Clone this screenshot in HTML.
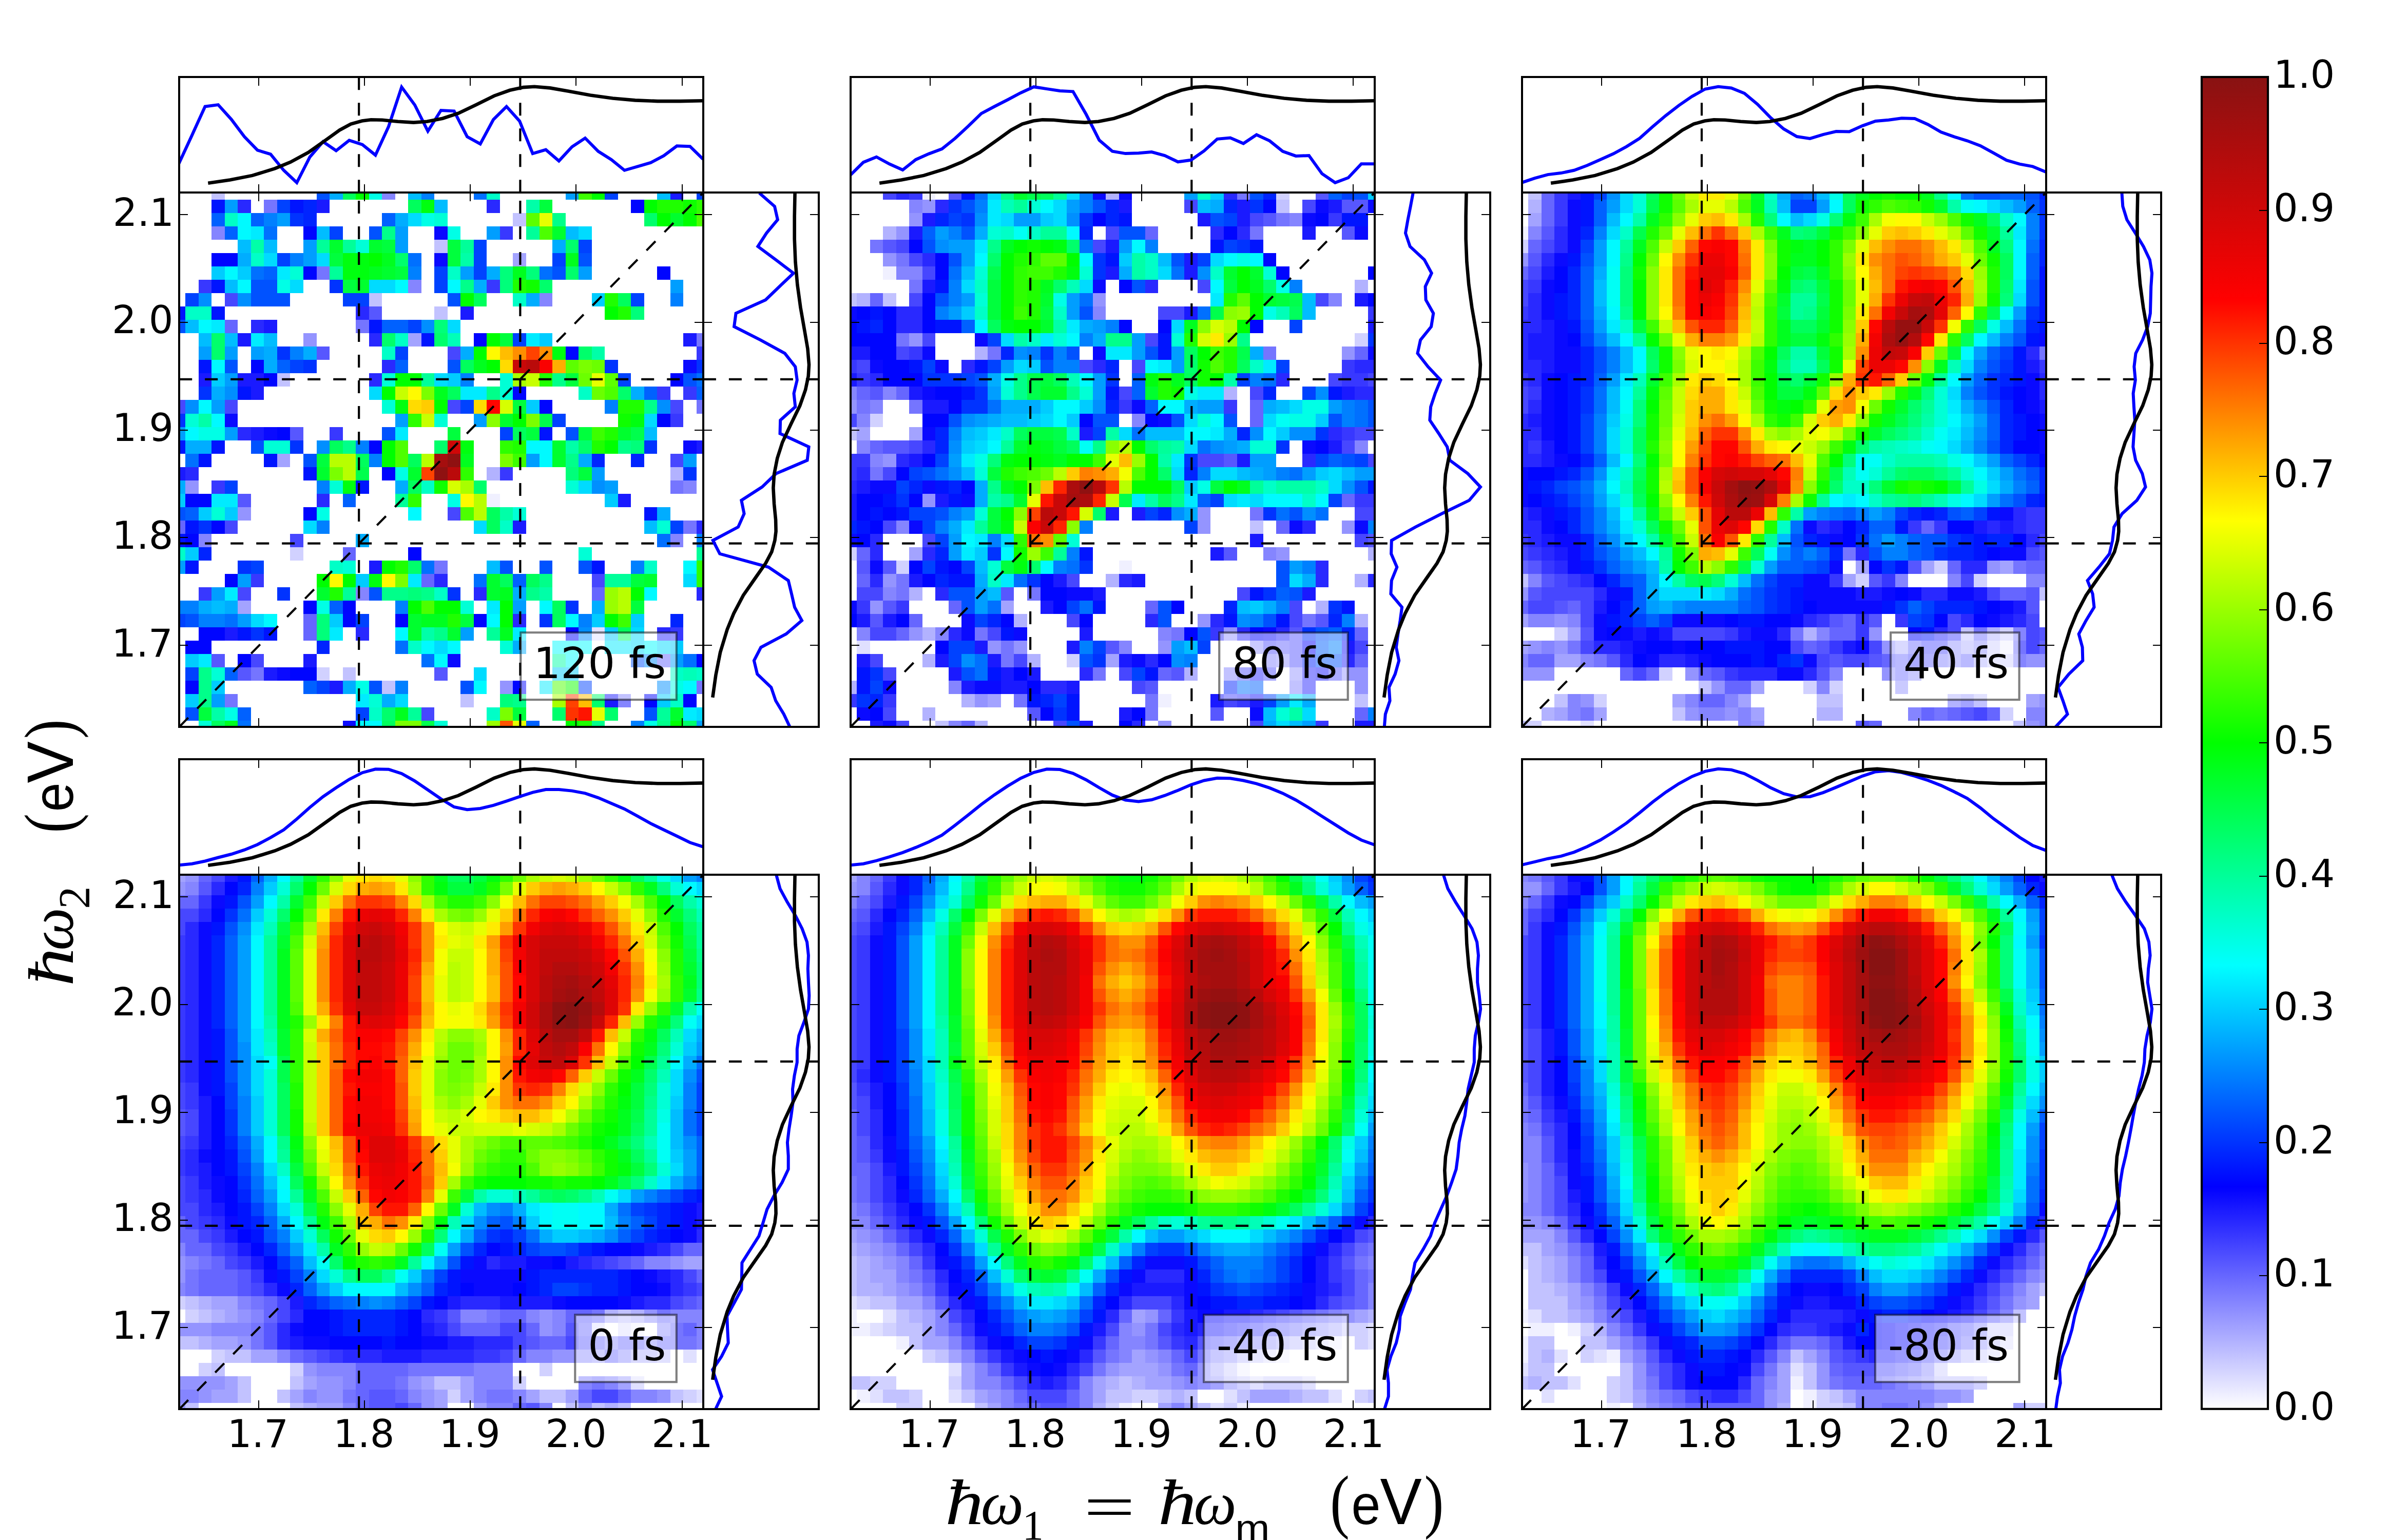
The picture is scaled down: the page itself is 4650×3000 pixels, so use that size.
<!DOCTYPE html><html><head><meta charset="utf-8"><title>2D spectra</title><style>html,body{margin:0;padding:0;background:#fff}svg{display:block}text{font-family:"DejaVu Sans","Liberation Sans",sans-serif;fill:#000}.m{font-family:"Liberation Serif","DejaVu Serif",serif;font-style:italic}.r{font-family:"Liberation Serif","DejaVu Serif",serif}</style></head><body>
<svg width="4650" height="3000" viewBox="0 0 4650 3000">
<rect width="4650" height="3000" fill="#fff"/>
<defs>
<clipPath id="h0"><rect x="349.2" y="375.2" width="1020.7" height="1040.8"/></clipPath>
<clipPath id="t0"><rect x="349.2" y="150.2" width="1020.7" height="225"/></clipPath>
<clipPath id="s0"><rect x="1369.9" y="375.2" width="224.7" height="1040.8"/></clipPath>
<clipPath id="h1"><rect x="1657.1" y="375.2" width="1020.7" height="1040.8"/></clipPath>
<clipPath id="t1"><rect x="1657.1" y="150.2" width="1020.7" height="225"/></clipPath>
<clipPath id="s1"><rect x="2677.8" y="375.2" width="224.7" height="1040.8"/></clipPath>
<clipPath id="h2"><rect x="2965" y="375.2" width="1020.7" height="1040.8"/></clipPath>
<clipPath id="t2"><rect x="2965" y="150.2" width="1020.7" height="225"/></clipPath>
<clipPath id="s2"><rect x="3985.7" y="375.2" width="224.7" height="1040.8"/></clipPath>
<clipPath id="h3"><rect x="349.2" y="1704.3" width="1020.7" height="1040.8"/></clipPath>
<clipPath id="t3"><rect x="349.2" y="1479.3" width="1020.7" height="225"/></clipPath>
<clipPath id="s3"><rect x="1369.9" y="1704.3" width="224.7" height="1040.8"/></clipPath>
<clipPath id="h4"><rect x="1657.1" y="1704.3" width="1020.7" height="1040.8"/></clipPath>
<clipPath id="t4"><rect x="1657.1" y="1479.3" width="1020.7" height="225"/></clipPath>
<clipPath id="s4"><rect x="2677.8" y="1704.3" width="224.7" height="1040.8"/></clipPath>
<clipPath id="h5"><rect x="2965" y="1704.3" width="1020.7" height="1040.8"/></clipPath>
<clipPath id="t5"><rect x="2965" y="1479.3" width="1020.7" height="225"/></clipPath>
<clipPath id="s5"><rect x="3985.7" y="1704.3" width="224.7" height="1040.8"/></clipPath>
<linearGradient id="cb" x1="0" y1="1" x2="0" y2="0">
<stop offset="0.0000" stop-color="#ffffff"/>
<stop offset="0.1667" stop-color="#0000ff"/>
<stop offset="0.3333" stop-color="#00ffff"/>
<stop offset="0.5000" stop-color="#00ff00"/>
<stop offset="0.6667" stop-color="#ffff00"/>
<stop offset="0.8333" stop-color="#ff0000"/>
<stop offset="1.0000" stop-color="#881212"/>
</linearGradient></defs>
<g clip-path="url(#h0)">
<g transform="translate(335.7 363) scale(25.53 26.03)" shape-rendering="crispEdges"><path fill="#f0f0ff" d="M24 23h1v1h-1z"/><path fill="#e0e0ff" d="M32 33h1v1h-1z"/><path fill="#d1d1ff" d="M9 27h1v1h-1zM11 36h1v1h-1z"/><path fill="#c2c2ff" d="M3 0h1v1h-1zM26 2h1v1h-1zM20 4h1v1h-1zM15 8h1v1h-1zM20 9h1v1h-1zM8 14h1v1h-1zM13 36h1v1h-1zM16 37h1v1h-1zM22 38h1v1h-1z"/><path fill="#b2b2ff" d="M24 21h1v1h-1zM38 21h1v1h-1z"/><path fill="#a3a3ff" d="M26 5h1v1h-1zM18 11h1v1h-1zM8 20h1v1h-1zM5 31h1v1h-1z"/><path fill="#9494ff" d="M10 11h1v1h-1zM1 22h1v1h-1zM5 24h1v1h-1zM25 37h1v1h-1z"/><path fill="#8585ff" d="M16 0h1v1h-1zM3 3h1v1h-1zM18 7h1v1h-1zM28 8h1v1h-1zM39 22h1v1h-1zM2 26h1v1h-1zM38 26h1v1h-1zM14 30h1v1h-1zM34 38h1v1h-1z"/><path fill="#7575ff" d="M7 1h1v1h-1zM11 6h1v1h-1zM14 10h1v1h-1zM40 11h1v1h-1zM40 16h1v1h-1zM38 22h1v1h-1zM39 25h1v1h-1zM20 28h1v1h-1zM6 36h1v1h-1zM40 37h1v1h-1zM4 38h1v1h-1z"/><path fill="#6666ff" d="M4 10h1v1h-1zM0 25h1v1h-1zM13 27h1v1h-1zM19 29h1v1h-1zM32 30h1v1h-1zM10 32h1v1h-1zM10 33h1v1h-1zM37 35h1v1h-1z"/><path fill="#5757ff" d="M15 9h1v1h-1zM11 12h1v1h-1zM9 18h1v1h-1zM5 23h1v1h-1zM3 35h1v1h-1zM5 36h1v1h-1zM20 36h1v1h-1z"/><path fill="#4747ff" d="M4 8h1v1h-1zM21 12h1v1h-1zM0 16h1v1h-1zM4 16h1v1h-1zM21 16h1v1h-1zM38 16h1v1h-1zM38 20h1v1h-1zM21 24h1v1h-1zM4 25h1v1h-1zM9 26h1v1h-1zM32 29h1v1h-1zM5 30h1v1h-1zM6 35h1v1h-1zM19 39h1v1h-1z"/><path fill="#3838ff" d="M25 3h1v1h-1zM2 7h1v1h-1zM24 7h1v1h-1zM40 12h1v1h-1zM37 15h1v1h-1zM39 15h1v1h-1zM38 17h1v1h-1zM12 18h1v1h-1zM25 21h1v1h-1zM3 22h1v1h-1zM6 29h1v1h-1zM2 30h1v1h-1zM38 33h1v1h-1z"/><path fill="#2929ff" d="M5 1h1v1h-1zM24 1h1v1h-1zM14 9h1v1h-1zM6 10h1v1h-1zM15 11h1v1h-1zM16 13h1v1h-1zM15 14h1v1h-1zM5 18h1v1h-1zM1 21h1v1h-1zM11 23h1v1h-1zM40 25h1v1h-1zM20 29h1v1h-1zM23 30h1v1h-1zM40 30h1v1h-1zM26 32h1v1h-1zM14 33h1v1h-1zM37 33h1v1h-1z"/><path fill="#1a1aff" d="M38 0h1v1h-1zM11 1h1v1h-1zM22 9h1v1h-1zM7 10h1v1h-1zM5 11h1v1h-1zM39 11h1v1h-1zM2 14h1v1h-1zM5 14h2v1h-2zM6 15h1v1h-1zM6 18h1v1h-1zM40 19h1v1h-1zM0 21h1v1h-1zM34 23h1v1h-1zM26 25h1v1h-1zM15 28h1v1h-1zM4 33h1v1h-1zM10 35h1v1h-1zM7 36h1v1h-1zM12 37h1v1h-1zM33 38h1v1h-1z"/><path fill="#0a0aff" d="M20 3h1v1h-1zM20 5h1v1h-1zM39 13h1v1h-1zM4 17h1v1h-1zM7 18h1v1h-1zM39 19h1v1h-1zM21 35h1v1h-1zM8 36h1v1h-1zM13 40h1v1h-1z"/><path fill="#0005ff" d="M35 1h1v1h-1zM10 3h1v1h-1zM3 5h2v1h-2zM10 6h1v1h-1zM37 6h1v1h-1zM23 11h1v1h-1zM30 12h1v1h-1zM6 13h1v1h-1zM7 14h1v1h-1zM38 14h1v1h-1zM26 15h1v1h-1zM28 16h1v1h-1zM37 17h1v1h-1zM8 18h1v1h-1zM15 19h1v1h-1zM16 21h1v1h-1zM1 23h2v1h-2zM10 24h1v1h-1zM3 25h1v1h-1zM1 26h1v1h-1zM18 27h1v1h-1zM4 29h1v1h-1zM10 31h1v1h-1zM13 31h1v1h-1zM13 32h1v1h-1zM17 32h1v1h-1zM23 32h1v1h-1zM2 33h2v1h-2zM30 33h1v1h-1zM1 34h2v1h-2zM5 35h1v1h-1zM40 35h1v1h-1zM9 36h2v1h-2zM1 37h1v1h-1zM26 37h1v1h-1zM36 38h1v1h-1zM39 38h1v1h-1z"/><path fill="#0014ff" d="M3 1h1v1h-1zM9 1h1v1h-1zM3 7h1v1h-1zM0 9h1v1h-1zM3 9h1v1h-1zM15 10h1v1h-1zM19 11h1v1h-1zM2 13h1v1h-1zM5 15h1v1h-1zM28 18h1v1h-1zM0 19h1v1h-1zM3 19h1v1h-1zM2 20h1v1h-1zM7 20h1v1h-1zM10 21h1v1h-1zM14 22h1v1h-1zM36 24h1v1h-1zM1 25h1v1h-1zM0 26h1v1h-1zM1 28h1v1h-1zM32 28h1v1h-1zM5 33h1v1h-1zM7 33h1v1h-1z"/><path fill="#0024ff" d="M10 1h1v1h-1zM10 2h1v1h-1zM32 20h1v1h-1zM35 20h1v1h-1zM2 27h1v1h-1zM38 32h1v1h-1zM11 34h1v1h-1z"/><path fill="#0033ff" d="M9 2h1v1h-1zM12 7h1v1h-1zM8 12h1v1h-1zM10 13h1v1h-1zM33 13h1v1h-1zM40 13h1v1h-1zM2 15h1v1h-1zM0 17h1v1h-1zM9 19h1v1h-1zM36 19h1v1h-1zM39 21h1v1h-1zM2 25h1v1h-1zM5 28h1v1h-1zM8 30h1v1h-1zM21 30h1v1h-1zM30 31h1v1h-1zM28 32h1v1h-1zM6 33h1v1h-1z"/><path fill="#0042ff" d="M33 0h1v1h-1zM40 0h1v1h-1zM8 1h1v1h-1zM12 3h1v1h-1zM23 4h1v1h-1zM31 4h1v1h-1zM8 5h1v1h-1zM23 5h1v1h-1zM29 5h1v1h-1zM20 6h1v1h-1zM23 6h1v1h-1zM20 7h1v1h-1zM1 8h1v1h-1zM13 8h2v1h-2zM35 8h1v1h-1zM18 10h1v1h-1zM26 11h1v1h-1zM17 12h1v1h-1zM9 13h1v1h-1zM34 14h1v1h-1zM22 16h1v1h-1zM29 17h1v1h-1zM25 18h1v1h-1zM4 22h1v1h-1zM38 25h1v1h-1zM6 28h1v1h-1zM0 32h1v1h-1zM14 32h1v1h-1zM1 36h1v1h-1zM11 37h1v1h-1zM31 37h1v1h-1zM14 39h1v1h-1z"/><path fill="#0052ff" d="M11 0h1v1h-1zM15 3h1v1h-1zM31 5h1v1h-1zM29 6h1v1h-1zM6 7h2v1h-2zM6 8h3v1h-3zM21 8h1v1h-1zM0 10h1v1h-1zM4 13h1v1h-1zM21 13h1v1h-1zM39 14h1v1h-1zM16 18h1v1h-1zM30 18h1v1h-1zM6 19h1v1h-1zM10 20h1v1h-1zM0 24h1v1h-1zM25 28h1v1h-1zM28 28h1v1h-1zM31 28h1v1h-1zM15 30h1v1h-1zM1 32h1v1h-1zM35 35h1v1h-1zM15 37h1v1h-1zM22 37h1v1h-1zM1 39h1v1h-1zM36 39h1v1h-1z"/><path fill="#0061ff" d="M3 2h1v1h-1zM6 2h1v1h-1zM16 2h1v1h-1zM4 3h1v1h-1zM7 6h1v1h-1zM16 10h2v1h-2zM8 13h1v1h-1zM17 13h1v1h-1zM36 15h1v1h-1zM40 15h1v1h-1zM13 23h1v1h-1zM1 24h1v1h-1zM26 29h1v1h-1zM12 31h1v1h-1zM4 36h1v1h-1zM10 37h1v1h-1zM5 39h1v1h-1zM27 40h1v1h-1z"/><path fill="#0070ff" d="M23 0h1v1h-1zM7 3h1v1h-1zM18 5h1v1h-1zM6 6h1v1h-1zM28 6h1v1h-1zM40 14h1v1h-1zM1 20h1v1h-1zM37 26h1v1h-1zM19 28h1v1h-1zM23 29h1v1h-1zM4 32h1v1h-1zM17 34h1v1h-1zM19 35h1v1h-1zM39 35h1v1h-1zM5 40h1v1h-1z"/><path fill="#0080ff" d="M19 0h1v1h-1zM7 2h1v1h-1zM9 5h1v1h-1zM18 6h1v1h-1zM38 8h1v1h-1zM9 12h1v1h-1zM22 14h1v1h-1zM33 16h1v1h-1zM14 19h1v1h-1zM15 20h1v1h-1zM11 22h1v1h-1zM11 25h1v1h-1zM40 26h1v1h-1zM35 28h1v1h-1zM0 31h2v1h-2zM17 31h1v1h-1zM2 32h2v1h-2zM31 32h1v1h-1zM17 37h1v1h-1zM35 40h1v1h-1z"/><path fill="#008fff" d="M2 8h1v1h-1zM5 8h1v1h-1zM19 10h1v1h-1zM4 15h1v1h-1zM1 16h1v1h-1zM37 16h1v1h-1zM11 19h1v1h-1zM32 22h1v1h-1zM31 33h1v1h-1zM36 35h1v1h-1zM37 37h1v1h-1z"/><path fill="#009eff" d="M30 0h1v1h-1zM4 1h1v1h-1zM8 2h1v1h-1zM17 3h1v1h-1zM24 3h1v1h-1zM10 4h1v1h-1zM17 4h1v1h-1zM10 5h1v1h-1zM22 6h1v1h-1zM31 6h1v1h-1zM38 7h1v1h-1zM2 12h1v1h-1zM4 12h1v1h-1zM6 12h1v1h-1zM4 14h1v1h-1zM3 16h1v1h-1zM17 17h1v1h-1zM23 17h1v1h-1zM0 18h1v1h-1zM4 18h1v1h-1zM27 20h1v1h-1zM39 20h1v1h-1zM32 21h1v1h-1zM33 22h1v1h-1zM0 28h1v1h-1zM5 29h1v1h-1zM3 30h1v1h-1zM26 31h1v1h-1zM5 32h1v1h-1zM22 33h1v1h-1zM38 35h1v1h-1zM3 38h1v1h-1zM40 40h1v1h-1z"/><path fill="#00adff" d="M12 0h1v1h-1zM17 2h1v1h-1zM29 4h1v1h-1zM5 5h1v1h-1zM24 6h1v1h-1zM23 7h1v1h-1zM27 8h1v1h-1zM7 12h1v1h-1zM10 12h1v1h-1zM22 12h1v1h-1zM7 13h1v1h-1zM3 15h1v1h-1zM35 15h1v1h-1zM1 19h2v1h-2zM31 20h1v1h-1zM0 22h1v1h-1zM17 22h1v1h-1zM37 24h1v1h-1zM14 26h1v1h-1zM26 30h1v1h-1zM2 31h1v1h-1zM4 31h1v1h-1zM32 31h1v1h-1zM26 34h1v1h-1zM13 37h1v1h-1zM16 38h1v1h-1z"/><path fill="#00bdff" d="M18 0h1v1h-1zM37 0h1v1h-1zM20 1h1v1h-1zM11 3h1v1h-1zM30 3h1v1h-1zM5 4h1v1h-1zM7 4h1v1h-1zM4 7h1v1h-1zM1 10h1v1h-1zM2 11h1v1h-1zM4 11h1v1h-1zM7 11h1v1h-1zM36 18h1v1h-1zM36 25h1v1h-1zM24 28h1v1h-1zM3 31h1v1h-1z"/><path fill="#00ccff" d="M3 6h1v1h-1zM5 6h1v1h-1zM32 8h1v1h-1zM28 11h1v1h-1zM3 14h1v1h-1zM21 14h1v1h-1zM27 16h1v1h-1zM0 23h1v1h-1zM33 23h1v1h-1zM2 24h1v1h-1zM4 24h1v1h-1zM1 27h1v1h-1zM14 29h1v1h-1zM12 32h1v1h-1zM32 32h1v1h-1zM35 32h1v1h-1zM33 33h1v1h-1zM38 34h1v1h-1zM1 35h1v1h-1zM29 36h2v1h-2zM3 37h1v1h-1zM1 38h1v1h-1zM37 38h1v1h-1z"/><path fill="#00dbff" d="M18 2h1v1h-1zM31 3h1v1h-1zM7 5h1v1h-1zM11 5h1v1h-1zM9 7h1v1h-1zM15 7h2v1h-2zM21 10h1v1h-1zM20 14h1v1h-1zM15 15h1v1h-1zM36 17h1v1h-1zM31 22h1v1h-1zM10 25h1v1h-1zM23 25h1v1h-1zM39 29h1v1h-1zM6 32h1v1h-1zM35 33h1v1h-1zM20 34h1v1h-1zM35 34h1v1h-1zM37 34h1v1h-1zM23 36h1v1h-1zM17 38h1v1h-1zM40 39h1v1h-1z"/><path fill="#00ebff" d="M6 3h1v1h-1zM8 6h1v1h-1zM3 10h1v1h-1zM6 11h1v1h-1zM27 11h1v1h-1zM22 15h2v1h-2zM17 18h1v1h-1zM3 23h2v1h-2zM18 29h1v1h-1zM4 30h1v1h-1zM24 31h1v1h-1zM12 33h1v1h-1zM26 33h1v1h-1zM33 34h2v1h-2zM2 35h1v1h-1zM28 37h1v1h-1zM14 38h1v1h-1zM39 39h1v1h-1z"/><path fill="#00faff" d="M5 2h1v1h-1zM5 3h1v1h-1zM4 6h1v1h-1zM5 7h1v1h-1zM17 7h1v1h-1zM21 7h1v1h-1zM2 10h1v1h-1zM3 13h1v1h-1zM2 16h1v1h-1zM3 17h1v1h-1zM1 18h1v1h-1zM27 19h2v1h-2zM28 20h1v1h-1zM18 24h1v1h-1zM39 28h1v1h-1zM36 30h1v1h-1zM28 31h1v1h-1zM7 32h1v1h-1zM24 32h1v1h-1zM30 32h1v1h-1zM17 33h1v1h-1zM19 34h1v1h-1zM21 34h1v1h-1zM29 34h1v1h-1zM31 34h1v1h-1zM36 34h1v1h-1zM20 35h1v1h-1zM30 35h1v1h-1zM23 37h1v1h-1zM39 37h1v1h-1zM14 40h2v1h-2z"/><path fill="#00fff5" d="M30 34h1v1h-1z"/><path fill="#00ffe6" d="M15 0h1v1h-1zM19 2h1v1h-1zM21 3h1v1h-1zM8 7h1v1h-1zM2 18h2v1h-2zM17 21h1v1h-1zM21 23h1v1h-1zM11 24h1v1h-1zM11 31h1v1h-1zM14 37h1v1h-1zM38 37h1v1h-1zM4 39h1v1h-1zM36 40h1v1h-1z"/><path fill="#00ffd6" d="M20 2h1v1h-1zM14 4h1v1h-1zM9 6h1v1h-1zM16 14h1v1h-1zM25 14h1v1h-1zM25 15h1v1h-1zM16 16h1v1h-1zM1 17h1v1h-1zM20 17h1v1h-1zM7 19h2v1h-2zM12 22h1v1h-1zM30 22h1v1h-1zM3 24h1v1h-1zM26 24h1v1h-1zM37 25h1v1h-1zM31 27h1v1h-1zM13 28h1v1h-1zM22 31h1v1h-1zM25 34h1v1h-1zM3 36h1v1h-1zM15 38h1v1h-1zM2 40h1v1h-1zM20 40h1v1h-1z"/><path fill="#00ffc7" d="M24 0h1v1h-1zM4 2h1v1h-1zM6 5h1v1h-1zM21 6h1v1h-1zM26 8h1v1h-1zM1 9h2v1h-2zM17 11h1v1h-1zM16 12h1v1h-1zM31 15h1v1h-1zM19 22h1v1h-1zM25 25h1v1h-1zM0 27h1v1h-1zM12 28h1v1h-1zM36 28h1v1h-1zM20 30h1v1h-1zM18 34h1v1h-1zM38 36h1v1h-1zM40 36h1v1h-1zM38 38h1v1h-1zM15 39h1v1h-1zM24 39h1v1h-1z"/><path fill="#00ffb8" d="M21 11h1v1h-1zM39 36h1v1h-1z"/><path fill="#00ffa8" d="M27 1h1v1h-1zM6 4h1v1h-1zM22 5h1v1h-1zM32 12h1v1h-1zM2 17h1v1h-1zM30 19h1v1h-1zM25 24h1v1h-1zM28 30h1v1h-1zM19 33h1v1h-1zM29 35h1v1h-1zM3 39h1v1h-1z"/><path fill="#00ff99" d="M27 3h1v1h-1zM11 4h1v1h-1zM13 4h1v1h-1zM22 4h1v1h-1zM12 6h1v1h-1zM19 14h1v1h-1zM17 23h1v1h-1zM40 27h1v1h-1zM33 29h2v1h-2zM13 30h1v1h-1zM24 33h1v1h-1zM18 39h1v1h-1zM37 39h1v1h-1z"/><path fill="#00ff8a" d="M29 2h1v1h-1zM16 3h1v1h-1zM22 7h1v1h-1zM29 14h1v1h-1zM24 15h1v1h-1zM36 16h1v1h-1zM13 19h1v1h-1zM34 19h1v1h-1zM30 20h1v1h-1zM28 29h1v1h-1zM16 30h2v1h-2zM19 30h1v1h-1zM27 30h1v1h-1zM20 33h1v1h-1zM2 36h1v1h-1zM2 37h1v1h-1zM2 38h1v1h-1zM26 38h1v1h-1zM32 40h1v1h-1zM37 40h1v1h-1z"/><path fill="#00ff7a" d="M25 6h1v1h-1zM27 6h1v1h-1zM25 7h1v1h-1zM35 9h1v1h-1zM20 10h1v1h-1zM35 19h1v1h-1zM30 21h1v1h-1zM18 30h1v1h-1zM11 32h1v1h-1zM11 33h1v1h-1zM25 38h1v1h-1z"/><path fill="#00ff6b" d="M36 2h1v1h-1zM30 4h1v1h-1zM17 5h1v1h-1zM30 6h1v1h-1zM28 7h1v1h-1zM3 11h1v1h-1zM16 11h1v1h-1zM20 11h1v1h-1zM3 12h1v1h-1zM31 12h1v1h-1zM34 15h1v1h-1zM20 19h1v1h-1zM31 19h1v1h-1zM23 22h1v1h-1zM18 28h1v1h-1zM32 38h1v1h-1zM16 39h1v1h-1zM29 39h1v1h-1zM33 39h1v1h-1zM39 40h1v1h-1z"/><path fill="#00ff5c" d="M13 0h1v1h-1zM18 1h1v1h-1zM23 8h1v1h-1zM34 8h1v1h-1zM22 13h1v1h-1zM21 15h1v1h-1zM26 18h1v1h-1zM12 19h1v1h-1zM14 20h1v1h-1zM18 20h1v1h-1zM18 22h1v1h-1zM24 24h1v1h-1zM24 25h1v1h-1zM25 29h1v1h-1zM27 29h1v1h-1zM29 31h1v1h-1zM29 32h1v1h-1zM34 33h1v1h-1zM3 40h1v1h-1zM16 40h1v1h-1z"/><path fill="#00ff4c" d="M28 17h1v1h-1zM35 18h1v1h-1zM14 21h1v1h-1zM19 40h1v1h-1z"/><path fill="#00ff3d" d="M28 1h1v1h-1zM16 4h1v1h-1zM21 4h1v1h-1zM12 5h1v1h-1zM21 5h1v1h-1zM17 6h1v1h-1zM13 7h1v1h-1zM25 11h1v1h-1zM30 14h1v1h-1zM26 16h1v1h-1zM21 18h1v1h-1zM27 18h1v1h-1zM31 18h1v1h-1zM11 20h1v1h-1zM31 21h1v1h-1zM35 29h1v1h-1zM35 31h1v1h-1zM22 32h1v1h-1zM2 39h1v1h-1zM26 39h1v1h-1z"/><path fill="#00ff2e" d="M38 2h1v1h-1zM29 3h1v1h-1zM12 4h1v1h-1zM15 4h1v1h-1zM16 6h1v1h-1zM14 7h1v1h-1zM25 17h1v1h-1zM34 18h1v1h-1zM29 19h1v1h-1zM29 20h1v1h-1zM11 21h1v1h-1zM18 21h1v1h-1zM24 29h1v1h-1zM36 29h1v1h-1zM11 30h1v1h-1zM24 30h1v1h-1zM18 32h1v1h-1zM18 33h1v1h-1zM21 33h1v1h-1zM38 39h1v1h-1z"/><path fill="#00ff1f" d="M16 5h1v1h-1zM30 5h1v1h-1zM15 6h1v1h-1zM26 6h1v1h-1zM23 13h1v1h-1zM20 15h1v1h-1zM22 20h1v1h-1zM25 30h1v1h-1zM19 32h2v1h-2zM25 33h1v1h-1zM17 39h1v1h-1zM4 40h1v1h-1z"/><path fill="#00ff0f" d="M19 1h1v1h-1zM13 5h2v1h-2zM13 6h2v1h-2zM29 12h1v1h-1zM17 16h1v1h-1zM35 17h1v1h-1zM22 19h1v1h-1zM13 22h1v1h-1zM15 29h1v1h-1z"/><path fill="#00ff00" d="M14 0h1v1h-1zM32 0h1v1h-1zM36 1h1v1h-1zM37 2h1v1h-1zM39 2h1v1h-1zM15 5h1v1h-1zM22 8h1v1h-1zM33 9h1v1h-1zM24 11h1v1h-1zM23 12h1v1h-1zM24 13h1v1h-1zM17 14h2v1h-2zM16 15h1v1h-1zM20 16h1v1h-1zM26 17h1v1h-1zM16 19h1v1h-1zM33 19h1v1h-1zM16 20h1v1h-1zM16 28h1v1h-1zM11 29h1v1h-1zM13 29h1v1h-1zM35 30h1v1h-1zM18 31h1v1h-1zM20 31h2v1h-2zM25 31h1v1h-1zM25 32h1v1h-1zM33 32h1v1h-1zM30 40h1v1h-1zM38 40h1v1h-1z"/><path fill="#0fff00" d="M39 1h1v1h-1zM27 7h1v1h-1zM34 17h1v1h-1zM20 22h1v1h-1zM30 37h1v1h-1z"/><path fill="#1fff00" d="M37 1h2v1h-2zM26 7h1v1h-1zM33 8h1v1h-1zM34 9h1v1h-1zM28 14h1v1h-1zM34 16h2v1h-2zM33 18h1v1h-1zM26 19h1v1h-1zM32 19h1v1h-1zM17 28h1v1h-1zM12 30h1v1h-1zM21 32h1v1h-1zM31 40h1v1h-1z"/><path fill="#2eff00" d="M40 1h1v1h-1zM18 17h1v1h-1zM25 19h1v1h-1zM22 21h1v1h-1zM18 23h1v1h-1zM40 28h1v1h-1zM40 29h1v1h-1z"/><path fill="#3dff00" d="M31 0h1v1h-1zM32 18h1v1h-1zM26 20h1v1h-1zM34 32h1v1h-1z"/><path fill="#4dff00" d="M40 2h1v1h-1zM28 3h1v1h-1zM33 15h1v1h-1zM17 19h1v1h-1zM17 20h1v1h-1zM22 24h1v1h-1zM19 31h1v1h-1zM29 37h1v1h-1z"/><path fill="#5cff00" d="M27 2h1v1h-1zM30 13h1v1h-1zM33 14h1v1h-1z"/><path fill="#6bff00" d="M32 13h1v1h-1zM31 14h1v1h-1zM32 15h1v1h-1z"/><path fill="#7aff00" d="M31 13h1v1h-1zM19 15h1v1h-1zM27 17h1v1h-1zM25 20h1v1h-1zM12 21h1v1h-1zM17 29h1v1h-1zM25 39h1v1h-1zM17 40h2v1h-2z"/><path fill="#8aff00" d="M24 17h1v1h-1z"/><path fill="#99ff00" d="M33 30h1v1h-1zM33 31h1v1h-1zM24 40h1v1h-1z"/><path fill="#a8ff00" d="M26 14h1v1h-1zM22 22h1v1h-1zM29 38h1v1h-1z"/><path fill="#b8ff00" d="M12 20h2v1h-2zM19 20h1v1h-1zM13 21h1v1h-1zM23 23h1v1h-1zM23 24h1v1h-1zM34 30h1v1h-1zM34 31h1v1h-1z"/><path fill="#c7ff00" d="M27 14h1v1h-1zM17 15h1v1h-1zM19 17h1v1h-1z"/><path fill="#d6ff00" d="M25 16h1v1h-1zM21 22h1v1h-1z"/><path fill="#e6ff00" d="M28 2h1v1h-1zM32 14h1v1h-1zM32 39h1v1h-1zM26 40h1v1h-1z"/><path fill="#fffa00" d="M24 12h1v1h-1zM18 15h1v1h-1zM22 23h1v1h-1zM12 29h1v1h-1zM16 29h1v1h-1z"/><path fill="#ffdb00" d="M25 13h1v1h-1zM18 16h1v1h-1zM23 16h1v1h-1z"/><path fill="#ffcc00" d="M19 16h1v1h-1z"/><path fill="#ffbd00" d="M25 12h1v1h-1zM31 38h1v1h-1z"/><path fill="#ffad00" d="M29 13h1v1h-1z"/><path fill="#ff8f00" d="M26 12h1v1h-1zM28 12h1v1h-1z"/><path fill="#ff5200" d="M25 40h1v1h-1z"/><path fill="#ff4200" d="M27 12h1v1h-1zM19 21h1v1h-1zM30 38h1v1h-1z"/><path fill="#ff3300" d="M30 39h1v1h-1z"/><path fill="#ff1400" d="M31 39h1v1h-1z"/><path fill="#ff0500" d="M24 16h1v1h-1z"/><path fill="#fa0101" d="M28 13h1v1h-1z"/><path fill="#cf0707" d="M21 19h1v1h-1z"/><path fill="#c80808" d="M26 13h1v1h-1z"/><path fill="#ba0a0a" d="M27 13h1v1h-1zM21 21h1v1h-1z"/><path fill="#a50e0e" d="M20 20h1v1h-1z"/><path fill="#8f1111" d="M21 20h1v1h-1zM20 21h1v1h-1z"/></g>
</g>
<g stroke="#000" stroke-width="4.17" fill="none" stroke-dasharray="25 25">
<path d="M699.2 1416V375.2M699.2 375.2V150.2"/>
<path d="M1013.4 1416V375.2M1013.4 375.2V150.2"/>
<path d="M349.2 1058.7H1369.9M1369.9 1058.7H1594.6"/>
<path d="M349.2 738.8H1369.9M1369.9 738.8H1594.6"/>
<path d="M349.2 1416L1369.9 375.2"/>
</g>
<g clip-path="url(#t0)">
<polyline fill="none" stroke="#0000ff" stroke-width="6.0" stroke-linejoin="miter" stroke-miterlimit="10" points="348.4,318.8 374,263.4 399.5,207.5 425,204.1 450.6,232.4 476.1,266.4 501.6,292.6 527.1,300.4 552.7,331.8 578.2,355.8 603.7,305.7 629.3,276 654.8,293.5 680.3,273.4 705.9,281.7 731.4,302.2 756.9,246.8 782.4,169.6 808,204.5 833.5,255.5 859,215 884.6,216.3 910.1,266.4 935.6,280.4 961.2,232.8 986.7,207.5 1012.2,235.9 1037.7,299.1 1063.3,291.7 1088.8,313.5 1114.3,286 1139.9,269 1165.4,294.8 1190.9,310.9 1216.5,331.8 1242,324.4 1267.5,317 1293,303.5 1318.6,284.3 1344.1,285.2 1369.6,310" />
<polyline fill="none" stroke="#000" stroke-width="6.6" stroke-linejoin="miter" stroke-miterlimit="10" points="405.3,356.7 448,350.6 491.6,341.9 535.3,328.4 565.8,315.8 600.7,297 635.6,272.1 661.7,253.4 683.5,241.6 705.3,235.5 722.8,233.3 744.6,233.8 775.1,236.8 805.6,238.6 831.8,236.8 862.3,230.7 892.9,220.7 927.8,204.1 962.6,186.7 993.2,175.8 1019.3,170.1 1041.1,168.8 1071.7,171.4 1106.6,177.5 1150.2,185.4 1193.8,191.5 1237.4,195.4 1281,197.1 1324.6,197.1 1369.5,196.3" />
</g>
<g clip-path="url(#s0)">
<polyline fill="none" stroke="#0000ff" stroke-width="6.0" stroke-linejoin="miter" stroke-miterlimit="10" points="1479.2,376 1509,402 1514.9,428 1493.2,454.1 1476.4,480.1 1511.4,506.1 1545.8,532.2 1518.4,558.2 1491.4,584.2 1433.6,610.3 1430.1,636.3 1481.6,662.3 1528.9,688.3 1549.3,714.4 1552.8,740.4 1546.5,766.4 1549.3,792.5 1520.2,818.5 1519.5,844.5 1575.6,870.6 1572.6,896.6 1511.8,922.6 1484.7,948.6 1444.3,974.7 1449.6,1000.7 1438,1026.7 1388.8,1052.8 1402.2,1078.8 1497,1104.8 1535.7,1130.9 1542,1156.9 1548,1182.9 1562,1208.9 1531.5,1235 1482.3,1261 1468.9,1287 1475.2,1313.1 1502.3,1339.1 1511.1,1365.1 1526.9,1391.2 1539.2,1417.2" />
<polyline fill="none" stroke="#000" stroke-width="6.6" stroke-linejoin="miter" stroke-miterlimit="10" points="1388.3,1358.8 1394.4,1315.2 1403.1,1270.8 1416.6,1226.3 1429.3,1195.2 1448,1159.6 1472.8,1124 1491.5,1097.3 1503.3,1075.1 1509.4,1052.9 1511.6,1035.1 1511.1,1012.8 1508.1,981.7 1506.4,950.6 1508.1,923.9 1514.2,892.8 1524.2,861.6 1540.8,826.1 1558.2,790.5 1569.1,759.4 1574.7,732.7 1576,710.4 1573.4,679.3 1567.3,643.7 1559.5,599.3 1553.4,554.8 1549.5,510.3 1547.7,465.8 1547.7,421.4 1548.6,375.6" />
</g>
<rect x="1014.3" y="1232.2" width="303.5" height="130.9" fill="#fff" fill-opacity="0.5" stroke="#000" stroke-opacity="0.5" stroke-width="4.17"/>
<text x="1297.4" y="1321" font-size="83.3" text-anchor="end">120 fs</text>
<path stroke="#000" stroke-width="2.0" fill="none" shape-rendering="crispEdges" d="M504.3 1416v-16.7M504.3 358.5v33.4M504.3 150.2v16.7M349.2 1257.2h16.7M1353.2 1257.2h33.4M1594.6 1257.2h-16.7M710.4 1416v-16.7M710.4 358.5v33.4M710.4 150.2v16.7M349.2 1047.4h16.7M1353.2 1047.4h33.4M1594.6 1047.4h-16.7M916.4 1416v-16.7M916.4 358.5v33.4M916.4 150.2v16.7M349.2 837.6h16.7M1353.2 837.6h33.4M1594.6 837.6h-16.7M1122.4 1416v-16.7M1122.4 358.5v33.4M1122.4 150.2v16.7M349.2 627.8h16.7M1353.2 627.8h33.4M1594.6 627.8h-16.7M1328.5 1416v-16.7M1328.5 358.5v33.4M1328.5 150.2v16.7M349.2 418h16.7M1353.2 418h33.4M1594.6 418h-16.7"/>
<g stroke="#000" stroke-width="4" fill="none" stroke-linecap="square" shape-rendering="crispEdges">
<rect x="349.2" y="150.2" width="1020.7" height="225"/>
<rect x="349.2" y="375.2" width="1020.7" height="1040.8"/>
<rect x="1369.9" y="375.2" width="224.7" height="1040.8"/>
</g>
<text x="336.8" y="1278.7" font-size="75" text-anchor="end">1.7</text>
<text x="337.5" y="1068.9" font-size="75" text-anchor="end">1.8</text>
<text x="338" y="859.1" font-size="75" text-anchor="end">1.9</text>
<text x="337.4" y="649.3" font-size="75" text-anchor="end">2.0</text>
<text x="339" y="439.5" font-size="75" text-anchor="end">2.1</text>
<g clip-path="url(#h1)">
<g transform="translate(1643.6 363) scale(25.53 26.03)" shape-rendering="crispEdges"><path fill="#f0f0ff" d="M6 0h1v1h-1zM3 6h1v1h-1zM21 28h1v1h-1zM24 38h1v1h-1z"/><path fill="#e0e0ff" d="M1 34h1v1h-1z"/><path fill="#d1d1ff" d="M33 0h1v1h-1zM39 11h1v1h-1zM2 17h1v1h-1zM0 27h1v1h-1zM4 28h1v1h-1zM17 35h1v1h-1z"/><path fill="#c2c2ff" d="M33 1h1v1h-1zM0 8h1v1h-1zM3 8h1v1h-1zM0 18h1v1h-1zM31 25h1v1h-1zM39 38h1v1h-1zM7 40h1v1h-1z"/><path fill="#b2b2ff" d="M20 0h1v1h-1zM3 3h1v1h-1zM39 7h1v1h-1zM1 8h1v1h-1zM10 12h1v1h-1zM29 15h1v1h-1zM40 27h1v1h-1zM20 29h1v1h-1zM39 29h1v1h-1zM5 30h1v1h-1zM36 31h1v1h-1zM13 32h1v1h-1zM39 32h1v1h-1zM6 33h1v1h-1zM6 35h1v1h-1zM14 35h1v1h-1zM26 36h1v1h-1zM0 37h1v1h-1zM9 38h1v1h-1zM6 39h1v1h-1zM10 40h1v1h-1z"/><path fill="#a3a3ff" d="M1 18h1v1h-1zM5 18h1v1h-1zM5 27h1v1h-1zM12 31h1v1h-1zM20 35h1v1h-1zM11 38h1v1h-1z"/><path fill="#9494ff" d="M6 1h1v1h-1zM5 2h1v1h-1zM4 3h1v1h-1zM3 5h1v1h-1zM19 8h1v1h-1zM5 11h1v1h-1zM38 12h1v1h-1zM0 16h1v1h-1zM3 20h1v1h-1zM6 23h1v1h-1zM27 24h1v1h-1zM27 25h1v1h-1zM38 25h1v1h-1zM33 27h1v1h-1zM3 29h1v1h-1zM2 31h1v1h-1zM27 32h1v1h-1zM5 33h1v1h-1zM29 33h1v1h-1zM11 34h1v1h-1zM13 34h1v1h-1zM24 34h1v1h-1zM31 34h1v1h-1zM33 35h1v1h-1zM34 36h1v1h-1zM38 36h2v1h-2zM39 37h1v1h-1zM10 38h1v1h-1zM24 40h1v1h-1z"/><path fill="#8585ff" d="M5 1h1v1h-1zM34 2h1v1h-1zM4 6h2v1h-2zM37 8h1v1h-1zM19 9h1v1h-1zM0 15h1v1h-1zM3 15h1v1h-1zM2 16h1v1h-1zM1 17h1v1h-1zM22 17h1v1h-1zM1 19h1v1h-1zM39 19h1v1h-1zM2 20h1v1h-1zM4 25h1v1h-1zM32 27h1v1h-1zM3 30h1v1h-1zM1 33h1v1h-1zM7 33h1v1h-1zM24 33h1v1h-1zM21 34h1v1h-1zM32 35h1v1h-1zM29 36h1v1h-1zM8 37h1v1h-1zM34 37h1v1h-1zM8 40h1v1h-1z"/><path fill="#7575ff" d="M30 0h1v1h-1zM33 2h1v1h-1zM31 3h1v1h-1zM2 4h1v1h-1zM4 5h1v1h-1zM5 7h1v1h-1zM4 11h1v1h-1zM11 12h1v1h-1zM32 12h1v1h-1zM1 16h1v1h-1zM5 16h1v1h-1zM2 21h1v1h-1zM31 24h1v1h-1zM4 29h1v1h-1zM4 30h1v1h-1zM14 30h1v1h-1zM35 32h1v1h-1zM10 33h1v1h-1zM25 33h1v1h-1zM12 34h1v1h-1zM12 35h1v1h-1zM19 36h1v1h-1zM13 38h1v1h-1zM23 38h1v1h-1zM23 39h1v1h-1z"/><path fill="#6666ff" d="M23 3h1v1h-1zM2 8h1v1h-1zM39 12h1v1h-1zM1 15h1v1h-1zM4 15h1v1h-1zM31 16h1v1h-1zM31 17h1v1h-1zM2 19h1v1h-1zM38 23h1v1h-1zM33 25h1v1h-1zM1 27h1v1h-1zM1 29h1v1h-1zM8 31h1v1h-1zM23 31h1v1h-1zM5 32h1v1h-1zM4 33h1v1h-1zM39 33h1v1h-1zM33 34h1v1h-1zM39 35h1v1h-1zM24 36h1v1h-1zM39 39h1v1h-1zM9 40h1v1h-1z"/><path fill="#5757ff" d="M8 0h1v1h-1zM36 0h1v1h-1zM38 1h2v1h-2zM32 2h1v1h-1zM38 3h1v1h-1zM3 4h1v1h-1zM2 15h1v1h-1zM3 19h2v1h-2zM29 20h1v1h-1zM40 26h1v1h-1zM29 27h1v1h-1zM1 28h1v1h-1zM3 28h1v1h-1zM12 30h1v1h-1zM3 31h1v1h-1zM2 32h1v1h-1zM36 32h1v1h-1zM34 33h1v1h-1zM20 34h1v1h-1zM32 34h1v1h-1zM34 34h1v1h-1zM34 35h1v1h-1zM25 36h1v1h-1zM30 36h1v1h-1zM32 36h1v1h-1zM37 36h1v1h-1zM23 37h1v1h-1zM14 39h1v1h-1zM28 39h1v1h-1z"/><path fill="#4747ff" d="M3 0h1v1h-1zM26 1h1v1h-1zM35 1h1v1h-1zM31 2h1v1h-1zM20 3h1v1h-1zM4 4h1v1h-1zM19 4h1v1h-1zM5 5h1v1h-1zM6 6h1v1h-1zM27 7h1v1h-1zM5 8h1v1h-1zM36 8h1v1h-1zM24 9h2v1h-2zM6 11h1v1h-1zM23 11h1v1h-1zM4 12h1v1h-1zM1 13h1v1h-1zM18 13h1v1h-1zM22 13h1v1h-1zM37 14h1v1h-1zM40 14h1v1h-1zM21 15h1v1h-1zM31 15h1v1h-1zM0 17h1v1h-1zM39 18h2v1h-2zM5 19h1v1h-1zM38 19h1v1h-1zM27 20h2v1h-2zM40 20h1v1h-1zM3 21h1v1h-1zM39 24h2v1h-2zM3 25h1v1h-1zM6 26h1v1h-1zM39 26h1v1h-1zM17 29h1v1h-1zM1 30h2v1h-2zM30 30h1v1h-1zM34 31h1v1h-1zM17 32h1v1h-1zM34 32h1v1h-1zM2 33h2v1h-2zM11 33h1v1h-1zM39 34h1v1h-1zM2 35h1v1h-1zM13 35h1v1h-1zM3 36h1v1h-1zM21 36h1v1h-1zM22 37h1v1h-1zM29 38h1v1h-1zM3 39h1v1h-1zM4 40h1v1h-1zM16 40h1v1h-1zM31 40h1v1h-1z"/><path fill="#3838ff" d="M5 0h1v1h-1zM37 2h1v1h-1zM40 9h1v1h-1zM5 12h1v1h-1zM0 13h1v1h-1zM38 13h1v1h-1zM1 14h1v1h-1zM38 14h2v1h-2zM21 16h1v1h-1zM29 16h1v1h-1zM38 18h1v1h-1zM0 20h2v1h-2zM0 21h1v1h-1zM39 23h2v1h-2zM1 31h1v1h-1zM4 31h1v1h-1zM28 33h1v1h-1zM0 38h1v1h-1zM3 38h1v1h-1zM30 38h1v1h-1zM36 40h1v1h-1z"/><path fill="#2929ff" d="M4 0h1v1h-1zM29 0h1v1h-1zM7 1h1v1h-1zM28 3h1v1h-1zM30 3h1v1h-1zM6 5h1v1h-1zM23 7h1v1h-1zM4 9h2v1h-2zM4 10h2v1h-2zM9 13h1v1h-1zM19 13h1v1h-1zM39 13h2v1h-2zM2 14h1v1h-1zM33 14h1v1h-1zM39 15h2v1h-2zM37 18h1v1h-1zM6 19h1v1h-1zM4 20h1v1h-1zM35 20h1v1h-1zM1 21h1v1h-1zM0 22h1v1h-1zM35 25h1v1h-1zM2 26h1v1h-1zM2 27h1v1h-1zM6 27h1v1h-1zM36 28h1v1h-1zM2 29h1v1h-1zM21 29h1v1h-1zM36 29h1v1h-1zM40 29h1v1h-1zM7 30h1v1h-1zM23 32h1v1h-1zM28 32h1v1h-1zM8 33h1v1h-1zM30 33h1v1h-1zM33 33h1v1h-1zM23 35h1v1h-1zM38 35h1v1h-1zM18 36h1v1h-1zM31 36h1v1h-1zM35 36h1v1h-1zM15 37h2v1h-2zM35 37h1v1h-1zM22 40h1v1h-1z"/><path fill="#1a1aff" d="M21 1h1v1h-1zM30 1h1v1h-1zM37 1h1v1h-1zM6 2h1v1h-1zM27 2h1v1h-1zM30 2h1v1h-1zM5 3h1v1h-1zM35 3h1v1h-1zM20 4h1v1h-1zM26 5h1v1h-1zM20 6h1v1h-1zM26 6h1v1h-1zM6 7h1v1h-1zM39 8h1v1h-1zM26 9h1v1h-1zM40 10h1v1h-1zM0 12h2v1h-2zM0 14h1v1h-1zM5 15h1v1h-1zM38 15h1v1h-1zM6 16h2v1h-2zM18 18h1v1h-1zM37 19h1v1h-1zM5 20h1v1h-1zM30 20h1v1h-1zM1 22h1v1h-1zM0 23h1v1h-1zM7 23h1v1h-1zM0 24h1v1h-1zM20 24h1v1h-1zM22 24h1v1h-1zM31 26h1v1h-1zM28 27h1v1h-1zM5 29h1v1h-1zM16 29h1v1h-1zM22 29h1v1h-1zM19 30h1v1h-1zM35 30h1v1h-1zM15 31h1v1h-1zM1 32h1v1h-1zM3 32h1v1h-1zM18 33h1v1h-1zM10 34h1v1h-1zM17 34h1v1h-1zM38 34h1v1h-1zM1 35h1v1h-1zM7 35h1v1h-1zM11 35h1v1h-1zM21 35h1v1h-1zM8 36h1v1h-1zM12 36h1v1h-1zM14 36h1v1h-1zM36 36h1v1h-1zM9 37h1v1h-1zM12 37h2v1h-2zM17 37h1v1h-1zM28 38h1v1h-1zM31 38h1v1h-1zM21 39h1v1h-1zM2 40h1v1h-1zM18 40h1v1h-1zM39 40h2v1h-2z"/><path fill="#0a0aff" d="M19 0h1v1h-1zM21 0h1v1h-1zM36 1h1v1h-1zM40 1h1v1h-1zM35 2h1v1h-1zM39 3h1v1h-1zM19 7h1v1h-1zM0 9h1v1h-1zM10 11h1v1h-1zM6 12h1v1h-1zM19 12h1v1h-1zM40 12h1v1h-1zM2 13h1v1h-1zM7 13h1v1h-1zM6 15h1v1h-1zM22 16h1v1h-1zM24 17h1v1h-1zM6 18h1v1h-1zM35 19h1v1h-1zM2 22h2v1h-2zM6 22h1v1h-1zM9 23h1v1h-1zM5 25h1v1h-1zM34 25h1v1h-1zM39 25h1v1h-1zM0 26h1v1h-1zM2 28h1v1h-1zM17 30h2v1h-2zM0 31h1v1h-1zM9 32h1v1h-1zM9 33h1v1h-1zM13 33h1v1h-1zM32 33h1v1h-1zM35 34h1v1h-1zM22 35h1v1h-1zM3 37h1v1h-1zM10 37h2v1h-2zM1 39h1v1h-1zM31 39h1v1h-1zM3 40h1v1h-1z"/><path fill="#0005ff" d="M32 1h1v1h-1zM19 2h1v1h-1zM36 2h1v1h-1zM29 3h1v1h-1zM5 4h1v1h-1zM7 5h1v1h-1zM32 5h1v1h-1zM7 6h1v1h-1zM33 6h1v1h-1zM40 6h1v1h-1zM21 7h1v1h-1zM6 8h1v1h-1zM40 8h1v1h-1zM1 9h1v1h-1zM3 9h1v1h-1zM6 9h1v1h-1zM0 10h1v1h-1zM3 10h1v1h-1zM6 10h1v1h-1zM21 10h1v1h-1zM24 10h1v1h-1zM31 10h1v1h-1zM0 11h4v1h-4zM2 12h2v1h-2zM3 13h2v1h-2zM3 14h3v1h-3zM7 15h2v1h-2zM8 16h1v1h-1zM6 17h2v1h-2zM18 17h1v1h-1zM23 17h1v1h-1zM36 19h1v1h-1zM6 20h1v1h-1zM4 21h1v1h-1zM9 22h1v1h-1zM1 23h2v1h-2zM5 23h1v1h-1zM1 24h1v1h-1zM3 24h1v1h-1zM2 25h1v1h-1zM1 26h1v1h-1zM5 28h1v1h-1zM8 28h1v1h-1zM6 29h1v1h-1zM15 29h1v1h-1zM15 30h2v1h-2zM16 31h1v1h-1zM25 31h1v1h-1zM0 32h1v1h-1zM4 32h1v1h-1zM12 32h1v1h-1zM18 32h1v1h-1zM26 33h1v1h-1zM31 33h1v1h-1zM7 34h1v1h-1zM24 35h1v1h-1zM13 36h1v1h-1zM14 37h1v1h-1zM2 39h1v1h-1zM15 39h1v1h-1zM22 39h1v1h-1zM21 40h1v1h-1z"/><path fill="#0014ff" d="M9 0h1v1h-1zM21 2h1v1h-1zM38 2h2v1h-2zM28 4h1v1h-1zM31 4h1v1h-1zM20 5h1v1h-1zM7 7h1v1h-1zM2 9h1v1h-1zM1 10h1v1h-1zM7 10h2v1h-2zM24 11h1v1h-1zM24 12h1v1h-1zM5 13h1v1h-1zM10 13h1v1h-1zM9 15h1v1h-1zM20 15h1v1h-1zM37 15h1v1h-1zM7 22h1v1h-1zM40 22h1v1h-1zM3 23h1v1h-1zM8 23h1v1h-1zM2 24h1v1h-1zM4 24h1v1h-1zM1 25h1v1h-1zM18 27h1v1h-1zM7 28h1v1h-1zM8 29h2v1h-2zM31 30h1v1h-1zM19 31h1v1h-1zM38 31h1v1h-1zM29 32h1v1h-1zM33 32h1v1h-1zM12 33h1v1h-1zM1 36h1v1h-1zM11 36h1v1h-1zM23 36h1v1h-1zM1 37h1v1h-1zM14 38h1v1h-1zM17 38h1v1h-1zM17 39h1v1h-1z"/><path fill="#0024ff" d="M32 0h1v1h-1zM20 1h1v1h-1zM29 1h1v1h-1zM7 2h1v1h-1zM20 2h1v1h-1zM18 3h1v1h-1zM2 10h1v1h-1zM12 12h1v1h-1zM20 13h1v1h-1zM32 15h1v1h-1zM20 16h1v1h-1zM7 18h1v1h-1zM30 18h1v1h-1zM7 19h1v1h-1zM26 21h1v1h-1zM5 22h1v1h-1zM8 22h1v1h-1zM24 24h1v1h-1zM0 25h1v1h-1zM7 27h1v1h-1zM7 29h1v1h-1zM29 31h1v1h-1zM11 32h1v1h-1zM37 32h1v1h-1zM38 33h1v1h-1zM35 35h1v1h-1zM29 37h1v1h-1zM2 38h1v1h-1zM15 38h1v1h-1z"/><path fill="#0033ff" d="M8 1h1v1h-1zM31 1h1v1h-1zM9 2h1v1h-1zM18 2h1v1h-1zM30 4h1v1h-1zM19 5h1v1h-1zM19 6h1v1h-1zM40 11h1v1h-1zM15 12h1v1h-1zM6 14h3v1h-3zM20 14h1v1h-1zM10 15h1v1h-1zM9 16h2v1h-2zM36 18h1v1h-1zM33 19h1v1h-1zM26 20h1v1h-1zM4 23h1v1h-1zM32 24h1v1h-1zM11 27h1v1h-1zM18 28h1v1h-1zM14 29h1v1h-1zM32 30h1v1h-1zM37 31h1v1h-1zM35 33h1v1h-1zM19 35h1v1h-1zM2 36h1v1h-1zM1 38h1v1h-1zM16 39h1v1h-1z"/><path fill="#0042ff" d="M38 0h1v1h-1zM8 2h1v1h-1zM29 2h1v1h-1zM29 4h1v1h-1zM27 5h1v1h-1zM34 10h1v1h-1zM11 11h1v1h-1zM6 13h1v1h-1zM11 13h1v1h-1zM33 13h1v1h-1zM9 14h1v1h-1zM30 14h1v1h-1zM35 15h1v1h-1zM19 18h1v1h-1zM7 20h1v1h-1zM36 20h1v1h-1zM39 20h1v1h-1zM5 21h1v1h-1zM4 22h1v1h-1zM28 23h1v1h-1zM37 23h1v1h-1zM5 24h2v1h-2zM23 24h1v1h-1zM6 25h1v1h-1zM26 25h1v1h-1zM7 26h1v1h-1zM6 28h1v1h-1zM9 28h1v1h-1zM17 31h1v1h-1zM10 32h1v1h-1zM8 34h2v1h-2zM19 34h1v1h-1zM27 34h1v1h-1zM8 35h1v1h-1zM22 36h1v1h-1zM2 37h1v1h-1zM16 38h1v1h-1zM32 38h1v1h-1z"/><path fill="#0052ff" d="M31 0h1v1h-1zM39 0h1v1h-1zM9 1h1v1h-1zM19 1h1v1h-1zM28 2h1v1h-1zM9 3h1v1h-1zM21 3h2v1h-2zM6 4h1v1h-1zM8 5h1v1h-1zM25 5h1v1h-1zM22 7h1v1h-1zM7 8h1v1h-1zM18 9h1v1h-1zM17 12h1v1h-1zM23 12h1v1h-1zM15 13h1v1h-1zM10 14h1v1h-1zM40 16h1v1h-1zM8 17h1v1h-1zM19 17h2v1h-2zM25 17h1v1h-1zM29 17h1v1h-1zM37 17h1v1h-1zM40 17h1v1h-1zM38 20h1v1h-1zM6 21h1v1h-1zM39 22h1v1h-1zM7 24h1v1h-1zM34 24h1v1h-1zM33 28h1v1h-1zM33 29h1v1h-1zM8 30h2v1h-2zM34 30h1v1h-1zM9 31h1v1h-1zM24 31h1v1h-1zM24 32h1v1h-1zM32 32h1v1h-1zM27 33h1v1h-1zM36 33h1v1h-1zM18 35h1v1h-1zM36 35h2v1h-2zM9 36h1v1h-1zM17 40h1v1h-1z"/><path fill="#0061ff" d="M37 0h1v1h-1zM6 3h1v1h-1zM9 10h1v1h-1zM22 14h1v1h-1zM22 15h1v1h-1zM23 16h1v1h-1zM37 20h1v1h-1zM27 23h1v1h-1zM33 30h1v1h-1zM37 33h1v1h-1zM36 34h1v1h-1zM31 37h1v1h-1z"/><path fill="#0070ff" d="M10 0h1v1h-1zM18 4h1v1h-1zM8 6h1v1h-1zM25 6h1v1h-1zM18 8h1v1h-1zM27 9h1v1h-1zM32 14h1v1h-1zM11 16h1v1h-1zM39 16h1v1h-1zM39 17h1v1h-1zM22 18h1v1h-1zM27 19h1v1h-1zM7 21h1v1h-1zM34 21h1v1h-1zM33 24h1v1h-1zM36 24h1v1h-1zM17 28h1v1h-1zM13 29h1v1h-1zM11 31h1v1h-1zM18 31h1v1h-1zM10 35h1v1h-1zM10 36h1v1h-1zM30 37h1v1h-1z"/><path fill="#0080ff" d="M18 0h1v1h-1zM10 1h1v1h-1zM18 1h1v1h-1zM8 3h1v1h-1zM23 4h1v1h-1zM8 7h1v1h-1zM34 7h1v1h-1zM8 8h1v1h-1zM7 9h1v1h-1zM20 10h1v1h-1zM18 11h1v1h-1zM14 12h1v1h-1zM16 12h1v1h-1zM16 13h2v1h-2zM31 14h1v1h-1zM38 16h1v1h-1zM38 17h1v1h-1zM8 18h1v1h-1zM27 21h1v1h-1zM33 21h1v1h-1zM8 24h1v1h-1zM7 25h1v1h-1zM18 25h1v1h-1zM40 25h1v1h-1zM11 26h1v1h-1zM17 27h1v1h-1zM16 28h1v1h-1zM35 28h1v1h-1zM33 31h1v1h-1zM31 32h1v1h-1zM38 32h1v1h-1zM18 34h1v1h-1zM37 34h1v1h-1zM26 35h1v1h-1zM40 39h1v1h-1z"/><path fill="#008fff" d="M10 2h1v1h-1zM17 2h1v1h-1zM7 4h1v1h-1zM27 6h1v1h-1zM13 12h1v1h-1zM36 15h1v1h-1zM19 16h1v1h-1zM9 17h1v1h-1zM31 18h1v1h-1zM34 18h2v1h-2zM8 19h1v1h-1zM28 19h1v1h-1zM8 21h1v1h-1zM38 22h1v1h-1zM25 24h1v1h-1zM35 24h1v1h-1zM30 32h1v1h-1zM9 35h1v1h-1zM25 35h1v1h-1z"/><path fill="#009eff" d="M26 0h1v1h-1zM17 1h1v1h-1zM13 2h2v1h-2zM7 3h1v1h-1zM8 4h2v1h-2zM21 4h1v1h-1zM9 5h1v1h-1zM9 8h1v1h-1zM17 8h1v1h-1zM8 9h1v1h-1zM17 9h1v1h-1zM19 10h1v1h-1zM22 11h1v1h-1zM22 12h1v1h-1zM25 12h1v1h-1zM12 13h1v1h-1zM25 13h1v1h-1zM19 14h1v1h-1zM11 15h1v1h-1zM19 15h1v1h-1zM27 16h2v1h-2zM37 16h1v1h-1zM10 17h1v1h-1zM29 19h1v1h-1zM8 20h1v1h-1zM31 20h2v1h-2zM32 21h1v1h-1zM35 21h1v1h-1zM39 21h2v1h-2zM9 24h1v1h-1zM8 26h1v1h-1zM8 27h1v1h-1zM34 28h1v1h-1zM10 30h1v1h-1zM10 31h1v1h-1zM25 34h1v1h-1zM33 38h1v1h-1zM35 40h1v1h-1z"/><path fill="#00adff" d="M28 1h1v1h-1zM10 3h1v1h-1zM21 6h1v1h-1zM18 10h1v1h-1zM19 11h1v1h-1zM31 12h1v1h-1zM11 14h1v1h-1zM12 16h3v1h-3zM26 16h1v1h-1zM32 16h1v1h-1zM11 17h1v1h-1zM29 18h1v1h-1zM30 19h1v1h-1zM31 21h1v1h-1zM10 22h1v1h-1zM10 23h1v1h-1zM26 24h1v1h-1zM8 25h1v1h-1zM10 29h1v1h-1zM35 29h1v1h-1zM32 31h1v1h-1zM35 38h1v1h-1zM32 40h1v1h-1z"/><path fill="#00bdff" d="M27 1h1v1h-1zM24 5h1v1h-1zM9 6h1v1h-1zM35 8h1v1h-1zM35 9h1v1h-1zM33 16h1v1h-1zM12 17h2v1h-2zM9 18h1v1h-1zM23 18h3v1h-3zM9 21h1v1h-1zM30 21h1v1h-1zM38 21h1v1h-1zM10 28h1v1h-1zM11 30h1v1h-1zM30 31h1v1h-1zM26 34h1v1h-1zM32 39h1v1h-1zM34 40h1v1h-1z"/><path fill="#00ccff" d="M28 0h1v1h-1zM40 0h1v1h-1zM15 2h1v1h-1zM21 5h1v1h-1zM9 9h1v1h-1zM14 13h1v1h-1zM15 16h1v1h-1zM18 16h1v1h-1zM14 17h1v1h-1zM17 17h1v1h-1zM36 17h1v1h-1zM10 18h1v1h-1zM33 18h1v1h-1zM9 19h1v1h-1zM36 21h1v1h-1zM26 22h1v1h-1zM10 27h1v1h-1zM31 31h1v1h-1z"/><path fill="#00dbff" d="M11 0h1v1h-1zM17 0h1v1h-1zM16 1h1v1h-1zM12 2h1v1h-1zM16 2h1v1h-1zM28 5h1v1h-1zM24 6h1v1h-1zM9 7h1v1h-1zM18 7h1v1h-1zM25 10h1v1h-1zM12 11h1v1h-1zM13 13h1v1h-1zM34 16h1v1h-1zM15 17h1v1h-1zM26 17h1v1h-1zM32 17h1v1h-1zM21 18h1v1h-1zM10 19h1v1h-1zM26 19h1v1h-1zM25 21h1v1h-1zM28 21h2v1h-2zM37 21h1v1h-1zM37 22h1v1h-1zM29 23h1v1h-1zM31 23h1v1h-1zM12 26h1v1h-1zM34 29h1v1h-1zM35 39h1v1h-1zM33 40h1v1h-1z"/><path fill="#00ebff" d="M11 1h1v1h-1zM11 2h1v1h-1zM10 4h1v1h-1zM28 8h1v1h-1zM17 10h1v1h-1zM15 11h1v1h-1zM20 12h2v1h-2zM24 13h1v1h-1zM32 13h1v1h-1zM27 15h2v1h-2zM11 18h1v1h-1zM28 18h1v1h-1zM9 20h1v1h-1zM25 20h1v1h-1zM22 23h1v1h-1zM26 23h1v1h-1zM30 23h1v1h-1zM9 25h1v1h-1zM10 26h1v1h-1zM9 27h1v1h-1zM12 29h1v1h-1zM34 38h1v1h-1z"/><path fill="#00faff" d="M15 1h1v1h-1zM17 3h1v1h-1zM22 4h1v1h-1zM10 5h1v1h-1zM18 5h1v1h-1zM29 5h1v1h-1zM31 5h1v1h-1zM28 7h1v1h-1zM10 10h1v1h-1zM17 11h1v1h-1zM23 13h1v1h-1zM18 14h1v1h-1zM16 16h2v1h-2zM24 16h2v1h-2zM16 17h1v1h-1zM28 17h1v1h-1zM26 18h2v1h-2zM32 18h1v1h-1zM11 19h1v1h-1zM32 23h3v1h-3zM36 23h1v1h-1zM9 26h1v1h-1zM12 27h1v1h-1zM15 28h1v1h-1z"/><path fill="#00fff5" d="M13 3h1v1h-1zM33 17h1v1h-1zM18 19h1v1h-1z"/><path fill="#00ffe6" d="M30 5h1v1h-1zM33 7h1v1h-1zM16 8h1v1h-1zM32 9h1v1h-1zM12 14h1v1h-1zM26 15h1v1h-1zM35 16h2v1h-2zM34 17h2v1h-2zM10 20h1v1h-1zM27 22h1v1h-1z"/><path fill="#00ffd6" d="M14 1h1v1h-1zM11 3h1v1h-1zM10 6h1v1h-1zM18 6h1v1h-1zM32 6h1v1h-1zM10 8h1v1h-1zM16 11h1v1h-1zM25 11h1v1h-1zM12 15h1v1h-1zM18 15h1v1h-1zM27 17h1v1h-1zM31 19h2v1h-2zM10 21h1v1h-1zM10 24h1v1h-1zM17 26h1v1h-1zM11 28h1v1h-1zM33 39h1v1h-1z"/><path fill="#00ffc7" d="M27 0h1v1h-1zM12 3h1v1h-1zM14 3h1v1h-1zM23 5h1v1h-1zM23 6h1v1h-1zM28 6h1v1h-1zM10 7h1v1h-1zM10 9h1v1h-1zM16 9h1v1h-1zM14 11h1v1h-1zM31 13h1v1h-1zM12 18h1v1h-1zM17 18h1v1h-1zM32 22h1v1h-1zM36 22h1v1h-1zM35 23h1v1h-1zM11 29h1v1h-1z"/><path fill="#00ffb8" d="M12 1h1v1h-1zM17 7h1v1h-1zM33 9h1v1h-1zM17 14h1v1h-1z"/><path fill="#00ffa8" d="M22 5h1v1h-1zM22 6h1v1h-1zM16 10h1v1h-1zM13 11h1v1h-1zM29 14h1v1h-1zM20 18h1v1h-1zM25 19h1v1h-1zM24 20h1v1h-1zM33 22h3v1h-3zM11 23h1v1h-1zM23 23h1v1h-1zM34 39h1v1h-1z"/><path fill="#00ff99" d="M16 0h1v1h-1zM13 1h1v1h-1zM15 3h2v1h-2zM12 19h1v1h-1zM24 19h1v1h-1zM31 22h1v1h-1zM10 25h1v1h-1zM16 27h1v1h-1z"/><path fill="#00ff8a" d="M12 0h1v1h-1zM11 4h1v1h-1zM20 11h2v1h-2zM30 11h1v1h-1zM13 14h1v1h-1zM13 15h1v1h-1zM17 15h1v1h-1zM19 19h1v1h-1zM11 22h1v1h-1zM12 23h1v1h-1zM25 23h1v1h-1z"/><path fill="#00ff7a" d="M11 20h1v1h-1z"/><path fill="#00ff6b" d="M17 4h1v1h-1zM11 5h1v1h-1zM16 7h1v1h-1zM32 7h1v1h-1zM26 13h1v1h-1zM23 19h1v1h-1zM24 21h1v1h-1zM19 24h1v1h-1zM14 28h1v1h-1z"/><path fill="#00ff5c" d="M15 0h1v1h-1zM34 9h1v1h-1zM11 10h1v1h-1zM26 12h1v1h-1zM30 13h1v1h-1zM16 14h1v1h-1zM26 14h1v1h-1zM13 18h1v1h-1zM17 19h1v1h-1zM25 22h1v1h-1zM24 23h1v1h-1z"/><path fill="#00ff4c" d="M14 0h1v1h-1zM11 6h1v1h-1zM34 8h1v1h-1zM28 9h1v1h-1zM30 12h1v1h-1zM14 14h1v1h-1zM14 15h1v1h-1zM16 18h1v1h-1zM21 23h1v1h-1z"/><path fill="#00ff3d" d="M11 7h1v1h-1zM29 7h1v1h-1zM11 8h1v1h-1zM33 8h1v1h-1zM11 9h1v1h-1zM15 9h1v1h-1zM15 14h1v1h-1zM14 18h2v1h-2zM16 19h1v1h-1zM11 21h1v1h-1zM28 22h1v1h-1zM11 24h1v1h-1zM11 25h1v1h-1zM12 28h1v1h-1z"/><path fill="#00ff2e" d="M13 0h1v1h-1zM29 6h1v1h-1zM31 6h1v1h-1zM15 8h1v1h-1zM32 8h1v1h-1zM15 10h1v1h-1zM15 15h2v1h-2zM23 15h1v1h-1zM13 19h1v1h-1zM13 23h1v1h-1z"/><path fill="#00ff1f" d="M12 4h1v1h-1zM15 7h1v1h-1zM31 7h1v1h-1zM26 10h1v1h-1zM25 14h1v1h-1zM15 19h1v1h-1zM16 20h1v1h-1zM12 22h1v1h-1zM30 22h1v1h-1z"/><path fill="#00ff0f" d="M16 4h1v1h-1zM17 6h1v1h-1zM12 10h1v1h-1zM23 14h1v1h-1zM14 19h1v1h-1zM12 20h1v1h-1zM15 20h1v1h-1zM12 25h1v1h-1zM13 28h1v1h-1z"/><path fill="#00ff00" d="M13 4h1v1h-1zM15 4h1v1h-1zM12 5h1v1h-1zM17 5h1v1h-1zM12 6h1v1h-1zM30 6h1v1h-1zM12 7h1v1h-1zM30 7h1v1h-1zM12 8h1v1h-1zM31 8h1v1h-1zM12 9h1v1h-1zM31 9h1v1h-1zM13 10h2v1h-2zM30 10h1v1h-1zM27 12h1v1h-1zM28 14h1v1h-1zM22 19h1v1h-1zM13 20h2v1h-2zM17 20h2v1h-2zM23 20h1v1h-1zM23 21h1v1h-1zM13 22h1v1h-1zM22 22h3v1h-3zM29 22h1v1h-1zM12 24h1v1h-1z"/><path fill="#0fff00" d="M14 4h1v1h-1zM27 13h1v1h-1zM27 14h1v1h-1zM25 15h1v1h-1zM13 27h1v1h-1z"/><path fill="#1fff00" d="M13 5h1v1h-1zM16 6h1v1h-1zM14 7h1v1h-1zM14 8h1v1h-1zM29 8h1v1h-1zM14 9h1v1h-1zM26 11h1v1h-1zM29 12h1v1h-1zM29 13h1v1h-1zM24 14h1v1h-1zM24 15h1v1h-1zM12 21h1v1h-1z"/><path fill="#2eff00" d="M14 5h1v1h-1zM13 6h1v1h-1zM13 7h1v1h-1zM13 8h1v1h-1zM13 26h1v1h-1z"/><path fill="#3dff00" d="M14 6h2v1h-2zM13 9h1v1h-1zM28 12h1v1h-1zM19 20h1v1h-1zM13 21h1v1h-1zM15 27h1v1h-1z"/><path fill="#4dff00" d="M28 13h1v1h-1zM14 21h1v1h-1zM22 21h1v1h-1z"/><path fill="#5cff00" d="M15 5h2v1h-2zM30 8h1v1h-1zM16 26h1v1h-1z"/><path fill="#6bff00" d="M15 21h1v1h-1z"/><path fill="#7aff00" d="M14 22h1v1h-1z"/><path fill="#8aff00" d="M29 9h1v1h-1zM27 10h1v1h-1zM20 19h1v1h-1zM13 24h1v1h-1zM17 25h1v1h-1z"/><path fill="#99ff00" d="M30 9h1v1h-1zM29 11h1v1h-1zM22 20h1v1h-1zM14 27h1v1h-1z"/><path fill="#b8ff00" d="M29 10h1v1h-1zM21 19h1v1h-1zM16 21h1v1h-1zM21 22h1v1h-1z"/><path fill="#c7ff00" d="M20 23h1v1h-1zM13 25h1v1h-1z"/><path fill="#d6ff00" d="M28 10h1v1h-1zM27 11h1v1h-1zM18 24h1v1h-1z"/><path fill="#e6ff00" d="M20 20h1v1h-1zM14 23h1v1h-1z"/><path fill="#f5ff00" d="M21 21h1v1h-1z"/><path fill="#ffeb00" d="M28 11h1v1h-1z"/><path fill="#ffcc00" d="M17 21h1v1h-1z"/><path fill="#ffbd00" d="M21 20h1v1h-1zM15 22h1v1h-1z"/><path fill="#ffad00" d="M20 21h1v1h-1z"/><path fill="#ff8f00" d="M19 21h1v1h-1zM15 26h1v1h-1z"/><path fill="#ff8000" d="M18 21h1v1h-1z"/><path fill="#ff7000" d="M14 26h1v1h-1z"/><path fill="#ff4200" d="M14 24h1v1h-1z"/><path fill="#ff3300" d="M20 22h1v1h-1z"/><path fill="#ff2400" d="M16 22h1v1h-1zM19 23h1v1h-1zM16 25h1v1h-1z"/><path fill="#ff1400" d="M15 23h1v1h-1zM17 24h1v1h-1z"/><path fill="#fa0101" d="M14 25h1v1h-1z"/><path fill="#c80808" d="M16 23h1v1h-1zM16 24h1v1h-1zM15 25h1v1h-1z"/><path fill="#ba0a0a" d="M19 22h1v1h-1zM15 24h1v1h-1z"/><path fill="#ac0d0d" d="M17 22h1v1h-1zM18 23h1v1h-1z"/><path fill="#a50e0e" d="M17 23h1v1h-1z"/><path fill="#8f1111" d="M18 22h1v1h-1z"/></g>
</g>
<g stroke="#000" stroke-width="4.17" fill="none" stroke-dasharray="25 25">
<path d="M2007.1 1416V375.2M2007.1 375.2V150.2"/>
<path d="M2321.3 1416V375.2M2321.3 375.2V150.2"/>
<path d="M1657.1 1058.7H2677.8M2677.8 1058.7H2902.5"/>
<path d="M1657.1 738.8H2677.8M2677.8 738.8H2902.5"/>
<path d="M1657.1 1416L2677.8 375.2"/>
</g>
<g clip-path="url(#t1)">
<polyline fill="none" stroke="#0000ff" stroke-width="6.0" stroke-linejoin="miter" stroke-miterlimit="10" points="1656.3,341.4 1681.9,316.1 1707.4,305.7 1732.9,319.6 1758.5,331 1784,310.9 1809.5,299.6 1835,290 1860.6,269.5 1886.1,245.9 1911.6,221.1 1937.2,207.5 1962.7,194.5 1988.2,180.9 2013.8,169.2 2039.3,173.1 2064.8,177 2090.3,178.3 2115.9,222.8 2141.4,273 2166.9,294.8 2192.5,299.1 2218,298.3 2243.5,296.1 2269.1,303.1 2294.6,315.3 2320.1,311.8 2345.6,293.9 2371.2,270.8 2396.7,268.6 2422.2,279.5 2447.8,262.5 2473.3,274.3 2498.8,294.8 2524.4,303.9 2549.9,303.1 2575.4,338.4 2600.9,355.8 2626.5,346.2 2652,319.2 2677.5,319.2" />
<polyline fill="none" stroke="#000" stroke-width="6.6" stroke-linejoin="miter" stroke-miterlimit="10" points="1713.2,356.7 1755.9,350.6 1799.5,341.9 1843.2,328.4 1873.7,315.8 1908.6,297 1943.5,272.1 1969.6,253.4 1991.4,241.6 2013.2,235.5 2030.7,233.3 2052.5,233.8 2083,236.8 2113.5,238.6 2139.7,236.8 2170.2,230.7 2200.8,220.7 2235.7,204.1 2270.5,186.7 2301.1,175.8 2327.2,170.1 2349,168.8 2379.6,171.4 2414.5,177.5 2458.1,185.4 2501.7,191.5 2545.3,195.4 2588.9,197.1 2632.5,197.1 2677.4,196.3" />
</g>
<g clip-path="url(#s1)">
<polyline fill="none" stroke="#0000ff" stroke-width="6.0" stroke-linejoin="miter" stroke-miterlimit="10" points="2752.7,376 2747.8,402 2742.6,428 2738,454.1 2746.8,480.1 2774.8,506.1 2788.8,532.2 2776.6,558.2 2777.6,584.2 2792.3,610.3 2788.1,636.3 2767.1,662.3 2761.5,688.3 2781.8,714.4 2806.4,740.4 2795.8,766.4 2787.1,792.5 2785.3,818.5 2802.8,844.5 2819.3,870.6 2824.3,896.6 2859.4,922.6 2884,948.6 2862.2,974.7 2808.4,1000.7 2757.5,1026.7 2710.8,1052.8 2710.1,1078.8 2721.3,1104.8 2710.8,1130.9 2709.4,1156.9 2731.1,1182.9 2727.6,1208.9 2723.4,1235 2719.9,1261 2725.2,1287 2717.8,1313.1 2705.8,1339.1 2707.6,1365.1 2698.8,1391.2 2696.7,1417.2" />
<polyline fill="none" stroke="#000" stroke-width="6.6" stroke-linejoin="miter" stroke-miterlimit="10" points="2696.2,1358.8 2702.3,1315.2 2711,1270.8 2724.5,1226.3 2737.2,1195.2 2755.9,1159.6 2780.7,1124 2799.4,1097.3 2811.2,1075.1 2817.3,1052.9 2819.5,1035.1 2819,1012.8 2816,981.7 2814.3,950.6 2816,923.9 2822.1,892.8 2832.1,861.6 2848.7,826.1 2866.1,790.5 2877,759.4 2882.6,732.7 2883.9,710.4 2881.3,679.3 2875.2,643.7 2867.4,599.3 2861.3,554.8 2857.4,510.3 2855.6,465.8 2855.6,421.4 2856.5,375.6" />
</g>
<rect x="2375.2" y="1232.2" width="250.5" height="130.9" fill="#fff" fill-opacity="0.5" stroke="#000" stroke-opacity="0.5" stroke-width="4.17"/>
<text x="2605.3" y="1321" font-size="83.3" text-anchor="end">80 fs</text>
<path stroke="#000" stroke-width="2.0" fill="none" shape-rendering="crispEdges" d="M1812.2 1416v-16.7M1812.2 358.5v33.4M1812.2 150.2v16.7M1657.1 1257.2h16.7M2661.1 1257.2h33.4M2902.5 1257.2h-16.7M2018.3 1416v-16.7M2018.3 358.5v33.4M2018.3 150.2v16.7M1657.1 1047.4h16.7M2661.1 1047.4h33.4M2902.5 1047.4h-16.7M2224.3 1416v-16.7M2224.3 358.5v33.4M2224.3 150.2v16.7M1657.1 837.6h16.7M2661.1 837.6h33.4M2902.5 837.6h-16.7M2430.3 1416v-16.7M2430.3 358.5v33.4M2430.3 150.2v16.7M1657.1 627.8h16.7M2661.1 627.8h33.4M2902.5 627.8h-16.7M2636.4 1416v-16.7M2636.4 358.5v33.4M2636.4 150.2v16.7M1657.1 418h16.7M2661.1 418h33.4M2902.5 418h-16.7"/>
<g stroke="#000" stroke-width="4" fill="none" stroke-linecap="square" shape-rendering="crispEdges">
<rect x="1657.1" y="150.2" width="1020.7" height="225"/>
<rect x="1657.1" y="375.2" width="1020.7" height="1040.8"/>
<rect x="2677.8" y="375.2" width="224.7" height="1040.8"/>
</g>
<g clip-path="url(#h2)">
<g transform="translate(2951.5 363) scale(25.53 26.03)" shape-rendering="crispEdges"><path fill="#f0f0ff" d="M0 3h1v1h-1zM37 34h1v1h-1z"/><path fill="#e0e0ff" d="M5 40h1v1h-1z"/><path fill="#d1d1ff" d="M0 4h1v1h-1zM32 28h1v1h-1zM26 29h1v1h-1zM35 29h1v1h-1zM3 33h1v1h-1zM37 33h1v1h-1zM36 34h1v1h-1zM36 35h2v1h-2zM11 36h1v1h-1zM22 37h1v1h-1zM24 37h1v1h-1zM6 38h1v1h-1zM37 39h1v1h-1zM1 40h1v1h-1z"/><path fill="#c2c2ff" d="M1 0h1v1h-1zM0 29h1v1h-1zM40 30h1v1h-1zM34 33h1v1h-1zM14 37h1v1h-1zM3 38h1v1h-1zM23 38h2v1h-2zM35 38h1v1h-1zM12 39h1v1h-1zM0 40h1v1h-1zM38 40h1v1h-1z"/><path fill="#b2b2ff" d="M1 1h1v1h-1zM22 33h1v1h-1zM36 33h1v1h-1zM29 34h1v1h-1zM34 34h1v1h-1zM35 35h1v1h-1zM33 38h1v1h-1zM2 39h1v1h-1zM23 39h2v1h-2z"/><path fill="#a3a3ff" d="M1 2h1v1h-1zM26 28h1v1h-1zM31 28h1v1h-1zM37 28h1v1h-1zM25 29h1v1h-1zM0 32h1v1h-1zM4 33h1v1h-1zM0 34h1v1h-1zM3 35h2v1h-2zM18 37h1v1h-1zM12 38h1v1h-1zM17 38h1v1h-1zM34 38h1v1h-1zM39 38h1v1h-1zM3 39h1v1h-1zM6 39h1v1h-1zM18 39h1v1h-1z"/><path fill="#9494ff" d="M0 5h1v1h-1zM36 28h1v1h-1zM0 30h1v1h-1zM3 32h1v1h-1zM27 33h1v1h-1zM1 34h1v1h-1zM3 34h1v1h-1zM28 34h1v1h-1zM33 34h1v1h-1zM35 34h1v1h-1zM33 35h1v1h-1zM39 35h2v1h-2zM0 36h3v1h-3zM13 36h1v1h-1zM28 36h1v1h-1zM30 36h1v1h-1zM15 37h1v1h-1zM29 37h1v1h-1zM5 38h1v1h-1zM40 38h1v1h-1zM13 39h1v1h-1zM16 39h1v1h-1zM18 40h1v1h-1zM39 40h1v1h-1z"/><path fill="#8585ff" d="M1 3h1v1h-1zM1 29h1v1h-1zM29 29h1v1h-1zM33 29h1v1h-1zM39 29h2v1h-2zM1 32h2v1h-2zM4 32h1v1h-1zM23 33h1v1h-1zM38 33h1v1h-1zM2 34h1v1h-1zM0 35h1v1h-1zM5 35h1v1h-1zM32 35h1v1h-1zM38 35h1v1h-1zM24 36h1v1h-1zM23 37h1v1h-1zM4 38h1v1h-1zM13 38h1v1h-1zM16 38h1v1h-1zM4 39h1v1h-1zM14 39h2v1h-2zM17 39h1v1h-1zM30 39h1v1h-1zM39 39h2v1h-2zM17 40h1v1h-1zM40 40h1v1h-1z"/><path fill="#7575ff" d="M40 12h1v1h-1zM25 27h1v1h-1zM38 28h1v1h-1zM21 33h1v1h-1zM35 33h1v1h-1zM4 34h1v1h-1zM30 34h1v1h-1zM38 34h1v1h-1zM6 35h1v1h-1zM29 35h1v1h-1zM34 35h1v1h-1zM29 36h1v1h-1zM5 39h1v1h-1zM32 39h1v1h-1z"/><path fill="#6666ff" d="M2 0h1v1h-1zM2 1h1v1h-1zM2 2h1v1h-1zM1 4h1v1h-1zM0 6h1v1h-1zM31 25h1v1h-1zM0 28h1v1h-1zM33 28h1v1h-1zM39 28h2v1h-2zM37 30h2v1h-2zM0 31h1v1h-1zM4 31h1v1h-1zM25 32h1v1h-1zM24 33h2v1h-2zM22 34h1v1h-1zM40 34h1v1h-1zM1 35h2v1h-2zM28 35h1v1h-1zM31 35h1v1h-1zM8 36h1v1h-1zM10 36h1v1h-1zM14 36h1v1h-1zM16 37h2v1h-2zM14 38h2v1h-2zM31 39h1v1h-1zM33 39h1v1h-1zM36 39h1v1h-1zM27 40h1v1h-1z"/><path fill="#5757ff" d="M2 3h1v1h-1zM1 5h1v1h-1zM40 27h1v1h-1zM1 28h1v1h-1zM30 28h1v1h-1zM2 29h1v1h-1zM27 29h1v1h-1zM1 30h1v1h-1zM39 30h1v1h-1zM3 31h1v1h-1zM39 31h1v1h-1zM24 32h1v1h-1zM27 32h1v1h-1zM5 33h1v1h-1zM40 33h1v1h-1zM23 34h1v1h-1zM31 34h2v1h-2zM7 35h1v1h-1zM24 35h1v1h-1zM27 35h1v1h-1zM30 35h1v1h-1zM15 36h1v1h-1zM23 36h1v1h-1zM34 39h1v1h-1zM26 40h1v1h-1z"/><path fill="#4747ff" d="M2 4h1v1h-1zM1 6h1v1h-1zM0 7h1v1h-1zM0 8h1v1h-1zM0 15h1v1h-1zM0 16h1v1h-1zM40 26h1v1h-1zM0 27h1v1h-1zM39 27h1v1h-1zM3 29h1v1h-1zM34 29h1v1h-1zM2 30h4v1h-4zM36 30h1v1h-1zM1 31h2v1h-2zM5 31h1v1h-1zM5 32h1v1h-1zM33 32h1v1h-1zM39 32h1v1h-1zM12 33h4v1h-4zM33 33h1v1h-1zM39 33h1v1h-1zM5 34h1v1h-1zM21 34h1v1h-1zM27 34h1v1h-1zM39 34h1v1h-1zM23 35h1v1h-1zM25 35h2v1h-2zM9 36h1v1h-1zM35 39h1v1h-1z"/><path fill="#3838ff" d="M3 0h1v1h-1zM3 1h1v1h-1zM3 2h1v1h-1zM1 7h1v1h-1zM0 9h1v1h-1zM40 13h1v1h-1zM0 14h1v1h-1zM1 15h1v1h-1zM1 19h1v1h-1zM39 24h2v1h-2zM30 25h1v1h-1zM32 25h1v1h-1zM39 25h2v1h-2zM0 26h1v1h-1zM1 27h1v1h-1zM2 28h1v1h-1zM4 29h1v1h-1zM24 29h1v1h-1zM28 29h1v1h-1zM23 32h1v1h-1zM26 32h1v1h-1zM29 32h1v1h-1zM16 33h1v1h-1zM26 33h1v1h-1zM24 34h1v1h-1zM16 36h1v1h-1z"/><path fill="#2929ff" d="M3 3h1v1h-1zM3 4h1v1h-1zM2 5h1v1h-1zM1 8h1v1h-1zM1 9h1v1h-1zM0 10h2v1h-2zM0 11h1v1h-1zM0 12h1v1h-1zM39 12h1v1h-1zM0 13h2v1h-2zM1 14h1v1h-1zM40 14h1v1h-1zM40 15h1v1h-1zM1 16h1v1h-1zM0 17h1v1h-1zM0 18h2v1h-2zM0 19h1v1h-1zM0 20h2v1h-2zM0 24h1v1h-1zM38 24h1v1h-1zM0 25h2v1h-2zM23 25h1v1h-1zM36 25h1v1h-1zM38 25h1v1h-1zM1 26h1v1h-1zM39 26h1v1h-1zM2 27h1v1h-1zM26 27h1v1h-1zM3 28h1v1h-1zM34 28h2v1h-2zM5 29h1v1h-1zM6 30h1v1h-1zM31 30h2v1h-2zM22 32h1v1h-1zM34 32h1v1h-1zM38 32h1v1h-1zM20 33h1v1h-1zM32 33h1v1h-1zM6 34h2v1h-2zM8 35h1v1h-1zM11 35h2v1h-2zM17 36h3v1h-3zM22 36h1v1h-1z"/><path fill="#1a1aff" d="M4 0h1v1h-1zM2 6h1v1h-1zM2 10h1v1h-1zM1 11h2v1h-2zM1 12h2v1h-2zM2 13h1v1h-1zM39 13h1v1h-1zM40 16h1v1h-1zM1 17h1v1h-1zM2 19h1v1h-1zM2 20h1v1h-1zM1 24h1v1h-1zM24 25h1v1h-1zM35 25h1v1h-1zM37 25h1v1h-1zM2 26h1v1h-1zM3 27h1v1h-1zM26 30h2v1h-2zM35 30h1v1h-1zM6 31h1v1h-1zM38 31h1v1h-1zM37 32h1v1h-1zM9 33h1v1h-1zM11 33h1v1h-1zM17 33h1v1h-1zM8 34h1v1h-1zM25 34h1v1h-1zM13 35h1v1h-1z"/><path fill="#0a0aff" d="M4 1h1v1h-1zM4 2h1v1h-1zM4 3h1v1h-1zM4 4h1v1h-1zM3 5h1v1h-1zM2 7h1v1h-1zM2 8h1v1h-1zM2 9h1v1h-1zM3 10h1v1h-1zM3 11h1v1h-1zM40 11h1v1h-1zM3 12h2v1h-2zM3 13h2v1h-2zM2 14h1v1h-1zM39 14h1v1h-1zM2 15h1v1h-1zM39 15h1v1h-1zM2 16h1v1h-1zM39 16h1v1h-1zM2 17h1v1h-1zM40 17h1v1h-1zM2 18h1v1h-1zM40 18h1v1h-1zM40 19h1v1h-1zM3 20h1v1h-1zM0 21h1v1h-1zM0 22h1v1h-1zM0 23h1v1h-1zM2 24h1v1h-1zM37 24h1v1h-1zM2 25h1v1h-1zM22 25h1v1h-1zM3 26h2v1h-2zM24 26h1v1h-1zM4 27h1v1h-1zM37 27h2v1h-2zM4 28h1v1h-1zM24 28h1v1h-1zM22 29h2v1h-2zM7 30h1v1h-1zM22 30h4v1h-4zM28 30h1v1h-1zM30 30h1v1h-1zM33 30h2v1h-2zM23 31h5v1h-5zM37 31h1v1h-1zM6 32h1v1h-1zM12 32h4v1h-4zM21 32h1v1h-1zM36 32h1v1h-1zM6 33h1v1h-1zM8 33h1v1h-1zM10 33h1v1h-1zM18 33h2v1h-2zM9 34h1v1h-1zM12 34h1v1h-1zM26 34h1v1h-1zM10 35h1v1h-1zM14 35h1v1h-1zM22 35h1v1h-1zM20 36h2v1h-2z"/><path fill="#0005ff" d="M3 6h1v1h-1zM3 7h1v1h-1zM4 11h1v1h-1zM3 14h1v1h-1zM3 15h1v1h-1zM38 15h1v1h-1zM3 16h1v1h-1zM38 16h1v1h-1zM3 17h1v1h-1zM39 17h1v1h-1zM3 18h1v1h-1zM39 18h1v1h-1zM3 19h1v1h-1zM38 19h2v1h-2zM4 20h1v1h-1zM40 20h1v1h-1zM1 21h2v1h-2zM1 23h1v1h-1zM3 25h1v1h-1zM25 25h1v1h-1zM33 25h2v1h-2zM25 26h1v1h-1zM38 26h1v1h-1zM36 27h1v1h-1zM27 28h1v1h-1zM6 29h1v1h-1zM29 30h1v1h-1zM7 31h1v1h-1zM22 31h1v1h-1zM36 31h1v1h-1zM16 32h1v1h-1zM19 32h2v1h-2zM32 32h1v1h-1zM35 32h1v1h-1zM7 33h1v1h-1zM30 33h1v1h-1zM10 34h2v1h-2zM13 34h3v1h-3zM19 34h2v1h-2zM9 35h1v1h-1zM15 35h3v1h-3zM19 35h1v1h-1z"/><path fill="#0014ff" d="M5 0h1v1h-1zM5 1h1v1h-1zM5 2h1v1h-1zM4 5h1v1h-1zM40 6h1v1h-1zM40 7h1v1h-1zM3 8h1v1h-1zM40 8h1v1h-1zM3 9h1v1h-1zM40 9h1v1h-1zM4 10h1v1h-1zM40 10h1v1h-1zM39 11h1v1h-1zM38 12h1v1h-1zM38 13h1v1h-1zM4 14h1v1h-1zM38 14h1v1h-1zM4 15h1v1h-1zM37 15h1v1h-1zM4 16h1v1h-1zM4 17h1v1h-1zM38 17h1v1h-1zM4 18h1v1h-1zM38 18h1v1h-1zM4 19h1v1h-1zM3 21h1v1h-1zM1 22h1v1h-1zM2 23h1v1h-1zM40 23h1v1h-1zM3 24h1v1h-1zM31 24h1v1h-1zM36 24h1v1h-1zM29 25h1v1h-1zM23 26h1v1h-1zM35 26h1v1h-1zM35 27h1v1h-1zM5 28h1v1h-1zM29 28h1v1h-1zM8 30h1v1h-1zM21 30h1v1h-1zM21 31h1v1h-1zM28 31h1v1h-1zM35 31h1v1h-1zM7 32h1v1h-1zM17 32h2v1h-2zM31 33h1v1h-1zM16 34h3v1h-3zM18 35h1v1h-1z"/><path fill="#0024ff" d="M40 0h1v1h-1zM5 3h1v1h-1zM40 4h1v1h-1zM40 5h1v1h-1zM4 6h1v1h-1zM4 7h1v1h-1zM4 8h1v1h-1zM4 9h1v1h-1zM39 10h1v1h-1zM5 12h1v1h-1zM5 13h1v1h-1zM5 14h1v1h-1zM37 14h1v1h-1zM37 16h1v1h-1zM37 17h1v1h-1zM37 18h1v1h-1zM37 19h1v1h-1zM5 20h1v1h-1zM39 20h1v1h-1zM4 21h1v1h-1zM40 21h1v1h-1zM2 22h1v1h-1zM40 22h1v1h-1zM3 23h1v1h-1zM39 23h1v1h-1zM4 24h1v1h-1zM30 24h1v1h-1zM32 24h1v1h-1zM4 25h1v1h-1zM26 25h1v1h-1zM5 26h1v1h-1zM22 26h1v1h-1zM34 26h1v1h-1zM36 26h2v1h-2zM5 27h1v1h-1zM24 27h1v1h-1zM33 27h2v1h-2zM7 29h1v1h-1zM20 29h2v1h-2zM20 30h1v1h-1zM8 31h1v1h-1zM20 31h1v1h-1zM32 31h3v1h-3zM8 32h1v1h-1zM20 35h1v1h-1z"/><path fill="#0033ff" d="M40 1h1v1h-1zM40 2h1v1h-1zM40 3h1v1h-1zM39 9h1v1h-1zM37 13h1v1h-1zM36 14h1v1h-1zM5 15h1v1h-1zM36 15h1v1h-1zM5 16h1v1h-1zM26 26h1v1h-1zM33 26h1v1h-1zM32 27h1v1h-1zM6 28h1v1h-1zM28 28h1v1h-1zM19 30h1v1h-1zM19 31h1v1h-1zM29 31h1v1h-1zM31 32h1v1h-1zM21 35h1v1h-1z"/><path fill="#0042ff" d="M6 0h1v1h-1zM21 1h2v1h-2zM5 4h1v1h-1zM5 11h1v1h-1zM37 12h1v1h-1zM5 17h1v1h-1zM5 18h1v1h-1zM5 19h1v1h-1zM38 20h1v1h-1zM3 22h1v1h-1zM4 23h1v1h-1zM29 24h1v1h-1zM35 24h1v1h-1zM23 28h1v1h-1zM19 29h1v1h-1zM31 31h1v1h-1zM9 32h1v1h-1zM11 32h1v1h-1zM30 32h1v1h-1z"/><path fill="#0052ff" d="M35 0h2v1h-2zM39 0h1v1h-1zM5 5h1v1h-1zM39 7h1v1h-1zM39 8h1v1h-1zM5 10h1v1h-1zM38 11h1v1h-1zM6 12h1v1h-1zM6 13h1v1h-1zM36 13h1v1h-1zM35 15h1v1h-1zM36 16h1v1h-1zM36 19h1v1h-1zM5 21h1v1h-1zM39 21h1v1h-1zM4 22h1v1h-1zM38 23h1v1h-1zM5 24h1v1h-1zM33 24h1v1h-1zM5 25h1v1h-1zM21 26h1v1h-1zM31 26h2v1h-2zM6 27h1v1h-1zM27 27h1v1h-1zM31 27h1v1h-1zM22 28h1v1h-1zM8 29h1v1h-1zM18 30h1v1h-1zM18 31h1v1h-1z"/><path fill="#0061ff" d="M21 0h1v1h-1zM37 0h2v1h-2zM6 1h1v1h-1zM39 1h1v1h-1zM6 2h1v1h-1zM39 5h1v1h-1zM5 6h1v1h-1zM39 6h1v1h-1zM5 7h1v1h-1zM5 8h1v1h-1zM5 9h1v1h-1zM36 12h1v1h-1zM6 14h1v1h-1zM35 14h1v1h-1zM36 17h1v1h-1zM36 18h1v1h-1zM6 20h1v1h-1zM37 20h1v1h-1zM39 22h1v1h-1zM5 23h1v1h-1zM25 24h1v1h-1zM34 24h1v1h-1zM27 25h2v1h-2zM6 26h1v1h-1zM30 26h1v1h-1zM21 27h1v1h-1zM23 27h1v1h-1zM30 27h1v1h-1zM7 28h1v1h-1zM20 28h2v1h-2zM9 29h1v1h-1zM9 30h1v1h-1zM9 31h1v1h-1zM17 31h1v1h-1zM30 31h1v1h-1zM10 32h1v1h-1z"/><path fill="#0070ff" d="M22 0h1v1h-1zM34 0h1v1h-1zM39 4h1v1h-1zM38 10h1v1h-1zM6 15h1v1h-1zM6 16h1v1h-1zM38 21h1v1h-1zM5 22h1v1h-1zM37 23h1v1h-1zM24 24h1v1h-1zM21 25h1v1h-1zM27 26h1v1h-1zM7 27h1v1h-1zM18 29h1v1h-1zM17 30h1v1h-1z"/><path fill="#0080ff" d="M39 2h1v1h-1zM6 3h1v1h-1zM39 3h1v1h-1zM6 11h1v1h-1zM37 11h1v1h-1zM7 12h1v1h-1zM7 13h1v1h-1zM35 13h1v1h-1zM34 15h1v1h-1zM35 16h1v1h-1zM6 17h1v1h-1zM6 18h1v1h-1zM6 19h1v1h-1zM35 19h1v1h-1zM38 22h1v1h-1zM6 24h1v1h-1zM23 24h1v1h-1zM26 24h1v1h-1zM28 24h1v1h-1zM6 25h1v1h-1zM29 26h1v1h-1zM22 27h1v1h-1zM28 27h2v1h-2zM8 28h1v1h-1zM13 31h4v1h-4z"/><path fill="#008fff" d="M7 0h1v1h-1zM35 18h1v1h-1zM6 21h1v1h-1zM7 26h1v1h-1zM20 27h1v1h-1zM12 31h1v1h-1z"/><path fill="#009eff" d="M7 1h1v1h-1zM23 1h1v1h-1zM38 1h1v1h-1zM6 4h1v1h-1zM6 5h1v1h-1zM38 9h1v1h-1zM6 10h1v1h-1zM35 12h1v1h-1zM7 14h1v1h-1zM34 14h1v1h-1zM35 17h1v1h-1zM36 20h1v1h-1zM37 21h1v1h-1zM6 23h1v1h-1zM36 23h1v1h-1zM22 24h1v1h-1zM27 24h1v1h-1zM28 26h1v1h-1zM8 27h1v1h-1zM9 28h1v1h-1zM19 28h1v1h-1zM10 31h1v1h-1z"/><path fill="#00adff" d="M20 0h1v1h-1zM6 6h1v1h-1zM6 9h1v1h-1zM34 16h1v1h-1zM34 19h1v1h-1zM6 22h1v1h-1zM37 22h1v1h-1zM7 25h1v1h-1zM10 29h1v1h-1zM10 30h1v1h-1zM16 30h1v1h-1zM11 31h1v1h-1z"/><path fill="#00bdff" d="M23 0h1v1h-1zM20 1h1v1h-1zM37 1h1v1h-1zM7 2h1v1h-1zM21 2h1v1h-1zM6 7h1v1h-1zM6 8h1v1h-1zM37 10h1v1h-1zM7 11h1v1h-1zM36 11h1v1h-1zM8 12h1v1h-1zM8 13h1v1h-1zM7 15h1v1h-1zM7 16h1v1h-1zM34 18h1v1h-1zM7 20h1v1h-1zM7 24h1v1h-1zM20 26h1v1h-1zM9 27h1v1h-1zM10 28h1v1h-1zM17 29h1v1h-1z"/><path fill="#00ccff" d="M7 17h1v1h-1zM34 17h1v1h-1zM35 20h1v1h-1zM36 21h1v1h-1zM8 26h1v1h-1z"/><path fill="#00dbff" d="M8 0h1v1h-1zM8 1h1v1h-1zM36 1h1v1h-1zM22 2h1v1h-1zM7 3h1v1h-1zM38 8h1v1h-1zM34 13h1v1h-1zM33 15h1v1h-1zM7 18h1v1h-1zM7 19h1v1h-1zM33 19h1v1h-1zM36 22h1v1h-1zM7 23h1v1h-1zM35 23h1v1h-1zM11 30h3v1h-3zM15 30h1v1h-1z"/><path fill="#00ebff" d="M38 3h1v1h-1zM38 7h1v1h-1zM7 10h1v1h-1zM8 14h1v1h-1zM33 16h1v1h-1zM33 18h1v1h-1zM7 21h1v1h-1zM25 23h1v1h-1zM8 25h1v1h-1zM14 30h1v1h-1z"/><path fill="#00faff" d="M33 0h1v1h-1zM24 1h1v1h-1zM35 1h1v1h-1zM8 2h1v1h-1zM20 2h1v1h-1zM38 2h1v1h-1zM7 4h1v1h-1zM38 4h1v1h-1zM7 5h1v1h-1zM38 5h1v1h-1zM38 6h1v1h-1zM7 9h1v1h-1zM8 11h1v1h-1zM35 11h1v1h-1zM9 12h1v1h-1zM34 12h1v1h-1zM9 13h1v1h-1zM33 14h1v1h-1zM8 15h1v1h-1zM33 17h1v1h-1zM32 19h1v1h-1zM8 20h1v1h-1zM34 20h1v1h-1zM35 21h1v1h-1zM7 22h1v1h-1zM24 23h1v1h-1zM26 23h1v1h-1zM34 23h1v1h-1zM8 24h1v1h-1zM9 26h1v1h-1zM10 27h1v1h-1zM11 29h1v1h-1z"/><path fill="#00fff5" d="M34 1h1v1h-1zM7 6h1v1h-1zM7 7h1v1h-1zM7 8h1v1h-1zM37 9h1v1h-1zM8 16h1v1h-1zM32 18h1v1h-1zM31 19h1v1h-1zM26 20h2v1h-2zM26 21h1v1h-1zM19 27h1v1h-1z"/><path fill="#00ffe6" d="M24 0h1v1h-1zM23 2h1v1h-1zM36 10h1v1h-1zM8 17h1v1h-1zM33 20h1v1h-1zM35 22h1v1h-1zM33 23h1v1h-1z"/><path fill="#00ffd6" d="M9 0h1v1h-1zM9 1h1v1h-1zM32 15h1v1h-1zM32 16h1v1h-1zM32 17h1v1h-1zM8 18h1v1h-1zM8 19h1v1h-1zM30 19h1v1h-1zM27 21h1v1h-1zM34 21h1v1h-1zM8 23h1v1h-1zM9 25h1v1h-1zM18 28h1v1h-1zM16 29h1v1h-1z"/><path fill="#00ffc7" d="M19 0h1v1h-1zM37 2h1v1h-1zM8 3h1v1h-1zM8 10h1v1h-1zM31 18h1v1h-1zM29 19h1v1h-1zM28 20h1v1h-1zM8 21h1v1h-1zM25 22h2v1h-2zM27 23h1v1h-1zM20 25h1v1h-1z"/><path fill="#00ffb8" d="M19 1h1v1h-1zM21 13h2v1h-2zM33 13h1v1h-1zM9 14h1v1h-1zM28 19h1v1h-1zM32 20h1v1h-1zM25 21h1v1h-1zM8 22h1v1h-1zM32 23h1v1h-1z"/><path fill="#00ffa8" d="M33 1h1v1h-1zM9 2h1v1h-1zM21 12h2v1h-2zM31 17h1v1h-1zM27 19h1v1h-1zM29 20h3v1h-3zM21 24h1v1h-1zM10 26h1v1h-1zM11 28h1v1h-1zM12 29h1v1h-1z"/><path fill="#00ff99" d="M37 3h1v1h-1zM8 4h1v1h-1zM21 8h2v1h-2zM21 9h1v1h-1zM9 11h1v1h-1zM32 14h1v1h-1zM9 15h1v1h-1zM31 16h1v1h-1zM30 18h1v1h-1zM28 21h1v1h-1zM33 21h1v1h-1zM34 22h1v1h-1zM23 23h1v1h-1zM28 23h1v1h-1zM31 23h1v1h-1zM9 24h1v1h-1zM19 26h1v1h-1zM11 27h1v1h-1z"/><path fill="#00ff8a" d="M32 0h1v1h-1zM8 5h1v1h-1zM8 9h1v1h-1zM22 9h1v1h-1zM29 23h1v1h-1z"/><path fill="#00ff7a" d="M19 2h1v1h-1zM24 2h1v1h-1zM21 3h1v1h-1zM37 4h1v1h-1zM8 6h1v1h-1zM8 7h1v1h-1zM22 7h1v1h-1zM8 8h1v1h-1zM37 8h1v1h-1zM20 13h1v1h-1zM31 15h1v1h-1zM9 16h1v1h-1zM9 17h1v1h-1zM30 17h1v1h-1zM29 18h1v1h-1zM9 20h1v1h-1zM25 20h1v1h-1zM32 21h1v1h-1zM27 22h1v1h-1zM30 23h1v1h-1zM15 29h1v1h-1z"/><path fill="#00ff6b" d="M22 3h1v1h-1zM21 7h1v1h-1zM37 7h1v1h-1zM10 13h1v1h-1zM21 14h1v1h-1zM30 16h1v1h-1zM26 19h1v1h-1zM29 21h1v1h-1zM24 22h1v1h-1z"/><path fill="#00ff5c" d="M10 0h1v1h-1zM25 0h1v1h-1zM25 1h1v1h-1zM36 2h1v1h-1zM37 5h1v1h-1zM37 6h1v1h-1zM21 10h2v1h-2zM35 10h1v1h-1zM34 11h1v1h-1zM10 12h1v1h-1zM20 12h1v1h-1zM23 13h1v1h-1zM9 18h1v1h-1zM28 18h1v1h-1zM9 19h1v1h-1zM9 21h1v1h-1zM30 21h2v1h-2zM9 23h1v1h-1zM10 25h1v1h-1zM18 27h1v1h-1zM13 29h1v1h-1z"/><path fill="#00ff4c" d="M10 1h1v1h-1zM9 3h1v1h-1zM22 6h1v1h-1zM23 8h1v1h-1zM36 9h1v1h-1zM20 14h1v1h-1zM29 17h1v1h-1zM24 21h1v1h-1zM9 22h1v1h-1zM17 28h1v1h-1zM14 29h1v1h-1z"/><path fill="#00ff3d" d="M23 3h1v1h-1zM21 6h1v1h-1zM23 7h1v1h-1zM20 9h1v1h-1zM23 9h1v1h-1zM9 10h1v1h-1zM21 11h2v1h-2zM23 12h1v1h-1zM33 12h1v1h-1zM22 14h1v1h-1zM20 15h2v1h-2zM33 22h1v1h-1z"/><path fill="#00ff2e" d="M18 0h1v1h-1zM32 1h1v1h-1zM36 3h1v1h-1zM20 8h1v1h-1zM23 10h1v1h-1zM10 14h1v1h-1zM29 16h1v1h-1zM27 18h1v1h-1zM28 22h1v1h-1zM11 26h1v1h-1z"/><path fill="#00ff1f" d="M26 0h1v1h-1zM31 0h1v1h-1zM18 1h1v1h-1zM10 2h1v1h-1zM35 2h1v1h-1zM20 3h1v1h-1zM9 4h1v1h-1zM22 4h1v1h-1zM36 4h1v1h-1zM21 5h2v1h-2zM23 6h1v1h-1zM20 10h1v1h-1zM20 11h1v1h-1zM32 13h1v1h-1zM30 15h1v1h-1zM28 17h1v1h-1zM10 24h1v1h-1z"/><path fill="#00ff0f" d="M25 2h1v1h-1zM21 4h1v1h-1zM20 7h1v1h-1zM23 11h1v1h-1zM19 13h1v1h-1zM31 14h1v1h-1zM10 15h1v1h-1zM22 15h1v1h-1zM20 16h1v1h-1zM25 19h1v1h-1z"/><path fill="#00ff00" d="M27 0h1v1h-1zM29 0h2v1h-2zM23 4h1v1h-1zM9 5h1v1h-1zM23 5h1v1h-1zM20 6h1v1h-1zM9 7h1v1h-1zM9 8h1v1h-1zM9 9h1v1h-1zM10 11h1v1h-1zM19 12h1v1h-1zM19 14h1v1h-1zM19 15h1v1h-1zM10 16h1v1h-1zM21 16h1v1h-1zM10 20h1v1h-1zM24 20h1v1h-1zM32 22h1v1h-1zM10 23h1v1h-1zM12 28h1v1h-1z"/><path fill="#0fff00" d="M11 0h1v1h-1zM28 0h1v1h-1zM11 1h1v1h-1zM26 1h1v1h-1zM31 1h1v1h-1zM34 2h1v1h-1zM24 3h1v1h-1zM35 3h1v1h-1zM20 4h1v1h-1zM20 5h1v1h-1zM36 5h1v1h-1zM9 6h1v1h-1zM24 7h1v1h-1zM24 8h1v1h-1zM36 8h1v1h-1zM24 9h1v1h-1zM24 10h1v1h-1zM11 12h1v1h-1zM24 12h1v1h-1zM11 13h1v1h-1zM24 13h1v1h-1zM23 14h1v1h-1zM19 16h1v1h-1zM28 16h1v1h-1zM10 17h1v1h-1zM20 17h1v1h-1zM27 17h1v1h-1zM10 18h1v1h-1zM26 18h1v1h-1zM10 21h1v1h-1zM10 22h1v1h-1zM23 22h1v1h-1zM29 22h1v1h-1zM31 22h1v1h-1zM22 23h1v1h-1zM11 25h1v1h-1zM12 27h1v1h-1z"/><path fill="#1fff00" d="M18 2h1v1h-1zM10 3h1v1h-1zM36 6h1v1h-1zM36 7h1v1h-1zM29 15h1v1h-1zM10 19h1v1h-1zM30 22h1v1h-1zM19 25h1v1h-1z"/><path fill="#2eff00" d="M27 1h1v1h-1zM30 1h1v1h-1zM11 2h1v1h-1zM24 4h1v1h-1zM24 5h1v1h-1zM24 6h1v1h-1zM19 9h1v1h-1zM35 9h1v1h-1zM19 10h1v1h-1zM34 10h1v1h-1zM19 11h1v1h-1zM24 11h1v1h-1zM33 11h1v1h-1zM22 16h1v1h-1zM19 17h1v1h-1zM23 21h1v1h-1zM20 24h1v1h-1zM18 26h1v1h-1zM16 28h1v1h-1z"/><path fill="#3dff00" d="M29 1h1v1h-1zM26 2h1v1h-1zM19 3h1v1h-1zM25 3h1v1h-1zM19 8h1v1h-1zM10 10h1v1h-1zM18 13h1v1h-1zM11 14h1v1h-1zM18 14h1v1h-1zM21 17h1v1h-1zM24 19h1v1h-1zM12 26h1v1h-1zM17 27h1v1h-1zM13 28h1v1h-1z"/><path fill="#4dff00" d="M17 1h1v1h-1zM28 1h1v1h-1zM33 2h1v1h-1zM10 4h1v1h-1zM35 4h1v1h-1zM18 12h1v1h-1zM18 15h1v1h-1zM23 20h1v1h-1z"/><path fill="#5cff00" d="M12 1h1v1h-1zM34 3h1v1h-1zM19 7h1v1h-1zM11 15h1v1h-1zM23 15h1v1h-1zM11 24h1v1h-1z"/><path fill="#6bff00" d="M12 0h1v1h-1zM17 0h1v1h-1zM11 3h1v1h-1zM10 5h1v1h-1zM35 5h1v1h-1zM25 7h1v1h-1zM25 8h1v1h-1zM11 11h1v1h-1zM32 12h1v1h-1zM30 14h1v1h-1zM11 16h1v1h-1zM18 16h1v1h-1zM27 16h1v1h-1zM11 17h1v1h-1zM25 18h1v1h-1zM12 25h1v1h-1z"/><path fill="#7aff00" d="M19 4h1v1h-1zM25 4h1v1h-1zM25 9h1v1h-1zM12 13h1v1h-1zM11 18h1v1h-1zM11 20h1v1h-1zM13 27h1v1h-1z"/><path fill="#8aff00" d="M12 2h1v1h-1zM26 3h1v1h-1zM19 5h1v1h-1zM10 6h1v1h-1zM19 6h1v1h-1zM25 6h1v1h-1zM10 7h1v1h-1zM10 8h1v1h-1zM10 9h1v1h-1zM25 10h1v1h-1zM12 12h1v1h-1zM31 13h1v1h-1zM26 17h1v1h-1zM20 18h1v1h-1zM11 19h1v1h-1zM22 22h1v1h-1zM11 23h1v1h-1zM15 28h1v1h-1z"/><path fill="#99ff00" d="M32 2h1v1h-1zM25 5h1v1h-1zM35 6h1v1h-1zM35 8h1v1h-1zM25 11h1v1h-1zM24 14h1v1h-1zM28 15h1v1h-1zM23 19h1v1h-1z"/><path fill="#a8ff00" d="M13 1h1v1h-1zM17 2h1v1h-1zM27 2h1v1h-1zM18 3h1v1h-1zM35 7h1v1h-1zM25 12h1v1h-1zM17 13h1v1h-1zM12 14h1v1h-1zM17 14h1v1h-1zM18 17h1v1h-1zM19 18h1v1h-1zM21 18h1v1h-1zM11 21h1v1h-1zM21 23h1v1h-1z"/><path fill="#b8ff00" d="M16 1h1v1h-1zM33 3h1v1h-1zM34 4h1v1h-1zM18 9h1v1h-1zM18 11h1v1h-1zM17 12h1v1h-1zM11 22h1v1h-1zM14 28h1v1h-1z"/><path fill="#c7ff00" d="M13 0h1v1h-1zM31 2h1v1h-1zM11 4h1v1h-1zM18 8h1v1h-1zM11 10h1v1h-1zM18 10h1v1h-1zM12 15h1v1h-1zM17 15h1v1h-1zM12 16h1v1h-1zM24 18h1v1h-1zM22 19h1v1h-1zM22 21h1v1h-1zM12 24h1v1h-1zM13 26h1v1h-1z"/><path fill="#d6ff00" d="M13 13h1v1h-1zM12 17h1v1h-1zM22 17h1v1h-1z"/><path fill="#e6ff00" d="M16 0h1v1h-1zM14 1h2v1h-2zM13 2h1v1h-1zM12 3h1v1h-1zM27 3h1v1h-1zM32 3h1v1h-1zM26 4h1v1h-1zM34 5h1v1h-1zM18 7h1v1h-1zM26 7h1v1h-1zM26 8h1v1h-1zM12 11h1v1h-1zM13 12h1v1h-1zM16 13h1v1h-1zM25 13h1v1h-1zM17 16h1v1h-1zM23 16h1v1h-1zM12 18h1v1h-1zM22 18h1v1h-1zM21 19h1v1h-1zM22 20h1v1h-1zM13 25h1v1h-1zM16 27h1v1h-1z"/><path fill="#f5ff00" d="M28 2h1v1h-1zM33 10h1v1h-1zM26 16h1v1h-1zM23 18h1v1h-1z"/><path fill="#fffa00" d="M29 2h2v1h-2zM11 5h1v1h-1zM26 6h1v1h-1zM11 9h1v1h-1zM34 9h1v1h-1zM14 12h1v1h-1zM16 12h1v1h-1zM14 13h2v1h-2zM16 14h1v1h-1zM17 17h1v1h-1zM12 19h1v1h-1zM20 19h1v1h-1zM12 20h1v1h-1zM12 23h1v1h-1z"/><path fill="#ffeb00" d="M14 0h2v1h-2zM16 2h1v1h-1zM31 3h1v1h-1zM18 4h1v1h-1zM33 4h1v1h-1zM18 5h1v1h-1zM26 5h1v1h-1zM11 6h1v1h-1zM18 6h1v1h-1zM11 7h1v1h-1zM11 8h1v1h-1zM26 9h1v1h-1zM17 11h1v1h-1zM32 11h1v1h-1zM15 12h1v1h-1zM13 14h1v1h-1zM16 15h1v1h-1zM27 15h1v1h-1zM16 16h1v1h-1zM25 17h1v1h-1zM18 18h1v1h-1zM19 19h1v1h-1zM17 26h1v1h-1z"/><path fill="#ffdb00" d="M34 6h1v1h-1zM15 14h1v1h-1zM13 15h1v1h-1zM24 15h1v1h-1zM18 25h1v1h-1z"/><path fill="#ffcc00" d="M14 2h1v1h-1zM17 3h1v1h-1zM28 3h1v1h-1zM30 3h1v1h-1zM12 4h1v1h-1zM33 5h1v1h-1zM17 10h1v1h-1zM26 10h1v1h-1zM31 12h1v1h-1zM14 14h1v1h-1zM29 14h1v1h-1zM26 15h1v1h-1zM13 16h1v1h-1zM13 17h1v1h-1zM23 17h1v1h-1zM12 21h1v1h-1zM13 24h1v1h-1z"/><path fill="#ffbd00" d="M15 2h1v1h-1zM13 3h1v1h-1zM29 3h1v1h-1zM27 4h1v1h-1zM32 4h1v1h-1zM27 7h1v1h-1zM34 7h1v1h-1zM17 9h1v1h-1zM12 10h1v1h-1zM13 18h1v1h-1zM21 20h1v1h-1zM12 22h1v1h-1zM19 24h1v1h-1zM15 27h1v1h-1z"/><path fill="#ffad00" d="M32 5h1v1h-1zM27 6h1v1h-1zM17 8h1v1h-1zM27 8h1v1h-1zM34 8h1v1h-1zM13 11h1v1h-1zM26 11h1v1h-1zM25 14h1v1h-1zM14 15h2v1h-2zM14 16h2v1h-2zM24 17h1v1h-1zM18 19h1v1h-1zM14 27h1v1h-1z"/><path fill="#ff9e00" d="M16 11h1v1h-1zM24 16h1v1h-1zM16 17h1v1h-1zM13 19h1v1h-1z"/><path fill="#ff8f00" d="M28 4h1v1h-1zM31 4h1v1h-1zM12 5h1v1h-1zM27 5h1v1h-1zM17 7h1v1h-1zM26 12h1v1h-1zM30 13h1v1h-1zM25 15h1v1h-1zM25 16h1v1h-1zM14 17h1v1h-1zM17 18h1v1h-1zM21 22h1v1h-1z"/><path fill="#ff8000" d="M17 4h1v1h-1zM31 5h1v1h-1zM33 6h1v1h-1zM12 9h1v1h-1zM14 11h2v1h-2zM13 20h1v1h-1zM21 21h1v1h-1zM13 23h1v1h-1zM20 23h1v1h-1z"/><path fill="#ff7000" d="M14 3h1v1h-1zM16 3h1v1h-1zM29 4h2v1h-2zM17 5h1v1h-1zM28 5h1v1h-1zM12 6h1v1h-1zM28 6h1v1h-1zM12 7h1v1h-1zM28 7h1v1h-1zM12 8h1v1h-1zM27 9h1v1h-1zM15 17h1v1h-1zM20 20h1v1h-1zM14 26h1v1h-1z"/><path fill="#ff6100" d="M13 4h1v1h-1zM30 5h1v1h-1zM17 6h1v1h-1zM33 9h1v1h-1zM16 10h1v1h-1zM28 14h1v1h-1zM14 18h1v1h-1zM19 20h1v1h-1z"/><path fill="#ff5200" d="M29 5h1v1h-1zM32 6h1v1h-1zM33 7h1v1h-1zM13 10h1v1h-1zM17 19h1v1h-1zM13 21h1v1h-1zM13 22h1v1h-1zM14 24h1v1h-1zM14 25h1v1h-1zM16 26h1v1h-1z"/><path fill="#ff4200" d="M29 6h1v1h-1zM31 6h1v1h-1zM16 9h1v1h-1zM26 13h1v1h-1zM14 19h1v1h-1zM18 20h1v1h-1z"/><path fill="#ff3300" d="M15 3h1v1h-1zM13 5h1v1h-1zM30 6h1v1h-1zM16 8h1v1h-1zM28 8h1v1h-1zM32 10h1v1h-1zM26 14h1v1h-1zM15 18h2v1h-2zM14 20h1v1h-1z"/><path fill="#ff2400" d="M16 7h1v1h-1zM33 8h1v1h-1zM14 10h2v1h-2z"/><path fill="#ff1400" d="M13 6h1v1h-1zM29 7h1v1h-1zM27 14h1v1h-1zM17 20h1v1h-1zM14 23h1v1h-1z"/><path fill="#ff0500" d="M14 4h1v1h-1zM16 4h1v1h-1zM16 5h1v1h-1zM13 7h1v1h-1zM32 7h1v1h-1zM13 8h1v1h-1zM13 9h1v1h-1zM15 9h1v1h-1zM27 10h1v1h-1zM31 11h1v1h-1zM29 13h1v1h-1zM15 19h2v1h-2zM15 20h1v1h-1zM20 21h1v1h-1zM17 25h1v1h-1z"/><path fill="#fa0101" d="M15 4h1v1h-1zM16 6h1v1h-1zM30 7h1v1h-1zM15 8h1v1h-1zM14 9h1v1h-1zM30 12h1v1h-1zM16 20h1v1h-1zM14 21h1v1h-1zM15 26h1v1h-1z"/><path fill="#f30202" d="M31 7h1v1h-1zM28 9h1v1h-1zM27 11h1v1h-1zM14 22h1v1h-1z"/><path fill="#ec0303" d="M14 5h2v1h-2zM15 7h1v1h-1zM14 8h1v1h-1zM29 8h1v1h-1zM32 8h1v1h-1zM27 12h1v1h-1zM27 13h2v1h-2zM18 24h1v1h-1zM15 25h1v1h-1z"/><path fill="#e50404" d="M14 6h2v1h-2zM32 9h1v1h-1zM19 21h1v1h-1zM20 22h1v1h-1zM15 24h1v1h-1z"/><path fill="#de0505" d="M14 7h1v1h-1zM16 25h1v1h-1z"/><path fill="#d70606" d="M15 21h1v1h-1zM17 21h2v1h-2zM19 23h1v1h-1z"/><path fill="#cf0707" d="M16 21h1v1h-1zM15 23h1v1h-1z"/><path fill="#c80808" d="M30 8h1v1h-1zM29 9h1v1h-1zM31 10h1v1h-1zM29 12h1v1h-1zM15 22h1v1h-1z"/><path fill="#c10909" d="M31 8h1v1h-1zM28 12h1v1h-1z"/><path fill="#ba0a0a" d="M28 10h1v1h-1zM16 24h2v1h-2z"/><path fill="#b30c0c" d="M30 11h1v1h-1z"/><path fill="#ac0d0d" d="M31 9h1v1h-1zM28 11h1v1h-1zM19 22h1v1h-1zM16 23h1v1h-1z"/><path fill="#a50e0e" d="M30 9h1v1h-1zM16 22h1v1h-1z"/><path fill="#9d0f0f" d="M18 23h1v1h-1z"/><path fill="#961010" d="M29 10h2v1h-2zM29 11h1v1h-1zM18 22h1v1h-1zM17 23h1v1h-1z"/><path fill="#8f1111" d="M17 22h1v1h-1z"/></g>
</g>
<g stroke="#000" stroke-width="4.17" fill="none" stroke-dasharray="25 25">
<path d="M3315 1416V375.2M3315 375.2V150.2"/>
<path d="M3629.2 1416V375.2M3629.2 375.2V150.2"/>
<path d="M2965 1058.7H3985.7M3985.7 1058.7H4210.4"/>
<path d="M2965 738.8H3985.7M3985.7 738.8H4210.4"/>
<path d="M2965 1416L3985.7 375.2"/>
</g>
<g clip-path="url(#t2)">
<polyline fill="none" stroke="#0000ff" stroke-width="6.0" stroke-linejoin="miter" stroke-miterlimit="10" points="2964.2,355.8 2989.8,347.1 3015.3,340.1 3040.8,337.1 3066.4,331.8 3091.9,322.2 3117.4,310.9 3142.9,299.6 3168.5,285.6 3194,269.5 3219.5,246.8 3245.1,225 3270.6,205.4 3296.1,187.9 3321.7,173.5 3347.2,168.7 3372.7,171.4 3398.2,181.8 3423.8,203.2 3449.3,229.4 3474.8,251.2 3500.4,266 3525.9,269.9 3551.4,262.1 3577,256 3602.5,256.4 3628,245.1 3653.5,235.9 3679.1,233.7 3704.6,230.2 3730.1,231.1 3755.7,242.4 3781.2,257.3 3806.7,266.4 3832.3,274.3 3857.8,283.9 3883.3,297.8 3908.8,312.2 3934.4,319.6 3959.9,324.4 3985.4,334.9" />
<polyline fill="none" stroke="#000" stroke-width="6.6" stroke-linejoin="miter" stroke-miterlimit="10" points="3021.1,356.7 3063.8,350.6 3107.4,341.9 3151.1,328.4 3181.6,315.8 3216.5,297 3251.4,272.1 3277.5,253.4 3299.3,241.6 3321.1,235.5 3338.6,233.3 3360.4,233.8 3390.9,236.8 3421.4,238.6 3447.6,236.8 3478.1,230.7 3508.7,220.7 3543.6,204.1 3578.4,186.7 3609,175.8 3635.1,170.1 3656.9,168.8 3687.5,171.4 3722.4,177.5 3766,185.4 3809.6,191.5 3853.2,195.4 3896.8,197.1 3940.4,197.1 3985.3,196.3" />
</g>
<g clip-path="url(#s2)">
<polyline fill="none" stroke="#0000ff" stroke-width="6.0" stroke-linejoin="miter" stroke-miterlimit="10" points="4133.5,376 4135.3,402 4143.3,428 4159.8,454.1 4175.6,480.1 4187.9,506.1 4192.1,532.2 4190.3,558.2 4189.6,584.2 4188.9,610.3 4183.7,636.3 4173.8,662.3 4160.5,688.3 4157.4,714.4 4159.8,740.4 4155.6,766.4 4157,792.5 4158.8,818.5 4157,844.5 4155.3,870.6 4160.3,896.6 4173.3,922.6 4179.6,948.6 4162.7,974.7 4133.9,1000.7 4118.1,1026.7 4115.3,1052.8 4109.3,1078.8 4088.9,1104.8 4066.5,1130.9 4076.6,1156.9 4079.5,1182.9 4063.6,1208.9 4049.6,1235 4056.6,1261 4057.3,1287 4030.3,1313.1 4009.2,1339.1 4018.7,1365.1 4027.5,1391.2 4003.2,1417.2" />
<polyline fill="none" stroke="#000" stroke-width="6.6" stroke-linejoin="miter" stroke-miterlimit="10" points="4004.1,1358.8 4010.2,1315.2 4018.9,1270.8 4032.4,1226.3 4045.1,1195.2 4063.8,1159.6 4088.6,1124 4107.3,1097.3 4119.1,1075.1 4125.2,1052.9 4127.4,1035.1 4126.9,1012.8 4123.9,981.7 4122.2,950.6 4123.9,923.9 4130,892.8 4140,861.6 4156.6,826.1 4174,790.5 4184.9,759.4 4190.5,732.7 4191.8,710.4 4189.2,679.3 4183.1,643.7 4175.3,599.3 4169.2,554.8 4165.3,510.3 4163.5,465.8 4163.5,421.4 4164.4,375.6" />
</g>
<rect x="3683.1" y="1232.2" width="250.5" height="130.9" fill="#fff" fill-opacity="0.5" stroke="#000" stroke-opacity="0.5" stroke-width="4.17"/>
<text x="3913.2" y="1321" font-size="83.3" text-anchor="end">40 fs</text>
<path stroke="#000" stroke-width="2.0" fill="none" shape-rendering="crispEdges" d="M3120.1 1416v-16.7M3120.1 358.5v33.4M3120.1 150.2v16.7M2965 1257.2h16.7M3969 1257.2h33.4M4210.4 1257.2h-16.7M3326.2 1416v-16.7M3326.2 358.5v33.4M3326.2 150.2v16.7M2965 1047.4h16.7M3969 1047.4h33.4M4210.4 1047.4h-16.7M3532.2 1416v-16.7M3532.2 358.5v33.4M3532.2 150.2v16.7M2965 837.6h16.7M3969 837.6h33.4M4210.4 837.6h-16.7M3738.2 1416v-16.7M3738.2 358.5v33.4M3738.2 150.2v16.7M2965 627.8h16.7M3969 627.8h33.4M4210.4 627.8h-16.7M3944.3 1416v-16.7M3944.3 358.5v33.4M3944.3 150.2v16.7M2965 418h16.7M3969 418h33.4M4210.4 418h-16.7"/>
<g stroke="#000" stroke-width="4" fill="none" stroke-linecap="square" shape-rendering="crispEdges">
<rect x="2965" y="150.2" width="1020.7" height="225"/>
<rect x="2965" y="375.2" width="1020.7" height="1040.8"/>
<rect x="3985.7" y="375.2" width="224.7" height="1040.8"/>
</g>
<g clip-path="url(#h3)">
<g transform="translate(335.7 1692.1) scale(25.53 26.03)" shape-rendering="crispEdges"><path fill="#f0f0ff" d="M35 34h1v1h-1z"/><path fill="#e0e0ff" d="M32 34h1v1h-1zM34 34h1v1h-1zM39 36h1v1h-1zM35 38h1v1h-1zM40 39h1v1h-1z"/><path fill="#d1d1ff" d="M0 32h1v1h-1zM1 33h1v1h-1zM3 36h1v1h-1zM2 37h1v1h-1zM9 37h1v1h-1zM28 37h1v1h-1zM26 38h1v1h-1zM21 39h1v1h-1zM39 39h1v1h-1z"/><path fill="#c2c2ff" d="M1 32h1v1h-1zM2 33h1v1h-1zM34 33h1v1h-1zM0 35h2v1h-2zM4 36h2v1h-2zM37 36h1v1h-1zM3 37h1v1h-1zM5 38h1v1h-1zM9 38h1v1h-1zM20 38h2v1h-2zM5 39h1v1h-1zM8 39h1v1h-1zM28 39h2v1h-2zM38 39h1v1h-1zM1 40h1v1h-1zM9 40h1v1h-1zM30 40h1v1h-1zM32 40h1v1h-1zM34 40h1v1h-1z"/><path fill="#b2b2ff" d="M2 32h1v1h-1zM3 33h1v1h-1zM33 33h1v1h-1zM35 33h1v1h-1zM2 35h1v1h-1zM35 36h2v1h-2zM10 40h1v1h-1zM33 40h1v1h-1z"/><path fill="#a3a3ff" d="M0 0h1v1h-1zM39 29h2v1h-2zM3 32h2v1h-2zM4 33h1v1h-1zM3 35h2v1h-2zM6 36h2v1h-2zM32 36h1v1h-1zM4 38h1v1h-1zM10 38h1v1h-1zM19 38h1v1h-1zM22 38h1v1h-1zM34 38h1v1h-1zM3 39h2v1h-2zM9 39h1v1h-1zM20 39h1v1h-1zM22 39h1v1h-1zM27 39h1v1h-1zM30 39h1v1h-1zM11 40h2v1h-2zM20 40h1v1h-1zM23 40h1v1h-1z"/><path fill="#9494ff" d="M1 0h1v1h-1zM0 1h1v1h-1zM0 29h1v1h-1zM38 29h1v1h-1zM0 30h1v1h-1zM5 33h1v1h-1zM28 33h1v1h-1zM36 33h1v1h-1zM0 34h3v1h-3zM28 34h1v1h-1zM37 34h1v1h-1zM5 35h1v1h-1zM33 35h1v1h-1zM36 35h1v1h-1zM29 36h3v1h-3zM34 36h1v1h-1zM10 37h1v1h-1zM0 38h4v1h-4zM11 38h2v1h-2zM18 38h1v1h-1zM2 39h1v1h-1zM11 39h2v1h-2zM19 39h1v1h-1zM37 39h1v1h-1zM0 40h1v1h-1zM19 40h1v1h-1zM31 40h1v1h-1z"/><path fill="#8585ff" d="M1 1h1v1h-1zM0 28h1v1h-1zM1 29h1v1h-1zM36 29h2v1h-2zM0 31h1v1h-1zM5 32h1v1h-1zM6 33h1v1h-1zM22 33h2v1h-2zM27 33h1v1h-1zM29 33h1v1h-1zM38 33h3v1h-3zM3 34h3v1h-3zM29 34h1v1h-1zM40 34h1v1h-1zM40 35h1v1h-1zM8 36h1v1h-1zM27 36h2v1h-2zM11 37h3v1h-3zM23 37h3v1h-3zM13 38h1v1h-1zM23 38h3v1h-3zM31 38h1v1h-1zM33 38h1v1h-1zM0 39h2v1h-2zM10 39h1v1h-1zM18 39h1v1h-1zM23 39h1v1h-1zM26 39h1v1h-1zM35 39h2v1h-2zM13 40h1v1h-1zM24 40h2v1h-2zM28 40h1v1h-1z"/><path fill="#7575ff" d="M2 29h1v1h-1zM1 30h1v1h-1zM1 31h1v1h-1zM6 32h1v1h-1zM24 33h1v1h-1zM32 33h1v1h-1zM37 33h1v1h-1zM6 34h1v1h-1zM31 34h1v1h-1zM38 34h1v1h-1zM6 35h1v1h-1zM32 35h1v1h-1zM34 35h2v1h-2zM37 35h3v1h-3zM33 36h1v1h-1zM18 37h5v1h-5zM17 38h1v1h-1zM32 38h1v1h-1zM13 39h1v1h-1zM24 39h2v1h-2z"/><path fill="#6666ff" d="M2 0h1v1h-1zM0 2h2v1h-2zM0 26h1v1h-1zM0 27h2v1h-2zM1 28h2v1h-2zM39 28h2v1h-2zM3 29h1v1h-1zM35 29h1v1h-1zM2 30h3v1h-3zM40 30h1v1h-1zM2 31h3v1h-3zM7 32h1v1h-1zM40 32h1v1h-1zM7 33h1v1h-1zM25 33h2v1h-2zM30 33h2v1h-2zM22 34h3v1h-3zM27 34h1v1h-1zM39 34h1v1h-1zM28 35h2v1h-2zM31 35h1v1h-1zM9 36h1v1h-1zM26 36h1v1h-1zM14 37h4v1h-4zM14 38h3v1h-3zM14 39h1v1h-1zM17 39h1v1h-1zM31 39h1v1h-1zM34 39h1v1h-1zM14 40h1v1h-1zM18 40h1v1h-1zM26 40h1v1h-1z"/><path fill="#5757ff" d="M2 1h1v1h-1zM0 18h1v1h-1zM0 19h1v1h-1zM34 29h1v1h-1zM5 30h1v1h-1zM5 31h1v1h-1zM39 32h1v1h-1zM21 33h1v1h-1zM7 34h1v1h-1zM30 34h1v1h-1zM7 35h1v1h-1zM27 35h1v1h-1zM10 36h1v1h-1zM15 39h2v1h-2zM15 40h2v1h-2zM27 40h1v1h-1z"/><path fill="#4747ff" d="M3 0h1v1h-1zM0 3h2v1h-2zM0 4h1v1h-1zM0 16h1v1h-1zM0 17h1v1h-1zM1 18h1v1h-1zM1 19h1v1h-1zM0 20h1v1h-1zM0 23h1v1h-1zM0 24h1v1h-1zM0 25h2v1h-2zM1 26h1v1h-1zM2 27h1v1h-1zM3 28h1v1h-1zM38 28h1v1h-1zM4 29h1v1h-1zM33 29h1v1h-1zM39 30h1v1h-1zM6 31h1v1h-1zM40 31h1v1h-1zM8 32h1v1h-1zM38 32h1v1h-1zM8 33h1v1h-1zM21 34h1v1h-1zM25 34h2v1h-2zM26 35h1v1h-1zM30 35h1v1h-1zM11 36h1v1h-1zM25 36h1v1h-1zM32 39h2v1h-2zM17 40h1v1h-1z"/><path fill="#3838ff" d="M2 2h1v1h-1zM0 5h1v1h-1zM0 6h1v1h-1zM0 7h1v1h-1zM0 8h1v1h-1zM0 9h1v1h-1zM0 10h1v1h-1zM0 11h1v1h-1zM0 12h1v1h-1zM0 13h1v1h-1zM0 14h1v1h-1zM0 15h1v1h-1zM1 16h1v1h-1zM1 17h1v1h-1zM1 20h1v1h-1zM0 21h1v1h-1zM0 22h1v1h-1zM1 23h1v1h-1zM1 24h1v1h-1zM2 26h1v1h-1zM3 27h1v1h-1zM4 28h1v1h-1zM5 29h1v1h-1zM32 29h1v1h-1zM6 30h1v1h-1zM39 31h1v1h-1zM20 33h1v1h-1zM12 36h1v1h-1zM23 36h2v1h-2z"/><path fill="#2929ff" d="M3 1h1v1h-1zM2 3h1v1h-1zM1 4h1v1h-1zM1 5h1v1h-1zM1 6h1v1h-1zM1 7h1v1h-1zM1 8h1v1h-1zM1 9h1v1h-1zM1 10h1v1h-1zM1 11h1v1h-1zM1 12h1v1h-1zM1 13h1v1h-1zM1 14h1v1h-1zM1 15h1v1h-1zM1 21h1v1h-1zM1 22h1v1h-1zM2 24h1v1h-1zM2 25h1v1h-1zM3 26h1v1h-1zM40 27h1v1h-1zM37 28h1v1h-1zM24 29h1v1h-1zM31 29h1v1h-1zM38 30h1v1h-1zM7 31h1v1h-1zM38 31h1v1h-1zM22 32h3v1h-3zM36 32h2v1h-2zM9 33h1v1h-1zM19 33h1v1h-1zM8 34h1v1h-1zM20 34h1v1h-1zM8 35h1v1h-1zM23 35h3v1h-3zM13 36h3v1h-3zM19 36h4v1h-4z"/><path fill="#1a1aff" d="M4 0h1v1h-1zM2 17h1v1h-1zM2 18h1v1h-1zM2 19h1v1h-1zM2 20h1v1h-1zM2 22h1v1h-1zM2 23h1v1h-1zM3 25h1v1h-1zM40 25h1v1h-1zM40 26h1v1h-1zM4 27h1v1h-1zM5 28h1v1h-1zM36 28h1v1h-1zM6 29h1v1h-1zM25 29h2v1h-2zM30 29h1v1h-1zM37 30h1v1h-1zM9 32h1v1h-1zM21 32h1v1h-1zM25 32h4v1h-4zM35 32h1v1h-1zM19 34h1v1h-1zM9 35h1v1h-1zM21 35h2v1h-2zM16 36h3v1h-3z"/><path fill="#0a0aff" d="M3 2h1v1h-1zM2 4h1v1h-1zM2 5h1v1h-1zM2 6h1v1h-1zM2 7h1v1h-1zM2 8h1v1h-1zM2 9h1v1h-1zM2 10h1v1h-1zM2 11h1v1h-1zM2 12h1v1h-1zM2 13h1v1h-1zM2 14h1v1h-1zM2 15h1v1h-1zM2 16h1v1h-1zM2 21h1v1h-1zM3 23h1v1h-1zM3 24h1v1h-1zM39 25h1v1h-1zM4 26h1v1h-1zM39 26h1v1h-1zM39 27h1v1h-1zM35 28h1v1h-1zM23 29h1v1h-1zM27 29h2v1h-2zM7 30h1v1h-1zM22 30h5v1h-5zM36 30h1v1h-1zM8 31h1v1h-1zM23 31h3v1h-3zM37 31h1v1h-1zM29 32h1v1h-1zM34 32h1v1h-1zM9 34h1v1h-1zM10 35h2v1h-2zM19 35h2v1h-2z"/><path fill="#0005ff" d="M4 1h1v1h-1zM3 3h1v1h-1zM3 17h1v1h-1zM3 18h1v1h-1zM3 19h1v1h-1zM3 20h1v1h-1zM3 21h1v1h-1zM3 22h1v1h-1zM4 23h1v1h-1zM4 24h1v1h-1zM4 25h1v1h-1zM5 27h1v1h-1zM38 27h1v1h-1zM6 28h1v1h-1zM24 28h1v1h-1zM33 28h2v1h-2zM7 29h1v1h-1zM29 29h1v1h-1zM35 30h1v1h-1zM22 31h1v1h-1zM26 31h1v1h-1zM35 31h2v1h-2zM20 32h1v1h-1zM30 32h4v1h-4zM10 33h2v1h-2zM18 33h1v1h-1zM10 34h2v1h-2zM18 34h1v1h-1zM12 35h4v1h-4zM17 35h2v1h-2z"/><path fill="#0014ff" d="M5 0h1v1h-1zM4 2h1v1h-1zM3 4h1v1h-1zM3 12h1v1h-1zM3 13h1v1h-1zM3 14h1v1h-1zM3 15h1v1h-1zM3 16h1v1h-1zM4 21h1v1h-1zM4 22h1v1h-1zM40 24h1v1h-1zM5 25h1v1h-1zM38 25h1v1h-1zM5 26h1v1h-1zM38 26h1v1h-1zM6 27h1v1h-1zM37 27h1v1h-1zM25 28h1v1h-1zM32 28h1v1h-1zM22 29h1v1h-1zM8 30h1v1h-1zM21 30h1v1h-1zM27 30h1v1h-1zM34 30h1v1h-1zM21 31h1v1h-1zM27 31h1v1h-1zM34 31h1v1h-1zM19 32h1v1h-1zM12 33h1v1h-1zM17 33h1v1h-1zM12 34h1v1h-1zM17 34h1v1h-1zM16 35h1v1h-1z"/><path fill="#0024ff" d="M5 1h1v1h-1zM3 5h1v1h-1zM3 6h1v1h-1zM3 7h1v1h-1zM3 8h1v1h-1zM3 9h1v1h-1zM3 10h1v1h-1zM3 11h1v1h-1zM4 20h1v1h-1zM5 24h1v1h-1zM39 24h1v1h-1zM37 25h1v1h-1zM6 26h1v1h-1zM37 26h1v1h-1zM25 27h1v1h-1zM36 27h1v1h-1zM7 28h1v1h-1zM23 28h1v1h-1zM26 28h1v1h-1zM31 28h1v1h-1zM28 30h6v1h-6zM9 31h1v1h-1zM20 31h1v1h-1zM28 31h1v1h-1zM32 31h2v1h-2zM10 32h1v1h-1zM13 33h4v1h-4zM13 34h4v1h-4z"/><path fill="#0033ff" d="M4 3h1v1h-1zM4 18h1v1h-1zM4 19h1v1h-1zM5 23h1v1h-1zM36 25h1v1h-1zM24 27h1v1h-1zM8 29h1v1h-1zM31 31h1v1h-1z"/><path fill="#0042ff" d="M4 16h1v1h-1zM40 16h1v1h-1zM4 17h1v1h-1zM40 17h1v1h-1zM40 18h1v1h-1zM40 19h1v1h-1zM5 22h1v1h-1zM38 24h1v1h-1zM6 25h1v1h-1zM35 25h1v1h-1zM36 26h1v1h-1zM26 27h1v1h-1zM35 27h1v1h-1zM27 28h1v1h-1zM30 28h1v1h-1zM9 30h1v1h-1zM20 30h1v1h-1zM29 31h2v1h-2zM11 32h1v1h-1zM18 32h1v1h-1z"/><path fill="#0052ff" d="M5 2h1v1h-1zM4 4h1v1h-1zM4 12h1v1h-1zM4 13h1v1h-1zM4 14h1v1h-1zM4 15h1v1h-1zM40 15h1v1h-1zM5 21h1v1h-1zM40 23h1v1h-1zM25 26h1v1h-1zM7 27h1v1h-1zM22 28h1v1h-1zM28 28h2v1h-2zM21 29h1v1h-1z"/><path fill="#0061ff" d="M6 0h1v1h-1zM4 5h1v1h-1zM4 6h1v1h-1zM4 7h1v1h-1zM4 8h1v1h-1zM4 9h1v1h-1zM4 10h1v1h-1zM4 11h1v1h-1zM5 20h1v1h-1zM40 20h1v1h-1zM40 21h1v1h-1zM40 22h1v1h-1zM6 24h1v1h-1zM37 24h1v1h-1zM7 26h1v1h-1zM24 26h1v1h-1zM35 26h1v1h-1zM23 27h1v1h-1zM34 27h1v1h-1zM8 28h1v1h-1zM9 29h1v1h-1zM10 31h1v1h-1zM19 31h1v1h-1zM12 32h1v1h-1zM17 32h1v1h-1z"/><path fill="#0070ff" d="M5 3h1v1h-1zM40 14h1v1h-1zM39 18h1v1h-1zM39 19h1v1h-1zM6 23h1v1h-1zM34 25h1v1h-1zM27 27h1v1h-1zM13 32h1v1h-1z"/><path fill="#0080ff" d="M40 0h1v1h-1zM6 1h1v1h-1zM39 16h1v1h-1zM5 17h1v1h-1zM39 17h1v1h-1zM5 18h1v1h-1zM5 19h1v1h-1zM6 22h1v1h-1zM39 23h1v1h-1zM36 24h1v1h-1zM7 25h1v1h-1zM25 25h1v1h-1zM26 26h1v1h-1zM34 26h1v1h-1zM8 27h1v1h-1zM10 30h1v1h-1zM19 30h1v1h-1zM14 32h1v1h-1zM16 32h1v1h-1z"/><path fill="#008fff" d="M5 4h1v1h-1zM5 13h1v1h-1zM5 14h1v1h-1zM5 15h1v1h-1zM39 15h1v1h-1zM5 16h1v1h-1zM39 20h1v1h-1zM24 25h1v1h-1zM23 26h1v1h-1zM33 27h1v1h-1zM18 31h1v1h-1zM15 32h1v1h-1z"/><path fill="#009eff" d="M39 0h1v1h-1zM6 2h1v1h-1zM5 5h1v1h-1zM5 6h1v1h-1zM5 7h1v1h-1zM5 8h1v1h-1zM5 9h1v1h-1zM5 10h1v1h-1zM5 11h1v1h-1zM5 12h1v1h-1zM40 13h1v1h-1zM6 21h1v1h-1zM39 21h1v1h-1zM39 22h1v1h-1zM7 24h1v1h-1zM35 24h1v1h-1zM9 28h1v1h-1zM21 28h1v1h-1zM11 31h1v1h-1z"/><path fill="#00adff" d="M7 0h1v1h-1zM40 12h1v1h-1zM39 14h1v1h-1zM6 20h1v1h-1zM38 23h1v1h-1zM26 25h1v1h-1zM33 25h1v1h-1zM8 26h1v1h-1zM22 27h1v1h-1zM28 27h1v1h-1zM32 27h1v1h-1zM20 29h1v1h-1z"/><path fill="#00bdff" d="M38 18h1v1h-1zM38 19h1v1h-1zM38 20h1v1h-1zM7 23h1v1h-1zM23 25h1v1h-1zM33 26h1v1h-1zM31 27h1v1h-1zM10 29h1v1h-1zM17 31h1v1h-1z"/><path fill="#00ccff" d="M7 1h1v1h-1zM6 3h1v1h-1zM39 13h1v1h-1zM6 17h1v1h-1zM38 17h1v1h-1zM6 18h1v1h-1zM6 19h1v1h-1zM38 21h1v1h-1zM27 26h1v1h-1zM9 27h1v1h-1zM29 27h2v1h-2zM18 30h1v1h-1zM12 31h1v1h-1z"/><path fill="#00dbff" d="M38 0h1v1h-1zM40 1h1v1h-1zM40 11h1v1h-1zM39 12h1v1h-1zM6 14h1v1h-1zM6 15h1v1h-1zM38 15h1v1h-1zM6 16h1v1h-1zM38 16h1v1h-1zM7 22h1v1h-1zM38 22h1v1h-1zM34 24h1v1h-1zM8 25h1v1h-1zM22 26h1v1h-1zM11 30h1v1h-1z"/><path fill="#00ebff" d="M6 4h1v1h-1zM6 12h1v1h-1zM6 13h1v1h-1zM37 23h1v1h-1zM27 25h1v1h-1zM10 28h1v1h-1z"/><path fill="#00faff" d="M8 0h1v1h-1zM39 1h1v1h-1zM7 2h1v1h-1zM6 5h1v1h-1zM6 6h1v1h-1zM6 7h1v1h-1zM6 8h1v1h-1zM6 9h1v1h-1zM6 10h1v1h-1zM6 11h1v1h-1zM38 14h1v1h-1zM7 20h1v1h-1zM7 21h1v1h-1zM8 24h1v1h-1zM28 25h1v1h-1zM31 25h2v1h-2zM9 26h1v1h-1zM28 26h1v1h-1zM31 26h2v1h-2zM21 27h1v1h-1zM19 29h1v1h-1zM13 31h4v1h-4z"/><path fill="#00fff5" d="M40 10h1v1h-1zM39 11h1v1h-1zM7 14h1v1h-1zM37 19h1v1h-1zM37 20h1v1h-1zM37 21h1v1h-1zM8 23h1v1h-1zM33 24h1v1h-1zM29 25h2v1h-2zM29 26h2v1h-2zM20 28h1v1h-1zM11 29h1v1h-1zM17 30h1v1h-1z"/><path fill="#00ffe6" d="M37 0h1v1h-1zM37 18h1v1h-1z"/><path fill="#00ffd6" d="M8 1h1v1h-1zM38 1h1v1h-1zM40 2h1v1h-1zM7 3h1v1h-1zM38 13h1v1h-1zM7 15h1v1h-1zM7 16h1v1h-1zM37 16h1v1h-1zM7 17h1v1h-1zM37 17h1v1h-1zM7 18h1v1h-1zM7 19h1v1h-1zM37 22h1v1h-1zM24 24h2v1h-2zM9 25h1v1h-1zM22 25h1v1h-1zM10 27h1v1h-1zM12 30h1v1h-1z"/><path fill="#00ffc7" d="M7 13h1v1h-1zM8 22h1v1h-1zM36 23h1v1h-1z"/><path fill="#00ffb8" d="M40 3h1v1h-1zM7 4h1v1h-1zM7 12h1v1h-1zM38 12h1v1h-1zM37 15h1v1h-1zM36 20h1v1h-1zM26 24h1v1h-1zM32 24h1v1h-1zM21 26h1v1h-1z"/><path fill="#00ffa8" d="M8 2h1v1h-1zM39 2h1v1h-1zM39 10h1v1h-1zM7 11h1v1h-1zM23 24h1v1h-1zM11 28h1v1h-1z"/><path fill="#00ff99" d="M9 0h1v1h-1zM36 0h1v1h-1zM40 4h1v1h-1zM7 5h1v1h-1zM40 5h1v1h-1zM7 6h1v1h-1zM7 7h1v1h-1zM7 8h1v1h-1zM7 9h1v1h-1zM7 10h1v1h-1zM37 14h1v1h-1zM36 18h1v1h-1zM36 19h1v1h-1zM8 21h1v1h-1zM36 21h1v1h-1zM9 24h1v1h-1zM27 24h1v1h-1zM10 26h1v1h-1zM18 29h1v1h-1zM16 30h1v1h-1z"/><path fill="#00ff8a" d="M40 6h1v1h-1zM40 9h1v1h-1zM36 17h1v1h-1zM8 20h1v1h-1zM31 24h1v1h-1zM13 30h1v1h-1z"/><path fill="#00ff7a" d="M37 1h1v1h-1zM39 3h1v1h-1zM40 7h1v1h-1zM40 8h1v1h-1zM38 11h1v1h-1zM37 13h1v1h-1zM36 16h1v1h-1zM35 20h1v1h-1zM36 22h1v1h-1zM35 23h1v1h-1zM20 27h1v1h-1z"/><path fill="#00ff6b" d="M9 1h1v1h-1zM8 3h1v1h-1zM36 15h1v1h-1zM28 24h1v1h-1zM30 24h1v1h-1zM12 29h1v1h-1z"/><path fill="#00ff5c" d="M21 0h2v1h-2zM35 0h1v1h-1zM38 2h1v1h-1zM39 4h1v1h-1zM37 12h1v1h-1zM8 16h1v1h-1zM8 17h1v1h-1zM8 18h1v1h-1zM8 19h1v1h-1zM35 19h1v1h-1zM35 21h1v1h-1zM9 23h1v1h-1zM29 24h1v1h-1zM11 27h1v1h-1zM19 28h1v1h-1zM14 30h2v1h-2z"/><path fill="#00ff4c" d="M39 5h1v1h-1zM8 14h1v1h-1zM36 14h1v1h-1zM8 15h1v1h-1zM35 18h1v1h-1zM34 20h1v1h-1zM34 23h1v1h-1zM10 25h1v1h-1z"/><path fill="#00ff3d" d="M23 0h1v1h-1zM21 1h2v1h-2zM8 4h1v1h-1zM39 6h1v1h-1zM35 16h1v1h-1zM35 17h1v1h-1zM9 22h1v1h-1zM35 22h1v1h-1zM22 24h1v1h-1z"/><path fill="#00ff2e" d="M10 0h1v1h-1zM9 2h1v1h-1zM38 3h1v1h-1zM8 5h1v1h-1zM39 7h1v1h-1zM39 9h1v1h-1zM38 10h1v1h-1zM8 12h1v1h-1zM8 13h1v1h-1z"/><path fill="#00ff1f" d="M20 0h1v1h-1zM23 1h1v1h-1zM36 1h1v1h-1zM8 6h1v1h-1zM8 7h1v1h-1zM8 8h1v1h-1zM39 8h1v1h-1zM8 9h1v1h-1zM8 10h1v1h-1zM8 11h1v1h-1zM37 11h1v1h-1zM36 13h1v1h-1zM35 15h1v1h-1zM34 18h1v1h-1zM34 19h1v1h-1zM33 20h1v1h-1zM9 21h1v1h-1zM34 21h1v1h-1zM33 23h1v1h-1zM10 24h1v1h-1zM21 25h1v1h-1zM12 28h1v1h-1zM17 29h1v1h-1z"/><path fill="#00ff0f" d="M24 0h1v1h-1zM34 0h1v1h-1zM20 1h1v1h-1zM36 12h1v1h-1zM34 17h1v1h-1zM9 20h1v1h-1zM34 22h1v1h-1zM11 26h1v1h-1zM20 26h1v1h-1z"/><path fill="#00ff00" d="M10 1h1v1h-1zM37 2h1v1h-1zM9 3h1v1h-1zM38 4h1v1h-1zM35 14h1v1h-1zM34 16h1v1h-1zM33 19h1v1h-1zM32 20h1v1h-1zM24 23h3v1h-3zM32 23h1v1h-1zM13 29h1v1h-1z"/><path fill="#0fff00" d="M38 5h1v1h-1zM35 13h1v1h-1zM34 15h1v1h-1zM9 18h1v1h-1zM33 18h1v1h-1zM9 19h1v1h-1zM32 19h1v1h-1zM33 21h1v1h-1zM33 22h1v1h-1zM10 23h1v1h-1zM23 23h1v1h-1zM27 23h2v1h-2zM30 23h2v1h-2zM12 27h1v1h-1zM18 28h1v1h-1z"/><path fill="#1fff00" d="M24 1h1v1h-1zM21 2h2v1h-2zM37 3h1v1h-1zM38 6h1v1h-1zM38 7h1v1h-1zM9 11h1v1h-1zM36 11h1v1h-1zM9 16h1v1h-1zM9 17h1v1h-1zM33 17h1v1h-1zM31 20h1v1h-1zM25 22h2v1h-2zM29 23h1v1h-1zM11 25h1v1h-1zM19 27h1v1h-1zM14 29h1v1h-1zM16 29h1v1h-1z"/><path fill="#2eff00" d="M11 0h1v1h-1zM19 0h1v1h-1zM25 0h1v1h-1zM33 0h1v1h-1zM19 1h1v1h-1zM35 1h1v1h-1zM9 4h1v1h-1zM38 8h1v1h-1zM38 9h1v1h-1zM37 10h1v1h-1zM9 12h1v1h-1zM35 12h1v1h-1zM9 13h1v1h-1zM9 14h1v1h-1zM9 15h1v1h-1zM33 16h1v1h-1zM32 18h1v1h-1zM25 21h2v1h-2zM32 21h1v1h-1zM24 22h1v1h-1zM13 28h1v1h-1zM15 29h1v1h-1z"/><path fill="#3dff00" d="M10 2h1v1h-1zM23 2h1v1h-1zM31 19h1v1h-1zM30 20h1v1h-1zM32 22h1v1h-1zM22 23h1v1h-1zM21 24h1v1h-1zM12 26h1v1h-1z"/><path fill="#4dff00" d="M20 2h1v1h-1zM36 2h1v1h-1zM37 4h1v1h-1zM9 5h1v1h-1zM9 10h1v1h-1zM34 14h1v1h-1zM25 20h2v1h-2zM29 20h1v1h-1zM24 21h1v1h-1zM10 22h1v1h-1zM23 22h1v1h-1zM27 22h1v1h-1zM11 24h1v1h-1z"/><path fill="#5cff00" d="M9 6h1v1h-1zM9 7h1v1h-1zM9 8h1v1h-1zM9 9h1v1h-1zM32 17h1v1h-1zM27 20h2v1h-2zM31 21h1v1h-1z"/><path fill="#6bff00" d="M26 0h1v1h-1zM32 0h1v1h-1zM11 1h1v1h-1zM10 3h1v1h-1zM22 3h1v1h-1zM37 5h1v1h-1zM21 13h2v1h-2zM21 14h2v1h-2zM21 15h1v1h-1zM33 15h1v1h-1zM31 18h1v1h-1zM30 19h1v1h-1zM24 20h1v1h-1zM10 21h1v1h-1zM23 21h1v1h-1zM27 21h1v1h-1zM31 22h1v1h-1zM20 25h1v1h-1zM13 27h1v1h-1zM17 28h1v1h-1z"/><path fill="#7aff00" d="M25 1h1v1h-1zM21 3h1v1h-1zM22 15h1v1h-1zM21 16h1v1h-1zM30 21h1v1h-1zM19 26h1v1h-1z"/><path fill="#8aff00" d="M12 0h1v1h-1zM18 0h1v1h-1zM34 1h1v1h-1zM24 2h1v1h-1zM36 3h1v1h-1zM37 6h1v1h-1zM21 12h2v1h-2zM34 13h1v1h-1zM20 15h1v1h-1zM20 16h1v1h-1zM22 16h1v1h-1zM32 16h1v1h-1zM21 17h1v1h-1zM10 20h1v1h-1zM23 20h1v1h-1zM28 21h2v1h-2zM28 22h1v1h-1zM30 22h1v1h-1zM11 23h1v1h-1zM12 25h1v1h-1z"/><path fill="#99ff00" d="M31 0h1v1h-1zM23 3h1v1h-1zM37 7h1v1h-1zM37 9h1v1h-1zM36 10h1v1h-1zM10 11h1v1h-1zM35 11h1v1h-1zM23 13h1v1h-1zM20 14h1v1h-1zM22 22h1v1h-1zM29 22h1v1h-1zM18 27h1v1h-1zM14 28h1v1h-1z"/><path fill="#a8ff00" d="M27 0h1v1h-1zM18 1h1v1h-1zM19 2h1v1h-1zM35 2h1v1h-1zM20 3h1v1h-1zM10 4h1v1h-1zM37 8h1v1h-1zM23 12h1v1h-1zM20 13h1v1h-1zM23 14h1v1h-1zM23 15h1v1h-1zM20 17h1v1h-1zM22 17h1v1h-1zM31 17h1v1h-1zM29 19h1v1h-1zM22 20h1v1h-1zM22 21h1v1h-1zM21 23h1v1h-1zM13 26h1v1h-1z"/><path fill="#b8ff00" d="M21 7h1v1h-1zM21 8h1v1h-1zM21 9h1v1h-1zM20 12h1v1h-1zM21 18h1v1h-1zM30 18h1v1h-1zM10 19h1v1h-1zM16 28h1v1h-1z"/><path fill="#c7ff00" d="M28 0h1v1h-1zM30 0h1v1h-1zM33 1h1v1h-1zM11 2h1v1h-1zM22 4h1v1h-1zM36 4h1v1h-1zM21 6h2v1h-2zM22 7h1v1h-1zM22 8h1v1h-1zM22 9h1v1h-1zM34 12h1v1h-1zM10 13h1v1h-1zM10 14h1v1h-1zM33 14h1v1h-1zM10 15h1v1h-1zM32 15h1v1h-1zM10 16h1v1h-1zM23 16h1v1h-1zM10 17h1v1h-1zM10 18h1v1h-1zM20 18h1v1h-1zM21 19h2v1h-2zM28 19h1v1h-1zM11 22h1v1h-1zM12 24h1v1h-1zM15 28h1v1h-1z"/><path fill="#d6ff00" d="M29 0h1v1h-1zM12 1h1v1h-1zM21 4h1v1h-1zM10 5h1v1h-1zM22 5h1v1h-1zM36 5h1v1h-1zM10 12h1v1h-1zM31 16h1v1h-1zM22 18h1v1h-1zM23 19h3v1h-3zM27 19h1v1h-1z"/><path fill="#e6ff00" d="M13 0h1v1h-1zM17 0h1v1h-1zM26 1h1v1h-1zM24 3h1v1h-1zM35 3h1v1h-1zM23 4h1v1h-1zM21 5h1v1h-1zM10 6h1v1h-1zM10 7h1v1h-1zM10 8h1v1h-1zM20 8h1v1h-1zM10 9h1v1h-1zM20 9h1v1h-1zM10 10h1v1h-1zM21 10h1v1h-1zM19 14h1v1h-1zM19 15h1v1h-1zM19 16h1v1h-1zM19 17h1v1h-1zM23 17h1v1h-1zM20 19h1v1h-1zM26 19h1v1h-1zM21 20h1v1h-1zM11 21h1v1h-1zM21 21h1v1h-1zM20 24h1v1h-1zM13 25h1v1h-1zM14 27h1v1h-1z"/><path fill="#f5ff00" d="M25 2h1v1h-1zM34 2h1v1h-1zM20 6h1v1h-1zM36 6h1v1h-1zM20 7h1v1h-1zM36 9h1v1h-1zM22 10h1v1h-1zM21 11h2v1h-2zM29 18h1v1h-1zM11 20h1v1h-1zM21 22h1v1h-1z"/><path fill="#fffa00" d="M32 1h1v1h-1zM20 4h1v1h-1zM23 6h1v1h-1zM23 7h1v1h-1zM36 7h1v1h-1zM23 8h1v1h-1zM23 9h1v1h-1zM20 10h1v1h-1zM20 11h1v1h-1zM24 12h1v1h-1zM19 13h1v1h-1zM24 13h1v1h-1zM33 13h1v1h-1zM24 14h1v1h-1zM24 15h1v1h-1zM30 17h1v1h-1zM19 18h1v1h-1zM23 18h1v1h-1zM19 19h1v1h-1zM12 23h1v1h-1zM19 25h1v1h-1zM17 27h1v1h-1z"/><path fill="#ffeb00" d="M14 0h1v1h-1zM16 0h1v1h-1zM17 1h1v1h-1zM11 3h1v1h-1zM19 3h1v1h-1zM24 4h1v1h-1zM35 4h1v1h-1zM20 5h1v1h-1zM23 5h1v1h-1zM36 8h1v1h-1zM35 10h1v1h-1zM11 11h1v1h-1zM23 11h1v1h-1zM19 12h1v1h-1zM24 16h1v1h-1zM24 18h1v1h-1zM18 26h1v1h-1z"/><path fill="#ffdb00" d="M15 0h1v1h-1zM13 1h1v1h-1zM18 2h1v1h-1zM23 10h1v1h-1zM30 16h1v1h-1zM28 18h1v1h-1zM20 20h1v1h-1zM12 22h1v1h-1zM15 27h1v1h-1z"/><path fill="#ffcc00" d="M27 1h1v1h-1zM31 1h1v1h-1zM12 2h1v1h-1zM33 2h1v1h-1zM25 3h1v1h-1zM34 3h1v1h-1zM35 5h1v1h-1zM11 13h1v1h-1zM11 14h1v1h-1zM11 15h1v1h-1zM18 15h1v1h-1zM31 15h1v1h-1zM11 16h1v1h-1zM18 16h1v1h-1zM11 17h1v1h-1zM24 17h1v1h-1zM29 17h1v1h-1zM11 18h1v1h-1zM25 18h1v1h-1zM11 19h1v1h-1zM12 21h1v1h-1zM20 21h1v1h-1zM20 23h1v1h-1zM13 24h1v1h-1zM16 27h1v1h-1z"/><path fill="#ffbd00" d="M26 2h1v1h-1zM11 4h1v1h-1zM19 8h1v1h-1zM24 8h1v1h-1zM19 9h1v1h-1zM24 9h1v1h-1zM19 11h1v1h-1zM34 11h1v1h-1zM33 12h1v1h-1zM18 14h1v1h-1zM32 14h1v1h-1zM18 17h1v1h-1zM26 18h2v1h-2zM12 20h1v1h-1zM20 22h1v1h-1zM14 26h1v1h-1z"/><path fill="#ffad00" d="M14 1h1v1h-1zM16 1h1v1h-1zM28 1h1v1h-1zM30 1h1v1h-1zM24 6h1v1h-1zM35 6h1v1h-1zM19 7h1v1h-1zM24 7h1v1h-1zM11 10h1v1h-1zM19 10h1v1h-1zM11 12h1v1h-1zM18 13h1v1h-1zM18 18h1v1h-1zM14 25h1v1h-1zM15 26h1v1h-1z"/><path fill="#ff9e00" d="M15 1h1v1h-1zM29 1h1v1h-1zM32 2h1v1h-1zM25 4h1v1h-1zM34 4h1v1h-1zM11 5h1v1h-1zM24 5h1v1h-1zM24 11h1v1h-1zM25 13h1v1h-1zM18 19h1v1h-1z"/><path fill="#ff8f00" d="M33 3h1v1h-1zM19 4h1v1h-1zM19 5h1v1h-1zM11 6h1v1h-1zM19 6h1v1h-1zM11 7h1v1h-1zM35 7h1v1h-1zM11 8h1v1h-1zM11 9h1v1h-1zM35 9h1v1h-1zM24 10h1v1h-1zM18 12h1v1h-1zM25 12h1v1h-1zM25 14h1v1h-1zM25 15h1v1h-1zM25 16h1v1h-1zM25 17h1v1h-1zM28 17h1v1h-1zM13 23h1v1h-1zM17 26h1v1h-1z"/><path fill="#ff8000" d="M17 2h1v1h-1zM12 3h1v1h-1zM18 3h1v1h-1zM35 8h1v1h-1zM12 11h1v1h-1zM29 16h1v1h-1zM19 20h1v1h-1zM19 24h1v1h-1z"/><path fill="#ff7000" d="M13 2h1v1h-1zM27 2h1v1h-1zM31 2h1v1h-1zM26 3h1v1h-1zM34 5h1v1h-1zM12 13h1v1h-1zM32 13h1v1h-1zM12 14h1v1h-1zM26 17h2v1h-2zM19 21h1v1h-1zM13 22h1v1h-1zM19 22h1v1h-1zM16 26h1v1h-1z"/><path fill="#ff6100" d="M32 3h1v1h-1zM12 12h1v1h-1zM17 14h1v1h-1zM12 15h1v1h-1zM17 15h1v1h-1zM30 15h1v1h-1zM12 16h1v1h-1zM12 17h1v1h-1zM12 18h1v1h-1zM12 19h1v1h-1zM19 23h1v1h-1zM14 24h1v1h-1zM18 25h1v1h-1z"/><path fill="#ff5200" d="M30 2h1v1h-1zM33 4h1v1h-1zM34 6h1v1h-1zM25 7h1v1h-1zM25 8h1v1h-1zM25 9h1v1h-1zM18 11h1v1h-1zM17 13h1v1h-1zM17 16h1v1h-1zM17 17h1v1h-1zM13 20h1v1h-1zM13 21h1v1h-1z"/><path fill="#ff4200" d="M16 2h1v1h-1zM28 2h2v1h-2zM12 4h1v1h-1zM25 6h1v1h-1zM18 8h1v1h-1zM18 9h1v1h-1zM25 11h1v1h-1zM17 12h1v1h-1zM17 18h1v1h-1zM15 25h1v1h-1z"/><path fill="#ff3300" d="M14 2h2v1h-2zM31 3h1v1h-1zM18 4h1v1h-1zM26 4h1v1h-1zM18 5h1v1h-1zM25 5h1v1h-1zM18 7h1v1h-1zM34 7h1v1h-1zM12 10h1v1h-1zM18 10h1v1h-1zM25 10h1v1h-1zM34 10h1v1h-1zM31 14h1v1h-1zM26 16h1v1h-1zM28 16h1v1h-1zM17 19h1v1h-1zM18 20h1v1h-1zM14 23h1v1h-1z"/><path fill="#ff2400" d="M17 3h1v1h-1zM27 3h1v1h-1zM12 5h1v1h-1zM33 5h1v1h-1zM12 6h1v1h-1zM18 6h1v1h-1zM12 7h1v1h-1zM12 8h1v1h-1zM34 8h1v1h-1zM12 9h1v1h-1zM34 9h1v1h-1zM33 11h1v1h-1zM26 12h1v1h-1zM13 13h1v1h-1zM26 13h1v1h-1zM13 14h1v1h-1zM27 16h1v1h-1zM18 21h1v1h-1z"/><path fill="#ff1400" d="M13 3h1v1h-1zM32 4h1v1h-1zM13 11h1v1h-1zM13 12h1v1h-1zM32 12h1v1h-1zM16 13h1v1h-1zM16 14h1v1h-1zM26 15h1v1h-1zM13 16h1v1h-1zM14 22h1v1h-1zM18 22h1v1h-1zM18 23h1v1h-1zM18 24h1v1h-1zM16 25h2v1h-2z"/><path fill="#ff0500" d="M30 3h1v1h-1zM33 6h1v1h-1zM26 8h1v1h-1zM26 9h1v1h-1zM17 11h1v1h-1zM16 12h1v1h-1zM14 13h2v1h-2zM14 14h1v1h-1zM26 14h1v1h-1zM13 15h1v1h-1zM16 15h1v1h-1zM29 15h1v1h-1zM16 16h1v1h-1zM13 17h1v1h-1zM16 17h1v1h-1zM13 18h1v1h-1zM14 21h1v1h-1zM15 24h1v1h-1z"/><path fill="#fa0101" d="M28 3h1v1h-1zM26 7h1v1h-1zM14 12h2v1h-2zM31 13h1v1h-1zM15 14h1v1h-1zM14 16h2v1h-2zM16 18h1v1h-1zM13 19h1v1h-1zM14 20h1v1h-1zM17 24h1v1h-1z"/><path fill="#f30202" d="M29 3h1v1h-1zM17 4h1v1h-1zM27 4h1v1h-1zM26 5h1v1h-1zM32 5h1v1h-1zM26 6h1v1h-1zM33 7h1v1h-1zM17 10h1v1h-1zM26 10h1v1h-1zM26 11h1v1h-1zM14 15h2v1h-2zM27 15h1v1h-1zM14 17h2v1h-2zM14 18h2v1h-2zM16 19h1v1h-1zM17 20h1v1h-1zM17 22h1v1h-1zM15 23h1v1h-1zM17 23h1v1h-1zM16 24h1v1h-1z"/><path fill="#ec0303" d="M14 3h1v1h-1zM16 3h1v1h-1zM13 4h1v1h-1zM31 4h1v1h-1zM17 5h1v1h-1zM17 7h1v1h-1zM17 8h1v1h-1zM17 9h1v1h-1zM28 15h1v1h-1zM14 19h2v1h-2zM17 21h1v1h-1zM15 22h1v1h-1zM16 23h1v1h-1z"/><path fill="#e50404" d="M15 3h1v1h-1zM17 6h1v1h-1zM33 8h1v1h-1zM13 10h1v1h-1zM14 11h1v1h-1zM16 11h1v1h-1zM27 13h1v1h-1zM16 22h1v1h-1z"/><path fill="#de0505" d="M28 4h1v1h-1zM30 4h1v1h-1zM13 5h1v1h-1zM13 6h1v1h-1zM32 6h1v1h-1zM13 7h1v1h-1zM13 8h1v1h-1zM13 9h1v1h-1zM33 9h1v1h-1zM33 10h1v1h-1zM15 11h1v1h-1zM27 12h1v1h-1zM27 14h1v1h-1zM30 14h1v1h-1zM15 20h2v1h-2zM15 21h2v1h-2z"/><path fill="#d70606" d="M16 4h1v1h-1zM29 4h1v1h-1zM27 5h1v1h-1zM31 5h1v1h-1zM27 6h1v1h-1zM27 7h1v1h-1zM27 8h1v1h-1zM27 9h1v1h-1zM16 10h1v1h-1z"/><path fill="#cf0707" d="M14 4h1v1h-1zM16 7h1v1h-1zM32 7h1v1h-1zM16 8h1v1h-1zM16 9h1v1h-1zM27 10h1v1h-1zM27 11h1v1h-1z"/><path fill="#c80808" d="M15 4h1v1h-1zM16 5h1v1h-1zM28 5h3v1h-3zM16 6h1v1h-1zM31 6h1v1h-1zM32 8h1v1h-1zM14 10h2v1h-2zM32 11h1v1h-1zM28 14h1v1h-1z"/><path fill="#c10909" d="M14 5h1v1h-1zM28 6h3v1h-3zM14 7h2v1h-2zM28 7h1v1h-1zM31 7h1v1h-1zM14 8h2v1h-2zM14 9h2v1h-2zM32 9h1v1h-1zM31 12h1v1h-1zM28 13h1v1h-1zM30 13h1v1h-1zM29 14h1v1h-1z"/><path fill="#ba0a0a" d="M15 5h1v1h-1zM14 6h2v1h-2zM28 8h1v1h-1zM28 9h1v1h-1zM28 12h1v1h-1z"/><path fill="#b30c0c" d="M29 7h2v1h-2zM31 8h1v1h-1zM32 10h1v1h-1zM29 13h1v1h-1z"/><path fill="#ac0d0d" d="M29 8h1v1h-1zM31 9h1v1h-1zM28 10h1v1h-1zM28 11h1v1h-1z"/><path fill="#a50e0e" d="M30 8h1v1h-1zM29 9h1v1h-1zM29 12h2v1h-2z"/><path fill="#9d0f0f" d="M30 9h1v1h-1zM31 11h1v1h-1z"/><path fill="#961010" d="M31 10h1v1h-1z"/><path fill="#8f1111" d="M29 10h1v1h-1zM29 11h1v1h-1z"/><path fill="#881212" d="M30 10h1v1h-1zM30 11h1v1h-1z"/></g>
</g>
<g stroke="#000" stroke-width="4.17" fill="none" stroke-dasharray="25 25">
<path d="M699.2 2745.1V1704.3M699.2 1704.3V1479.3"/>
<path d="M1013.4 2745.1V1704.3M1013.4 1704.3V1479.3"/>
<path d="M349.2 2387.8H1369.9M1369.9 2387.8H1594.6"/>
<path d="M349.2 2067.9H1369.9M1369.9 2067.9H1594.6"/>
<path d="M349.2 2745.1L1369.9 1704.3"/>
</g>
<g clip-path="url(#t3)">
<polyline fill="none" stroke="#0000ff" stroke-width="6.0" stroke-linejoin="miter" stroke-miterlimit="10" points="348.4,1685.4 374,1682.7 399.5,1677.5 425,1670.5 450.6,1664 476.1,1655.7 501.6,1645.2 527.1,1631.7 552.7,1616.5 578.2,1595.5 603.7,1572.8 629.3,1551.9 654.8,1534.5 680.3,1518.3 705.9,1505.2 731.4,1498.3 756.9,1498.7 782.4,1507 808,1521.4 833.5,1538.8 859,1556.3 884.6,1572 910.1,1577.2 935.6,1575 961.2,1568.9 986.7,1560.6 1012.2,1551.9 1037.7,1543.6 1063.3,1538 1088.8,1538 1114.3,1540.6 1139.9,1545.4 1165.4,1554.1 1190.9,1565 1216.5,1575.9 1242,1589.9 1267.5,1604.2 1293,1616.5 1318.6,1628.7 1344.1,1641.3 1369.6,1649.6" />
<polyline fill="none" stroke="#000" stroke-width="6.6" stroke-linejoin="miter" stroke-miterlimit="10" points="405.3,1685.8 448,1679.7 491.6,1671 535.3,1657.5 565.8,1644.9 600.7,1626.1 635.6,1601.2 661.7,1582.5 683.5,1570.7 705.3,1564.6 722.8,1562.4 744.6,1562.9 775.1,1565.9 805.6,1567.7 831.8,1565.9 862.3,1559.8 892.9,1549.8 927.8,1533.2 962.6,1515.8 993.2,1504.9 1019.3,1499.2 1041.1,1497.9 1071.7,1500.5 1106.6,1506.6 1150.2,1514.5 1193.8,1520.6 1237.4,1524.5 1281,1526.2 1324.6,1526.2 1369.5,1525.4" />
</g>
<g clip-path="url(#s3)">
<polyline fill="none" stroke="#0000ff" stroke-width="6.0" stroke-linejoin="miter" stroke-miterlimit="10" points="1512.5,1705.1 1519.5,1731.1 1533.5,1757.1 1549.3,1783.2 1562.6,1809.2 1572.1,1835.2 1574.9,1861.3 1573.8,1887.3 1574.9,1913.3 1576.3,1939.4 1574.9,1965.4 1566.1,1991.4 1556.3,2017.4 1552.8,2043.5 1552.8,2069.5 1547.5,2095.5 1544,2121.6 1544.7,2147.6 1541.2,2173.6 1537,2199.7 1533.9,2225.7 1535.7,2251.7 1535.7,2277.7 1523.4,2303.8 1507.6,2329.8 1494.2,2355.8 1486.5,2381.9 1478.4,2407.9 1461.9,2433.9 1445.4,2460 1445,2486 1444.3,2512 1430.3,2538 1416.2,2564.1 1417.3,2590.1 1418.7,2616.1 1405.7,2642.2 1388.1,2668.2 1396.9,2694.2 1405.7,2720.3 1393.4,2746.3" />
<polyline fill="none" stroke="#000" stroke-width="6.6" stroke-linejoin="miter" stroke-miterlimit="10" points="1388.3,2687.9 1394.4,2644.3 1403.1,2599.9 1416.6,2555.4 1429.3,2524.3 1448,2488.7 1472.8,2453.1 1491.5,2426.4 1503.3,2404.2 1509.4,2382 1511.6,2364.2 1511.1,2341.9 1508.1,2310.8 1506.4,2279.7 1508.1,2253 1514.2,2221.9 1524.2,2190.7 1540.8,2155.2 1558.2,2119.6 1569.1,2088.5 1574.7,2061.8 1576,2039.5 1573.4,2008.4 1567.3,1972.8 1559.5,1928.4 1553.4,1883.9 1549.5,1839.4 1547.7,1794.9 1547.7,1750.5 1548.6,1704.7" />
</g>
<rect x="1120.3" y="2561.3" width="197.5" height="130.9" fill="#fff" fill-opacity="0.5" stroke="#000" stroke-opacity="0.5" stroke-width="4.17"/>
<text x="1297.4" y="2650.1" font-size="83.3" text-anchor="end">0 fs</text>
<path stroke="#000" stroke-width="2.0" fill="none" shape-rendering="crispEdges" d="M504.3 2745.1v-16.7M504.3 1687.6v33.4M504.3 1479.3v16.7M349.2 2586.3h16.7M1353.2 2586.3h33.4M1594.6 2586.3h-16.7M710.4 2745.1v-16.7M710.4 1687.6v33.4M710.4 1479.3v16.7M349.2 2376.5h16.7M1353.2 2376.5h33.4M1594.6 2376.5h-16.7M916.4 2745.1v-16.7M916.4 1687.6v33.4M916.4 1479.3v16.7M349.2 2166.7h16.7M1353.2 2166.7h33.4M1594.6 2166.7h-16.7M1122.4 2745.1v-16.7M1122.4 1687.6v33.4M1122.4 1479.3v16.7M349.2 1956.9h16.7M1353.2 1956.9h33.4M1594.6 1956.9h-16.7M1328.5 2745.1v-16.7M1328.5 1687.6v33.4M1328.5 1479.3v16.7M349.2 1747.1h16.7M1353.2 1747.1h33.4M1594.6 1747.1h-16.7"/>
<g stroke="#000" stroke-width="4" fill="none" stroke-linecap="square" shape-rendering="crispEdges">
<rect x="349.2" y="1479.3" width="1020.7" height="225"/>
<rect x="349.2" y="1704.3" width="1020.7" height="1040.8"/>
<rect x="1369.9" y="1704.3" width="224.7" height="1040.8"/>
</g>
<text x="336.8" y="2607.8" font-size="75" text-anchor="end">1.7</text>
<text x="337.5" y="2398" font-size="75" text-anchor="end">1.8</text>
<text x="338" y="2188.2" font-size="75" text-anchor="end">1.9</text>
<text x="337.4" y="1978.4" font-size="75" text-anchor="end">2.0</text>
<text x="339" y="1768.6" font-size="75" text-anchor="end">2.1</text>
<text x="502.4" y="2818.8" font-size="75" text-anchor="middle">1.7</text>
<text x="708.8" y="2818.8" font-size="75" text-anchor="middle">1.8</text>
<text x="915.1" y="2818.8" font-size="75" text-anchor="middle">1.9</text>
<text x="1122.1" y="2818.8" font-size="75" text-anchor="middle">2.0</text>
<text x="1329" y="2818.8" font-size="75" text-anchor="middle">2.1</text>
<g clip-path="url(#h4)">
<g transform="translate(1643.6 1692.1) scale(25.53 26.03)" shape-rendering="crispEdges"><path fill="#f0f0ff" d="M0 33h1v1h-1zM0 34h2v1h-2zM4 35h1v1h-1zM37 35h1v1h-1zM33 36h1v1h-1zM30 37h1v1h-1zM1 39h1v1h-1zM21 40h1v1h-1zM30 40h1v1h-1z"/><path fill="#e0e0ff" d="M0 32h1v1h-1zM3 33h1v1h-1zM2 34h1v1h-1zM40 34h1v1h-1zM36 35h1v1h-1zM40 35h1v1h-1zM32 36h1v1h-1zM8 37h1v1h-1zM31 38h1v1h-1zM35 38h1v1h-1zM2 39h1v1h-1zM8 39h1v1h-1zM29 39h1v1h-1zM37 39h1v1h-1zM28 40h1v1h-1z"/><path fill="#d1d1ff" d="M1 32h1v1h-1zM3 34h1v1h-1zM38 34h2v1h-2zM35 35h1v1h-1zM39 35h1v1h-1zM6 36h1v1h-1zM31 36h1v1h-1zM29 37h1v1h-1zM2 38h2v1h-2zM8 38h1v1h-1zM30 38h1v1h-1zM32 38h3v1h-3zM5 39h1v1h-1zM22 39h2v1h-2zM39 39h1v1h-1zM4 40h2v1h-2zM20 40h1v1h-1zM29 40h1v1h-1z"/><path fill="#c2c2ff" d="M0 29h1v1h-1zM0 30h1v1h-1zM0 31h1v1h-1zM2 32h2v1h-2zM4 33h1v1h-1zM4 34h2v1h-2zM5 35h1v1h-1zM34 35h1v1h-1zM7 36h1v1h-1zM30 36h1v1h-1zM0 38h2v1h-2zM21 38h1v1h-1zM29 38h1v1h-1zM3 39h2v1h-2zM9 39h1v1h-1zM20 39h2v1h-2zM24 39h1v1h-1zM26 39h1v1h-1zM30 39h1v1h-1zM35 39h2v1h-2zM40 39h1v1h-1zM10 40h1v1h-1zM27 40h1v1h-1z"/><path fill="#b2b2ff" d="M0 28h1v1h-1zM1 29h1v1h-1zM1 30h1v1h-1zM1 31h2v1h-2zM5 33h1v1h-1zM40 33h1v1h-1zM37 34h1v1h-1zM33 35h1v1h-1zM28 37h1v1h-1zM20 38h1v1h-1zM22 38h1v1h-1zM25 39h1v1h-1zM34 39h1v1h-1zM19 40h1v1h-1z"/><path fill="#a3a3ff" d="M0 0h1v1h-1zM0 27h1v1h-1zM1 28h1v1h-1zM2 29h1v1h-1zM2 30h2v1h-2zM3 31h1v1h-1zM4 32h2v1h-2zM6 33h1v1h-1zM22 33h1v1h-1zM39 33h1v1h-1zM6 34h1v1h-1zM36 34h1v1h-1zM6 35h2v1h-2zM32 35h1v1h-1zM8 36h1v1h-1zM22 36h1v1h-1zM29 36h1v1h-1zM9 37h1v1h-1zM21 37h3v1h-3zM9 38h1v1h-1zM19 38h1v1h-1zM23 38h2v1h-2zM28 38h1v1h-1zM10 39h1v1h-1zM19 39h1v1h-1zM31 39h3v1h-3zM11 40h1v1h-1zM24 40h1v1h-1zM26 40h1v1h-1z"/><path fill="#9494ff" d="M0 1h1v1h-1zM1 27h1v1h-1zM2 28h1v1h-1zM3 29h1v1h-1zM4 31h1v1h-1zM23 33h1v1h-1zM38 33h1v1h-1zM22 34h1v1h-1zM35 34h1v1h-1zM31 35h1v1h-1zM23 36h1v1h-1zM28 36h1v1h-1zM20 37h1v1h-1zM24 37h1v1h-1zM27 37h1v1h-1zM25 38h1v1h-1zM27 38h1v1h-1zM11 39h1v1h-1z"/><path fill="#8585ff" d="M1 0h1v1h-1zM1 1h1v1h-1zM0 2h1v1h-1zM0 25h1v1h-1zM0 26h2v1h-2zM2 27h1v1h-1zM3 28h1v1h-1zM4 29h1v1h-1zM40 29h1v1h-1zM4 30h1v1h-1zM5 31h1v1h-1zM40 31h1v1h-1zM6 32h1v1h-1zM40 32h1v1h-1zM7 33h1v1h-1zM37 33h1v1h-1zM7 34h1v1h-1zM21 34h1v1h-1zM34 34h1v1h-1zM8 35h1v1h-1zM21 35h2v1h-2zM30 35h1v1h-1zM9 36h1v1h-1zM21 36h1v1h-1zM24 36h1v1h-1zM10 37h1v1h-1zM10 38h2v1h-2zM18 38h1v1h-1zM26 38h1v1h-1zM12 39h1v1h-1zM18 39h1v1h-1zM12 40h1v1h-1zM18 40h1v1h-1zM25 40h1v1h-1z"/><path fill="#7575ff" d="M0 23h1v1h-1zM0 24h1v1h-1zM1 25h1v1h-1zM40 28h1v1h-1zM39 29h1v1h-1zM5 30h1v1h-1zM40 30h1v1h-1zM36 33h1v1h-1zM23 34h1v1h-1zM33 34h1v1h-1zM23 35h1v1h-1zM29 35h1v1h-1zM20 36h1v1h-1zM27 36h1v1h-1zM19 37h1v1h-1zM25 37h1v1h-1zM13 40h1v1h-1z"/><path fill="#6666ff" d="M2 0h1v1h-1zM1 2h1v1h-1zM0 3h1v1h-1zM0 18h1v1h-1zM0 19h1v1h-1zM0 20h1v1h-1zM0 21h1v1h-1zM0 22h2v1h-2zM1 23h1v1h-1zM1 24h1v1h-1zM2 26h1v1h-1zM3 27h1v1h-1zM4 28h1v1h-1zM39 28h1v1h-1zM5 29h1v1h-1zM39 30h1v1h-1zM6 31h1v1h-1zM39 31h1v1h-1zM39 32h1v1h-1zM21 33h1v1h-1zM24 33h1v1h-1zM35 33h1v1h-1zM8 34h1v1h-1zM32 34h1v1h-1zM20 35h1v1h-1zM28 35h1v1h-1zM25 36h1v1h-1zM11 37h1v1h-1zM26 37h1v1h-1zM12 38h1v1h-1zM13 39h1v1h-1zM17 39h1v1h-1zM14 40h1v1h-1zM17 40h1v1h-1z"/><path fill="#5757ff" d="M2 1h1v1h-1zM1 3h1v1h-1zM0 4h1v1h-1zM0 16h1v1h-1zM0 17h1v1h-1zM1 20h1v1h-1zM1 21h1v1h-1zM2 25h1v1h-1zM40 27h1v1h-1zM38 29h1v1h-1zM6 30h1v1h-1zM7 32h1v1h-1zM38 32h1v1h-1zM34 33h1v1h-1zM31 34h1v1h-1zM9 35h1v1h-1zM24 35h1v1h-1zM27 35h1v1h-1zM10 36h1v1h-1zM19 36h1v1h-1zM15 40h2v1h-2z"/><path fill="#4747ff" d="M2 2h1v1h-1zM1 4h1v1h-1zM0 5h1v1h-1zM0 6h1v1h-1zM0 7h1v1h-1zM0 8h1v1h-1zM0 9h1v1h-1zM0 10h1v1h-1zM0 11h1v1h-1zM0 12h1v1h-1zM0 13h1v1h-1zM0 14h1v1h-1zM0 15h1v1h-1zM1 17h1v1h-1zM1 18h1v1h-1zM1 19h1v1h-1zM2 22h1v1h-1zM2 23h1v1h-1zM2 24h1v1h-1zM3 26h1v1h-1zM4 27h1v1h-1zM39 27h1v1h-1zM5 28h1v1h-1zM38 28h1v1h-1zM38 30h1v1h-1zM38 31h1v1h-1zM22 32h3v1h-3zM37 32h1v1h-1zM8 33h1v1h-1zM33 33h1v1h-1zM20 34h1v1h-1zM24 34h1v1h-1zM30 34h1v1h-1zM26 36h1v1h-1zM18 37h1v1h-1zM13 38h1v1h-1zM17 38h1v1h-1zM14 39h3v1h-3z"/><path fill="#3838ff" d="M3 0h1v1h-1zM1 5h1v1h-1zM1 6h1v1h-1zM1 7h1v1h-1zM1 8h1v1h-1zM1 9h1v1h-1zM1 10h1v1h-1zM1 11h1v1h-1zM1 12h1v1h-1zM1 13h1v1h-1zM1 14h1v1h-1zM1 16h1v1h-1zM2 21h1v1h-1zM3 25h1v1h-1zM6 29h1v1h-1zM37 29h1v1h-1zM37 30h1v1h-1zM7 31h1v1h-1zM25 33h1v1h-1zM32 33h1v1h-1zM9 34h1v1h-1zM29 34h1v1h-1zM19 35h1v1h-1zM25 35h1v1h-1zM11 36h1v1h-1zM12 37h1v1h-1z"/><path fill="#2929ff" d="M3 1h1v1h-1zM2 3h1v1h-1zM1 15h1v1h-1zM2 18h1v1h-1zM2 19h1v1h-1zM2 20h1v1h-1zM3 23h1v1h-1zM3 24h1v1h-1zM4 26h1v1h-1zM40 26h1v1h-1zM5 27h1v1h-1zM6 28h1v1h-1zM37 28h1v1h-1zM7 30h1v1h-1zM23 30h3v1h-3zM37 31h1v1h-1zM8 32h1v1h-1zM21 32h1v1h-1zM25 32h1v1h-1zM36 32h1v1h-1zM9 33h1v1h-1zM20 33h1v1h-1zM31 33h1v1h-1zM25 34h1v1h-1zM27 34h2v1h-2zM10 35h1v1h-1zM26 35h1v1h-1zM18 36h1v1h-1zM17 37h1v1h-1zM14 38h1v1h-1zM16 38h1v1h-1z"/><path fill="#1a1aff" d="M3 2h1v1h-1zM2 4h1v1h-1zM2 16h1v1h-1zM2 17h1v1h-1zM3 22h1v1h-1zM4 25h1v1h-1zM38 27h1v1h-1zM36 29h1v1h-1zM36 30h1v1h-1zM22 31h4v1h-4zM36 31h1v1h-1zM26 33h1v1h-1zM29 33h2v1h-2zM19 34h1v1h-1zM26 34h1v1h-1zM12 36h1v1h-1zM13 37h1v1h-1zM15 38h1v1h-1z"/><path fill="#0a0aff" d="M4 0h1v1h-1zM4 1h1v1h-1zM2 5h1v1h-1zM2 6h1v1h-1zM2 7h1v1h-1zM2 8h1v1h-1zM2 9h1v1h-1zM2 10h1v1h-1zM2 11h1v1h-1zM2 12h1v1h-1zM2 13h1v1h-1zM2 14h1v1h-1zM2 15h1v1h-1zM3 20h1v1h-1zM3 21h1v1h-1zM4 24h1v1h-1zM5 26h1v1h-1zM39 26h1v1h-1zM6 27h1v1h-1zM36 28h1v1h-1zM7 29h1v1h-1zM23 29h3v1h-3zM22 30h1v1h-1zM26 30h1v1h-1zM8 31h1v1h-1zM21 31h1v1h-1zM26 31h1v1h-1zM35 31h1v1h-1zM9 32h1v1h-1zM26 32h1v1h-1zM35 32h1v1h-1zM27 33h2v1h-2zM10 34h1v1h-1zM11 35h1v1h-1zM18 35h1v1h-1zM13 36h1v1h-1zM17 36h1v1h-1zM14 37h1v1h-1zM16 37h1v1h-1z"/><path fill="#0005ff" d="M3 3h1v1h-1zM3 16h1v1h-1zM3 17h1v1h-1zM3 18h1v1h-1zM3 19h1v1h-1zM4 23h1v1h-1zM5 25h1v1h-1zM37 27h1v1h-1zM7 28h1v1h-1zM35 29h1v1h-1zM8 30h1v1h-1zM35 30h1v1h-1zM20 32h1v1h-1zM27 32h1v1h-1zM34 32h1v1h-1zM10 33h1v1h-1zM12 35h1v1h-1zM14 36h1v1h-1zM16 36h1v1h-1zM15 37h1v1h-1z"/><path fill="#0014ff" d="M4 2h1v1h-1zM3 4h1v1h-1zM3 5h1v1h-1zM3 6h1v1h-1zM3 7h1v1h-1zM3 8h1v1h-1zM3 9h1v1h-1zM3 10h1v1h-1zM3 11h1v1h-1zM3 12h1v1h-1zM3 13h1v1h-1zM3 14h1v1h-1zM3 15h1v1h-1zM4 21h1v1h-1zM4 22h1v1h-1zM40 25h1v1h-1zM6 26h1v1h-1zM35 28h1v1h-1zM8 29h1v1h-1zM26 29h1v1h-1zM21 30h1v1h-1zM9 31h1v1h-1zM27 31h1v1h-1zM34 31h1v1h-1zM10 32h1v1h-1zM28 32h2v1h-2zM32 32h2v1h-2zM19 33h1v1h-1zM11 34h1v1h-1zM18 34h1v1h-1zM17 35h1v1h-1zM15 36h1v1h-1z"/><path fill="#0024ff" d="M5 0h1v1h-1zM40 0h1v1h-1zM5 1h1v1h-1zM4 3h1v1h-1zM4 18h1v1h-1zM4 19h1v1h-1zM4 20h1v1h-1zM5 24h1v1h-1zM38 26h1v1h-1zM7 27h1v1h-1zM36 27h1v1h-1zM22 29h1v1h-1zM34 29h1v1h-1zM9 30h1v1h-1zM27 30h1v1h-1zM34 30h1v1h-1zM20 31h1v1h-1zM33 31h1v1h-1zM19 32h1v1h-1zM30 32h2v1h-2zM11 33h1v1h-1zM13 35h1v1h-1z"/><path fill="#0033ff" d="M40 1h1v1h-1zM4 16h1v1h-1zM4 17h1v1h-1zM5 23h1v1h-1zM40 24h1v1h-1zM6 25h1v1h-1zM8 28h1v1h-1zM24 28h2v1h-2zM28 31h1v1h-1zM32 31h1v1h-1zM12 34h1v1h-1zM16 35h1v1h-1z"/><path fill="#0042ff" d="M39 0h1v1h-1zM5 2h1v1h-1zM4 4h1v1h-1zM4 12h1v1h-1zM4 13h1v1h-1zM4 14h1v1h-1zM4 15h1v1h-1zM5 22h1v1h-1zM40 23h1v1h-1zM39 25h1v1h-1zM23 28h1v1h-1zM34 28h1v1h-1zM9 29h1v1h-1zM27 29h1v1h-1zM33 29h1v1h-1zM33 30h1v1h-1zM10 31h1v1h-1zM29 31h1v1h-1zM31 31h1v1h-1zM18 33h1v1h-1zM14 35h2v1h-2z"/><path fill="#0052ff" d="M4 5h1v1h-1zM4 6h1v1h-1zM4 7h1v1h-1zM4 8h1v1h-1zM4 9h1v1h-1zM4 10h1v1h-1zM4 11h1v1h-1zM5 21h1v1h-1zM7 26h1v1h-1zM35 27h1v1h-1zM26 28h1v1h-1zM20 30h1v1h-1zM28 30h1v1h-1zM30 31h1v1h-1zM11 32h1v1h-1zM12 33h1v1h-1zM17 34h1v1h-1z"/><path fill="#0061ff" d="M6 0h1v1h-1zM39 1h1v1h-1zM5 3h1v1h-1zM5 20h1v1h-1zM40 22h1v1h-1zM6 24h1v1h-1zM39 24h1v1h-1zM37 26h1v1h-1zM8 27h1v1h-1zM33 28h1v1h-1zM21 29h1v1h-1zM28 29h1v1h-1zM32 29h1v1h-1zM10 30h1v1h-1zM32 30h1v1h-1zM19 31h1v1h-1zM13 34h1v1h-1z"/><path fill="#0070ff" d="M6 1h1v1h-1zM5 17h1v1h-1zM5 18h1v1h-1zM5 19h1v1h-1zM40 21h1v1h-1zM6 23h1v1h-1zM29 30h1v1h-1zM31 30h1v1h-1zM18 32h1v1h-1zM16 34h1v1h-1z"/><path fill="#0080ff" d="M5 4h1v1h-1zM5 15h1v1h-1zM5 16h1v1h-1zM40 20h1v1h-1zM6 22h1v1h-1zM39 23h1v1h-1zM7 25h1v1h-1zM34 27h1v1h-1zM9 28h1v1h-1zM22 28h1v1h-1zM27 28h1v1h-1zM32 28h1v1h-1zM29 29h3v1h-3zM30 30h1v1h-1zM11 31h1v1h-1zM12 32h1v1h-1zM13 33h1v1h-1zM17 33h1v1h-1zM14 34h2v1h-2z"/><path fill="#008fff" d="M38 0h1v1h-1zM6 2h1v1h-1zM5 12h1v1h-1zM5 13h1v1h-1zM5 14h1v1h-1zM6 21h1v1h-1zM38 25h1v1h-1zM36 26h1v1h-1z"/><path fill="#009eff" d="M38 1h1v1h-1zM40 2h1v1h-1zM5 5h1v1h-1zM5 6h1v1h-1zM5 7h1v1h-1zM5 8h1v1h-1zM5 9h1v1h-1zM5 10h1v1h-1zM5 11h1v1h-1zM40 19h1v1h-1zM6 20h1v1h-1zM39 22h1v1h-1zM8 26h1v1h-1zM24 27h2v1h-2zM33 27h1v1h-1zM28 28h1v1h-1zM31 28h1v1h-1zM10 29h1v1h-1zM14 33h1v1h-1zM16 33h1v1h-1z"/><path fill="#00adff" d="M7 0h1v1h-1zM7 24h1v1h-1zM29 28h2v1h-2zM19 30h1v1h-1zM15 33h1v1h-1z"/><path fill="#00bdff" d="M7 1h1v1h-1zM39 2h1v1h-1zM6 3h1v1h-1zM6 18h1v1h-1zM40 18h1v1h-1zM6 19h1v1h-1zM39 21h1v1h-1zM38 24h1v1h-1zM35 26h1v1h-1zM9 27h1v1h-1zM23 27h1v1h-1zM26 27h1v1h-1zM32 27h1v1h-1zM20 29h1v1h-1zM11 30h1v1h-1zM18 31h1v1h-1zM13 32h1v1h-1zM17 32h1v1h-1z"/><path fill="#00ccff" d="M37 0h1v1h-1zM40 3h1v1h-1zM6 16h1v1h-1zM6 17h1v1h-1zM39 20h1v1h-1zM7 23h1v1h-1zM38 23h1v1h-1zM21 28h1v1h-1zM12 31h1v1h-1z"/><path fill="#00dbff" d="M37 1h1v1h-1zM7 2h1v1h-1zM6 14h1v1h-1zM6 15h1v1h-1zM40 17h1v1h-1zM7 22h1v1h-1zM8 25h1v1h-1zM37 25h1v1h-1zM27 27h1v1h-1zM31 27h1v1h-1zM10 28h1v1h-1zM16 32h1v1h-1z"/><path fill="#00ebff" d="M6 4h1v1h-1zM40 4h1v1h-1zM6 12h1v1h-1zM6 13h1v1h-1zM40 16h1v1h-1zM7 21h1v1h-1zM38 22h1v1h-1zM34 26h1v1h-1zM14 32h2v1h-2z"/><path fill="#00faff" d="M8 0h1v1h-1zM38 2h1v1h-1zM39 3h1v1h-1zM6 5h1v1h-1zM6 6h1v1h-1zM6 7h1v1h-1zM6 8h1v1h-1zM6 9h1v1h-1zM6 10h1v1h-1zM6 11h1v1h-1zM40 15h1v1h-1zM7 20h1v1h-1zM8 24h1v1h-1zM9 26h1v1h-1zM22 27h1v1h-1zM28 27h3v1h-3zM11 29h1v1h-1z"/><path fill="#00fff5" d="M36 0h1v1h-1zM8 1h1v1h-1zM40 5h1v1h-1zM40 6h1v1h-1zM40 7h1v1h-1zM40 8h1v1h-1zM40 9h1v1h-1zM40 14h1v1h-1zM39 19h1v1h-1zM38 21h1v1h-1zM33 26h1v1h-1zM18 30h1v1h-1zM17 31h1v1h-1z"/><path fill="#00ffe6" d="M7 3h1v1h-1zM39 4h1v1h-1zM40 10h1v1h-1zM40 12h1v1h-1zM40 13h1v1h-1zM7 18h1v1h-1zM7 19h1v1h-1zM38 20h1v1h-1zM19 29h1v1h-1zM13 31h1v1h-1z"/><path fill="#00ffd6" d="M36 1h1v1h-1zM8 2h1v1h-1zM40 11h1v1h-1zM7 16h1v1h-1zM7 17h1v1h-1zM39 18h1v1h-1zM8 23h1v1h-1zM37 24h1v1h-1zM36 25h1v1h-1zM25 26h1v1h-1zM32 26h1v1h-1zM10 27h1v1h-1zM12 30h1v1h-1z"/><path fill="#00ffc7" d="M7 15h1v1h-1zM24 26h1v1h-1zM20 28h1v1h-1z"/><path fill="#00ffb8" d="M38 3h1v1h-1zM7 4h1v1h-1zM39 5h1v1h-1zM7 12h1v1h-1zM7 13h1v1h-1zM7 14h1v1h-1zM39 17h1v1h-1zM8 22h1v1h-1zM37 23h1v1h-1zM9 25h1v1h-1zM26 26h1v1h-1zM31 26h1v1h-1zM14 31h1v1h-1zM16 31h1v1h-1z"/><path fill="#00ffa8" d="M9 0h1v1h-1zM37 2h1v1h-1zM39 6h1v1h-1zM7 11h1v1h-1zM8 21h1v1h-1zM21 27h1v1h-1zM15 31h1v1h-1z"/><path fill="#00ff99" d="M35 0h1v1h-1zM7 5h1v1h-1zM7 6h1v1h-1zM7 7h1v1h-1zM39 7h1v1h-1zM7 8h1v1h-1zM39 8h1v1h-1zM7 9h1v1h-1zM7 10h1v1h-1zM39 16h1v1h-1zM8 20h1v1h-1zM37 22h1v1h-1zM35 25h1v1h-1zM23 26h1v1h-1zM27 26h1v1h-1zM30 26h1v1h-1zM11 28h1v1h-1z"/><path fill="#00ff8a" d="M9 1h1v1h-1zM38 4h1v1h-1zM28 26h2v1h-2zM17 30h1v1h-1z"/><path fill="#00ff7a" d="M35 1h1v1h-1zM39 9h1v1h-1zM39 15h1v1h-1zM37 21h1v1h-1zM36 24h1v1h-1zM10 26h1v1h-1zM12 29h1v1h-1z"/><path fill="#00ff6b" d="M8 3h1v1h-1zM39 13h1v1h-1zM39 14h1v1h-1zM8 18h1v1h-1zM8 19h1v1h-1zM38 19h1v1h-1zM37 20h1v1h-1zM9 24h1v1h-1zM18 29h1v1h-1zM13 30h1v1h-1z"/><path fill="#00ff5c" d="M9 2h1v1h-1zM39 10h1v1h-1zM39 11h1v1h-1zM39 12h1v1h-1zM8 16h1v1h-1zM8 17h1v1h-1zM34 25h1v1h-1zM22 26h1v1h-1z"/><path fill="#00ff4c" d="M34 0h1v1h-1zM38 5h1v1h-1zM8 15h1v1h-1zM38 18h1v1h-1zM36 23h1v1h-1zM11 27h1v1h-1zM19 28h1v1h-1z"/><path fill="#00ff3d" d="M10 0h1v1h-1zM36 2h1v1h-1zM37 3h1v1h-1zM8 4h1v1h-1zM8 13h1v1h-1zM9 23h1v1h-1zM20 27h1v1h-1zM14 30h1v1h-1zM16 30h1v1h-1z"/><path fill="#00ff2e" d="M38 6h1v1h-1zM8 11h1v1h-1zM8 12h1v1h-1zM38 17h1v1h-1zM9 22h1v1h-1zM36 22h1v1h-1zM35 24h1v1h-1zM33 25h1v1h-1zM15 30h1v1h-1z"/><path fill="#00ff1f" d="M10 1h1v1h-1zM34 1h1v1h-1zM8 5h1v1h-1zM8 6h1v1h-1zM8 7h1v1h-1zM38 7h1v1h-1zM8 8h1v1h-1zM38 8h1v1h-1zM8 9h1v1h-1zM8 10h1v1h-1zM8 14h1v1h-1zM9 21h1v1h-1zM36 21h1v1h-1zM10 25h1v1h-1zM21 26h1v1h-1zM12 28h1v1h-1zM13 29h1v1h-1z"/><path fill="#00ff0f" d="M21 0h2v1h-2zM38 16h1v1h-1zM9 20h1v1h-1zM32 25h1v1h-1zM17 29h1v1h-1z"/><path fill="#00ff00" d="M33 0h1v1h-1zM9 3h1v1h-1zM37 4h1v1h-1zM38 9h1v1h-1zM38 15h1v1h-1zM36 20h1v1h-1zM35 23h1v1h-1zM34 24h1v1h-1zM23 25h3v1h-3z"/><path fill="#0fff00" d="M20 0h1v1h-1zM23 0h1v1h-1zM21 1h2v1h-2zM10 2h1v1h-1zM38 13h1v1h-1zM38 14h1v1h-1zM9 17h1v1h-1zM9 18h1v1h-1zM9 19h1v1h-1zM37 19h1v1h-1zM35 22h1v1h-1zM10 24h1v1h-1zM22 25h1v1h-1zM26 25h1v1h-1zM31 25h1v1h-1zM11 26h1v1h-1zM19 27h1v1h-1zM18 28h1v1h-1zM16 29h1v1h-1z"/><path fill="#1fff00" d="M11 0h1v1h-1zM20 1h1v1h-1zM35 2h1v1h-1zM37 5h1v1h-1zM38 10h1v1h-1zM38 12h1v1h-1zM9 16h1v1h-1zM33 24h1v1h-1zM30 25h1v1h-1zM20 26h1v1h-1zM12 27h1v1h-1zM14 29h1v1h-1z"/><path fill="#2eff00" d="M19 0h1v1h-1zM11 1h1v1h-1zM23 1h1v1h-1zM33 1h1v1h-1zM36 3h1v1h-1zM38 11h1v1h-1zM9 15h1v1h-1zM37 18h1v1h-1zM35 21h1v1h-1zM10 23h1v1h-1zM34 23h1v1h-1zM23 24h2v1h-2zM21 25h1v1h-1zM27 25h3v1h-3zM13 28h1v1h-1zM15 29h1v1h-1z"/><path fill="#3dff00" d="M24 0h1v1h-1zM32 0h1v1h-1zM21 2h2v1h-2zM9 4h1v1h-1zM37 6h1v1h-1zM10 22h1v1h-1zM22 24h1v1h-1zM25 24h1v1h-1z"/><path fill="#4dff00" d="M19 1h1v1h-1zM37 7h1v1h-1zM37 8h1v1h-1zM9 14h1v1h-1zM37 17h1v1h-1zM35 20h1v1h-1zM10 21h1v1h-1zM34 22h1v1h-1zM23 23h1v1h-1zM32 24h1v1h-1zM11 25h1v1h-1zM17 28h1v1h-1z"/><path fill="#5cff00" d="M12 0h1v1h-1zM18 0h1v1h-1zM24 1h1v1h-1zM20 2h1v1h-1zM36 4h1v1h-1zM9 12h1v1h-1zM9 13h1v1h-1zM10 20h1v1h-1zM22 23h1v1h-1zM24 23h1v1h-1zM33 23h1v1h-1zM21 24h1v1h-1zM26 24h1v1h-1zM20 25h1v1h-1zM18 27h1v1h-1z"/><path fill="#6bff00" d="M25 0h1v1h-1zM32 1h1v1h-1zM11 2h1v1h-1zM23 2h1v1h-1zM34 2h1v1h-1zM9 5h1v1h-1zM37 9h1v1h-1zM9 11h1v1h-1zM37 16h1v1h-1zM10 19h1v1h-1zM36 19h1v1h-1zM11 24h1v1h-1zM31 24h1v1h-1zM12 26h1v1h-1zM19 26h1v1h-1zM14 28h1v1h-1z"/><path fill="#7aff00" d="M31 0h1v1h-1zM10 3h1v1h-1zM35 3h1v1h-1zM9 9h1v1h-1zM9 10h1v1h-1zM37 15h1v1h-1zM10 18h1v1h-1zM34 21h1v1h-1zM22 22h2v1h-2zM21 23h1v1h-1zM25 23h1v1h-1zM13 27h1v1h-1zM16 28h1v1h-1z"/><path fill="#8aff00" d="M12 1h1v1h-1zM18 1h1v1h-1zM36 5h1v1h-1zM9 6h1v1h-1zM9 7h1v1h-1zM9 8h1v1h-1zM37 13h1v1h-1zM37 14h1v1h-1zM10 16h1v1h-1zM10 17h1v1h-1zM36 18h1v1h-1zM22 21h1v1h-1zM21 22h1v1h-1zM24 22h1v1h-1zM33 22h1v1h-1zM11 23h1v1h-1zM32 23h1v1h-1zM20 24h1v1h-1zM27 24h1v1h-1zM30 24h1v1h-1zM15 28h1v1h-1z"/><path fill="#99ff00" d="M13 0h1v1h-1zM17 0h1v1h-1zM19 2h1v1h-1zM37 10h1v1h-1zM37 12h1v1h-1zM34 20h1v1h-1zM23 21h1v1h-1zM11 22h1v1h-1zM28 24h2v1h-2z"/><path fill="#a8ff00" d="M26 0h1v1h-1zM30 0h1v1h-1zM25 1h1v1h-1zM24 2h1v1h-1zM21 3h1v1h-1zM36 6h1v1h-1zM37 11h1v1h-1zM10 15h1v1h-1zM36 17h1v1h-1zM22 20h2v1h-2zM11 21h1v1h-1zM21 21h1v1h-1zM20 23h1v1h-1zM26 23h1v1h-1zM31 23h1v1h-1zM12 25h1v1h-1zM19 25h1v1h-1zM17 27h1v1h-1z"/><path fill="#b8ff00" d="M31 1h1v1h-1zM22 3h1v1h-1zM36 7h1v1h-1zM21 19h2v1h-2zM35 19h1v1h-1zM21 20h1v1h-1zM24 21h1v1h-1zM33 21h1v1h-1zM25 22h1v1h-1zM18 26h1v1h-1z"/><path fill="#c7ff00" d="M14 0h1v1h-1zM16 0h1v1h-1zM27 0h1v1h-1zM29 0h1v1h-1zM13 1h1v1h-1zM17 1h1v1h-1zM33 2h1v1h-1zM20 3h1v1h-1zM10 4h1v1h-1zM35 4h1v1h-1zM36 8h1v1h-1zM10 14h1v1h-1zM36 16h1v1h-1zM21 18h2v1h-2zM20 19h1v1h-1zM11 20h1v1h-1zM24 20h1v1h-1zM20 22h1v1h-1zM32 22h1v1h-1zM12 24h1v1h-1zM13 26h1v1h-1zM14 27h1v1h-1z"/><path fill="#d6ff00" d="M15 0h1v1h-1zM28 0h1v1h-1zM12 2h1v1h-1zM10 13h1v1h-1zM21 17h2v1h-2zM11 18h1v1h-1zM20 18h1v1h-1zM35 18h1v1h-1zM11 19h1v1h-1zM23 19h1v1h-1zM33 20h1v1h-1zM20 21h1v1h-1zM27 23h1v1h-1zM30 23h1v1h-1zM16 27h1v1h-1z"/><path fill="#e6ff00" d="M26 1h1v1h-1zM30 1h1v1h-1zM18 2h1v1h-1zM11 3h1v1h-1zM23 3h1v1h-1zM34 3h1v1h-1zM10 12h1v1h-1zM36 15h1v1h-1zM21 16h1v1h-1zM11 17h1v1h-1zM20 17h1v1h-1zM20 20h1v1h-1zM25 21h1v1h-1zM32 21h1v1h-1zM26 22h1v1h-1zM31 22h1v1h-1zM12 23h1v1h-1zM29 23h1v1h-1zM19 24h1v1h-1zM15 27h1v1h-1z"/><path fill="#f5ff00" d="M14 1h1v1h-1zM16 1h1v1h-1zM25 2h1v1h-1zM10 5h1v1h-1zM36 9h1v1h-1zM10 11h1v1h-1zM36 14h1v1h-1zM11 16h1v1h-1zM20 16h1v1h-1zM22 16h1v1h-1zM35 17h1v1h-1zM23 18h1v1h-1zM19 19h1v1h-1zM34 19h1v1h-1zM12 22h1v1h-1zM28 23h1v1h-1zM13 25h1v1h-1zM18 25h1v1h-1z"/><path fill="#fffa00" d="M15 1h1v1h-1zM27 1h3v1h-3zM32 2h1v1h-1zM19 3h1v1h-1zM35 5h1v1h-1zM10 6h1v1h-1zM10 7h1v1h-1zM10 8h1v1h-1zM10 9h1v1h-1zM10 10h1v1h-1zM36 13h1v1h-1zM11 15h1v1h-1zM21 15h1v1h-1zM23 17h1v1h-1zM19 18h1v1h-1zM25 20h1v1h-1zM32 20h1v1h-1zM19 22h1v1h-1zM19 23h1v1h-1zM17 26h1v1h-1z"/><path fill="#ffeb00" d="M35 6h1v1h-1zM36 10h1v1h-1zM36 11h1v1h-1zM36 12h1v1h-1zM11 14h1v1h-1zM21 14h1v1h-1zM20 15h1v1h-1zM22 15h1v1h-1zM35 16h1v1h-1zM19 17h1v1h-1zM34 18h1v1h-1zM24 19h1v1h-1zM12 21h1v1h-1zM19 21h1v1h-1zM26 21h1v1h-1zM31 21h1v1h-1zM27 22h1v1h-1zM30 22h1v1h-1zM13 24h1v1h-1zM14 26h1v1h-1z"/><path fill="#ffdb00" d="M13 2h1v1h-1zM17 2h1v1h-1zM24 3h1v1h-1zM33 3h1v1h-1zM21 4h1v1h-1zM34 4h1v1h-1zM35 7h1v1h-1zM21 13h1v1h-1zM23 16h1v1h-1zM12 19h1v1h-1zM12 20h1v1h-1zM18 24h1v1h-1zM16 26h1v1h-1z"/><path fill="#ffcc00" d="M26 2h1v1h-1zM31 2h1v1h-1zM20 4h1v1h-1zM22 4h1v1h-1zM21 8h1v1h-1zM35 8h1v1h-1zM21 12h1v1h-1zM11 13h1v1h-1zM20 13h1v1h-1zM22 13h1v1h-1zM20 14h1v1h-1zM22 14h1v1h-1zM19 16h1v1h-1zM12 17h1v1h-1zM12 18h1v1h-1zM24 18h1v1h-1zM18 19h1v1h-1zM33 19h1v1h-1zM19 20h1v1h-1zM26 20h1v1h-1zM31 20h1v1h-1zM28 22h2v1h-2zM13 23h1v1h-1zM18 23h1v1h-1zM14 25h1v1h-1zM17 25h1v1h-1zM15 26h1v1h-1z"/><path fill="#ffbd00" d="M14 2h1v1h-1zM11 4h1v1h-1zM20 12h1v1h-1zM22 12h1v1h-1zM23 15h1v1h-1zM35 15h1v1h-1zM12 16h1v1h-1zM34 17h1v1h-1zM27 21h1v1h-1zM30 21h1v1h-1z"/><path fill="#ffad00" d="M15 2h2v1h-2zM12 3h1v1h-1zM18 3h1v1h-1zM23 4h1v1h-1zM34 5h1v1h-1zM21 7h1v1h-1zM20 8h1v1h-1zM22 8h1v1h-1zM21 9h1v1h-1zM11 12h1v1h-1zM19 15h1v1h-1zM24 17h1v1h-1zM18 18h1v1h-1zM28 21h2v1h-2zM13 22h1v1h-1zM18 22h1v1h-1z"/><path fill="#ff9e00" d="M30 2h1v1h-1zM32 3h1v1h-1zM35 9h1v1h-1zM21 11h1v1h-1zM19 14h1v1h-1zM35 14h1v1h-1zM12 15h1v1h-1zM18 17h1v1h-1zM33 18h1v1h-1zM25 19h1v1h-1zM30 20h1v1h-1zM14 24h1v1h-1z"/><path fill="#ff8f00" d="M27 2h1v1h-1zM29 2h1v1h-1zM25 3h1v1h-1zM19 4h1v1h-1zM33 4h1v1h-1zM11 5h1v1h-1zM21 5h2v1h-2zM34 6h1v1h-1zM20 7h1v1h-1zM22 7h1v1h-1zM20 9h1v1h-1zM22 9h1v1h-1zM21 10h1v1h-1zM11 11h1v1h-1zM20 11h1v1h-1zM22 11h1v1h-1zM19 13h1v1h-1zM23 14h1v1h-1zM24 16h1v1h-1zM34 16h1v1h-1zM32 19h1v1h-1zM27 20h1v1h-1zM13 21h1v1h-1zM18 21h1v1h-1zM17 24h1v1h-1zM15 25h2v1h-2z"/><path fill="#ff8000" d="M28 2h1v1h-1zM11 6h1v1h-1zM21 6h1v1h-1zM11 7h1v1h-1zM11 8h1v1h-1zM11 9h1v1h-1zM11 10h1v1h-1zM19 12h1v1h-1zM23 13h1v1h-1zM35 13h1v1h-1zM18 16h1v1h-1zM13 19h1v1h-1zM13 20h1v1h-1zM18 20h1v1h-1zM28 20h2v1h-2zM14 23h1v1h-1zM17 23h1v1h-1z"/><path fill="#ff7000" d="M20 5h1v1h-1zM20 6h1v1h-1zM22 6h1v1h-1zM34 7h1v1h-1zM19 8h1v1h-1zM23 8h1v1h-1zM20 10h1v1h-1zM22 10h1v1h-1zM35 10h1v1h-1zM23 12h1v1h-1zM35 12h1v1h-1zM12 14h1v1h-1zM18 15h1v1h-1zM33 17h1v1h-1zM13 18h1v1h-1zM25 18h1v1h-1zM17 19h1v1h-1zM31 19h1v1h-1zM15 24h2v1h-2z"/><path fill="#ff6100" d="M13 3h1v1h-1zM31 3h1v1h-1zM35 11h1v1h-1zM24 15h1v1h-1zM13 17h1v1h-1zM17 18h1v1h-1zM32 18h1v1h-1zM14 22h1v1h-1zM17 22h1v1h-1z"/><path fill="#ff5200" d="M17 3h1v1h-1zM12 4h1v1h-1zM24 4h1v1h-1zM23 5h1v1h-1zM33 5h1v1h-1zM19 7h1v1h-1zM23 7h1v1h-1zM34 8h1v1h-1zM19 9h1v1h-1zM23 9h1v1h-1zM19 11h1v1h-1zM23 11h1v1h-1zM12 13h1v1h-1zM18 14h1v1h-1zM34 15h1v1h-1zM13 16h1v1h-1zM17 17h1v1h-1zM25 17h1v1h-1zM26 19h1v1h-1zM17 21h1v1h-1zM15 23h2v1h-2z"/><path fill="#ff4200" d="M32 4h1v1h-1zM23 6h1v1h-1zM18 13h1v1h-1zM33 16h1v1h-1zM30 19h1v1h-1zM17 20h1v1h-1zM14 21h1v1h-1z"/><path fill="#ff3300" d="M26 3h1v1h-1zM30 3h1v1h-1zM18 4h1v1h-1zM19 5h1v1h-1zM19 6h1v1h-1zM34 9h1v1h-1zM19 10h1v1h-1zM23 10h1v1h-1zM12 12h1v1h-1zM18 12h1v1h-1zM24 14h1v1h-1zM34 14h1v1h-1zM13 15h1v1h-1zM17 16h1v1h-1zM32 17h1v1h-1zM31 18h1v1h-1zM14 19h1v1h-1zM16 19h1v1h-1zM14 20h1v1h-1zM15 22h2v1h-2z"/><path fill="#ff2400" d="M14 3h1v1h-1zM16 3h1v1h-1zM12 5h1v1h-1zM33 6h1v1h-1zM24 13h1v1h-1zM17 15h1v1h-1zM25 16h1v1h-1zM26 18h1v1h-1zM27 19h1v1h-1zM29 19h1v1h-1z"/><path fill="#ff1400" d="M15 3h1v1h-1zM27 3h3v1h-3zM12 6h1v1h-1zM12 7h1v1h-1zM33 7h1v1h-1zM12 8h1v1h-1zM24 8h1v1h-1zM12 9h1v1h-1zM12 10h1v1h-1zM12 11h1v1h-1zM24 12h1v1h-1zM14 18h1v1h-1zM16 18h1v1h-1zM15 19h1v1h-1zM28 19h1v1h-1zM15 20h2v1h-2zM15 21h2v1h-2z"/><path fill="#ff0500" d="M25 4h1v1h-1zM24 5h1v1h-1zM24 7h1v1h-1zM24 9h1v1h-1zM34 10h1v1h-1zM13 14h1v1h-1zM17 14h1v1h-1zM25 15h1v1h-1zM33 15h1v1h-1zM14 16h1v1h-1zM16 16h1v1h-1zM32 16h1v1h-1zM14 17h1v1h-1zM16 17h1v1h-1zM15 18h1v1h-1zM30 18h1v1h-1z"/><path fill="#fa0101" d="M31 4h1v1h-1zM32 5h1v1h-1zM24 6h1v1h-1zM33 8h1v1h-1zM24 10h1v1h-1zM18 11h1v1h-1zM24 11h1v1h-1zM34 11h1v1h-1zM34 12h1v1h-1zM17 13h1v1h-1zM34 13h1v1h-1zM14 15h1v1h-1zM16 15h1v1h-1zM15 16h1v1h-1zM15 17h1v1h-1zM26 17h1v1h-1zM31 17h1v1h-1zM27 18h1v1h-1z"/><path fill="#f30202" d="M13 4h1v1h-1zM17 4h1v1h-1zM18 5h1v1h-1zM18 8h1v1h-1zM18 9h1v1h-1zM18 10h1v1h-1zM17 12h1v1h-1zM13 13h1v1h-1zM16 14h1v1h-1zM25 14h1v1h-1zM33 14h1v1h-1zM15 15h1v1h-1zM28 18h2v1h-2z"/><path fill="#ec0303" d="M18 6h1v1h-1zM32 6h1v1h-1zM18 7h1v1h-1zM32 7h1v1h-1zM32 8h1v1h-1zM33 9h1v1h-1zM13 12h1v1h-1zM25 13h1v1h-1zM14 14h2v1h-2zM32 15h1v1h-1zM26 16h1v1h-1zM31 16h1v1h-1zM30 17h1v1h-1z"/><path fill="#e50404" d="M26 4h1v1h-1zM25 8h1v1h-1zM13 11h1v1h-1zM25 12h1v1h-1zM16 13h1v1h-1zM27 17h1v1h-1zM29 17h1v1h-1z"/><path fill="#de0505" d="M14 4h1v1h-1zM16 4h1v1h-1zM30 4h1v1h-1zM13 5h1v1h-1zM25 5h1v1h-1zM13 6h1v1h-1zM13 7h1v1h-1zM25 7h1v1h-1zM13 8h1v1h-1zM13 9h1v1h-1zM25 9h1v1h-1zM13 10h1v1h-1zM33 10h1v1h-1zM17 11h1v1h-1zM16 12h1v1h-1zM14 13h2v1h-2zM33 13h1v1h-1zM26 15h1v1h-1zM30 16h1v1h-1zM28 17h1v1h-1z"/><path fill="#d70606" d="M15 4h1v1h-1zM27 4h1v1h-1zM29 4h1v1h-1zM17 5h1v1h-1zM31 5h1v1h-1zM25 6h1v1h-1zM32 9h1v1h-1zM25 10h1v1h-1zM25 11h1v1h-1zM33 11h1v1h-1zM14 12h2v1h-2zM33 12h1v1h-1zM32 14h1v1h-1zM31 15h1v1h-1zM27 16h1v1h-1z"/><path fill="#cf0707" d="M28 4h1v1h-1zM17 6h1v1h-1zM31 6h1v1h-1zM17 7h1v1h-1zM31 7h1v1h-1zM17 8h1v1h-1zM31 8h1v1h-1zM17 9h1v1h-1zM17 10h1v1h-1zM26 14h1v1h-1zM28 16h2v1h-2z"/><path fill="#c80808" d="M14 11h1v1h-1zM16 11h1v1h-1zM26 13h1v1h-1z"/><path fill="#c10909" d="M14 5h1v1h-1zM26 5h1v1h-1zM30 5h1v1h-1zM26 7h1v1h-1zM26 8h1v1h-1zM32 10h1v1h-1zM15 11h1v1h-1zM26 12h1v1h-1zM32 12h1v1h-1zM32 13h1v1h-1zM31 14h1v1h-1zM27 15h1v1h-1zM30 15h1v1h-1z"/><path fill="#ba0a0a" d="M16 5h1v1h-1zM14 6h1v1h-1zM26 6h1v1h-1zM30 6h1v1h-1zM14 7h1v1h-1zM14 8h1v1h-1zM16 8h1v1h-1zM14 9h1v1h-1zM16 9h1v1h-1zM31 9h1v1h-1zM14 10h1v1h-1zM16 10h1v1h-1zM32 11h1v1h-1zM27 14h1v1h-1zM28 15h2v1h-2z"/><path fill="#b30c0c" d="M15 5h1v1h-1zM16 6h1v1h-1zM15 7h2v1h-2zM30 7h1v1h-1zM15 8h1v1h-1zM30 8h1v1h-1zM15 9h1v1h-1zM26 9h1v1h-1zM15 10h1v1h-1zM31 12h1v1h-1zM27 13h1v1h-1zM31 13h1v1h-1zM30 14h1v1h-1z"/><path fill="#ac0d0d" d="M27 5h1v1h-1zM29 5h1v1h-1zM15 6h1v1h-1zM27 8h1v1h-1zM26 10h1v1h-1zM26 11h1v1h-1zM27 12h1v1h-1zM30 13h1v1h-1zM28 14h2v1h-2z"/><path fill="#a50e0e" d="M28 5h1v1h-1zM27 6h1v1h-1zM29 6h1v1h-1zM27 7h3v1h-3zM28 8h2v1h-2zM30 9h1v1h-1zM31 10h1v1h-1zM31 11h1v1h-1zM30 12h1v1h-1zM28 13h2v1h-2z"/><path fill="#9d0f0f" d="M28 6h1v1h-1zM27 9h1v1h-1zM28 12h2v1h-2z"/><path fill="#961010" d="M28 9h2v1h-2z"/><path fill="#8f1111" d="M27 10h1v1h-1zM30 10h1v1h-1zM27 11h1v1h-1zM30 11h1v1h-1z"/><path fill="#881212" d="M28 10h2v1h-2zM28 11h2v1h-2z"/></g>
</g>
<g stroke="#000" stroke-width="4.17" fill="none" stroke-dasharray="25 25">
<path d="M2007.1 2745.1V1704.3M2007.1 1704.3V1479.3"/>
<path d="M2321.3 2745.1V1704.3M2321.3 1704.3V1479.3"/>
<path d="M1657.1 2387.8H2677.8M2677.8 2387.8H2902.5"/>
<path d="M1657.1 2067.9H2677.8M2677.8 2067.9H2902.5"/>
<path d="M1657.1 2745.1L2677.8 1704.3"/>
</g>
<g clip-path="url(#t4)">
<polyline fill="none" stroke="#0000ff" stroke-width="6.0" stroke-linejoin="miter" stroke-miterlimit="10" points="1656.3,1685.4 1681.9,1682.7 1707.4,1676.6 1732.9,1669.2 1758.5,1660.9 1784,1650.9 1809.5,1640 1835,1626.9 1860.6,1607.7 1886.1,1587.7 1911.6,1567.2 1937.2,1548.4 1962.7,1531.4 1988.2,1516.2 2013.8,1504.8 2039.3,1498.3 2064.8,1499.1 2090.3,1506.6 2115.9,1519.2 2141.4,1534.5 2166.9,1548.9 2192.5,1558.5 2218,1561.5 2243.5,1558 2269.1,1549.7 2294.6,1539.7 2320.1,1528.8 2345.6,1520.5 2371.2,1515.7 2396.7,1516.2 2422.2,1520.5 2447.8,1526.6 2473.3,1534.9 2498.8,1545.4 2524.4,1558.5 2549.9,1573.7 2575.4,1590.3 2600.9,1606.4 2626.5,1622.6 2652,1636.5 2677.5,1645.7" />
<polyline fill="none" stroke="#000" stroke-width="6.6" stroke-linejoin="miter" stroke-miterlimit="10" points="1713.2,1685.8 1755.9,1679.7 1799.5,1671 1843.2,1657.5 1873.7,1644.9 1908.6,1626.1 1943.5,1601.2 1969.6,1582.5 1991.4,1570.7 2013.2,1564.6 2030.7,1562.4 2052.5,1562.9 2083,1565.9 2113.5,1567.7 2139.7,1565.9 2170.2,1559.8 2200.8,1549.8 2235.7,1533.2 2270.5,1515.8 2301.1,1504.9 2327.2,1499.2 2349,1497.9 2379.6,1500.5 2414.5,1506.6 2458.1,1514.5 2501.7,1520.6 2545.3,1524.5 2588.9,1526.2 2632.5,1526.2 2677.4,1525.4" />
</g>
<g clip-path="url(#s4)">
<polyline fill="none" stroke="#0000ff" stroke-width="6.0" stroke-linejoin="miter" stroke-miterlimit="10" points="2812.3,1705.1 2820.4,1731.1 2835.4,1757.1 2851.9,1783.2 2867.7,1809.2 2877.2,1835.2 2880,1861.3 2878.2,1887.3 2878.2,1913.3 2881.7,1939.4 2884.2,1965.4 2880,1991.4 2874,2017.4 2871.9,2043.5 2871.9,2069.5 2865.9,2095.5 2860,2121.6 2857.2,2147.6 2853.7,2173.6 2847.4,2199.7 2842.5,2225.7 2840.1,2251.7 2836.6,2277.7 2827.8,2303.8 2818.3,2329.8 2806.7,2355.8 2795.1,2381.9 2786.7,2407.9 2772.3,2433.9 2756.4,2460 2751.5,2486 2747.7,2512 2737.1,2538 2727.6,2564.1 2725.9,2590.1 2719.9,2616.1 2709.4,2642.2 2702,2668.2 2704.8,2694.2 2704.8,2720.3 2696.7,2746.3" />
<polyline fill="none" stroke="#000" stroke-width="6.6" stroke-linejoin="miter" stroke-miterlimit="10" points="2696.2,2687.9 2702.3,2644.3 2711,2599.9 2724.5,2555.4 2737.2,2524.3 2755.9,2488.7 2780.7,2453.1 2799.4,2426.4 2811.2,2404.2 2817.3,2382 2819.5,2364.2 2819,2341.9 2816,2310.8 2814.3,2279.7 2816,2253 2822.1,2221.9 2832.1,2190.7 2848.7,2155.2 2866.1,2119.6 2877,2088.5 2882.6,2061.8 2883.9,2039.5 2881.3,2008.4 2875.2,1972.8 2867.4,1928.4 2861.3,1883.9 2857.4,1839.4 2855.6,1794.9 2855.6,1750.5 2856.5,1704.7" />
</g>
<rect x="2345.1" y="2561.3" width="280.6" height="130.9" fill="#fff" fill-opacity="0.5" stroke="#000" stroke-opacity="0.5" stroke-width="4.17"/>
<text x="2605.3" y="2650.1" font-size="83.3" text-anchor="end">-40 fs</text>
<path stroke="#000" stroke-width="2.0" fill="none" shape-rendering="crispEdges" d="M1812.2 2745.1v-16.7M1812.2 1687.6v33.4M1812.2 1479.3v16.7M1657.1 2586.3h16.7M2661.1 2586.3h33.4M2902.5 2586.3h-16.7M2018.3 2745.1v-16.7M2018.3 1687.6v33.4M2018.3 1479.3v16.7M1657.1 2376.5h16.7M2661.1 2376.5h33.4M2902.5 2376.5h-16.7M2224.3 2745.1v-16.7M2224.3 1687.6v33.4M2224.3 1479.3v16.7M1657.1 2166.7h16.7M2661.1 2166.7h33.4M2902.5 2166.7h-16.7M2430.3 2745.1v-16.7M2430.3 1687.6v33.4M2430.3 1479.3v16.7M1657.1 1956.9h16.7M2661.1 1956.9h33.4M2902.5 1956.9h-16.7M2636.4 2745.1v-16.7M2636.4 1687.6v33.4M2636.4 1479.3v16.7M1657.1 1747.1h16.7M2661.1 1747.1h33.4M2902.5 1747.1h-16.7"/>
<g stroke="#000" stroke-width="4" fill="none" stroke-linecap="square" shape-rendering="crispEdges">
<rect x="1657.1" y="1479.3" width="1020.7" height="225"/>
<rect x="1657.1" y="1704.3" width="1020.7" height="1040.8"/>
<rect x="2677.8" y="1704.3" width="224.7" height="1040.8"/>
</g>
<text x="1810.3" y="2818.8" font-size="75" text-anchor="middle">1.7</text>
<text x="2016.7" y="2818.8" font-size="75" text-anchor="middle">1.8</text>
<text x="2223" y="2818.8" font-size="75" text-anchor="middle">1.9</text>
<text x="2430" y="2818.8" font-size="75" text-anchor="middle">2.0</text>
<text x="2636.9" y="2818.8" font-size="75" text-anchor="middle">2.1</text>
<g clip-path="url(#h5)">
<g transform="translate(2951.5 1692.1) scale(25.53 26.03)" shape-rendering="crispEdges"><path fill="#f0f0ff" d="M0 33h1v1h-1zM1 34h2v1h-2zM4 34h1v1h-1zM0 35h1v1h-1zM0 36h1v1h-1zM7 36h1v1h-1zM21 38h1v1h-1zM22 39h1v1h-1zM7 40h1v1h-1zM22 40h1v1h-1z"/><path fill="#e0e0ff" d="M0 29h1v1h-1zM1 33h1v1h-1zM37 35h1v1h-1zM3 36h1v1h-1zM6 36h1v1h-1zM36 36h1v1h-1zM0 37h1v1h-1zM21 37h1v1h-1zM4 38h1v1h-1zM2 39h1v1h-1z"/><path fill="#d1d1ff" d="M5 34h1v1h-1zM36 34h2v1h-2zM5 36h1v1h-1zM35 36h1v1h-1zM32 37h1v1h-1zM7 38h1v1h-1zM35 38h1v1h-1zM7 39h1v1h-1zM23 39h1v1h-1zM23 40h2v1h-2zM39 40h2v1h-2z"/><path fill="#c2c2ff" d="M0 28h2v1h-2zM1 29h1v1h-1zM1 30h1v1h-1zM1 31h2v1h-2zM40 31h1v1h-1zM1 32h3v1h-3zM2 33h2v1h-2zM38 33h1v1h-1zM1 35h2v1h-2zM5 35h2v1h-2zM36 35h1v1h-1zM1 36h1v1h-1zM21 36h1v1h-1zM34 36h1v1h-1zM1 37h2v1h-2zM8 37h1v1h-1zM22 37h1v1h-1zM0 38h1v1h-1zM2 38h2v1h-2zM8 38h1v1h-1zM22 38h1v1h-1zM32 38h3v1h-3zM8 39h1v1h-1zM24 39h1v1h-1zM25 40h1v1h-1zM32 40h1v1h-1z"/><path fill="#b2b2ff" d="M2 29h1v1h-1zM2 30h1v1h-1zM3 31h1v1h-1zM4 33h1v1h-1zM6 34h1v1h-1zM2 36h1v1h-1zM1 38h1v1h-1zM9 40h1v1h-1zM20 40h1v1h-1z"/><path fill="#a3a3ff" d="M0 27h3v1h-3zM2 28h1v1h-1zM3 29h1v1h-1zM3 30h1v1h-1zM4 31h1v1h-1zM39 31h1v1h-1zM4 32h1v1h-1zM39 32h1v1h-1zM5 33h1v1h-1zM7 35h1v1h-1zM35 35h1v1h-1zM8 36h1v1h-1zM22 36h1v1h-1zM33 36h1v1h-1zM20 37h1v1h-1zM20 38h1v1h-1zM31 38h1v1h-1zM9 39h1v1h-1zM20 39h1v1h-1zM25 39h1v1h-1zM34 39h1v1h-1zM38 40h1v1h-1z"/><path fill="#9494ff" d="M0 1h2v1h-2zM0 22h1v1h-1zM0 23h1v1h-1zM0 24h1v1h-1zM0 26h2v1h-2zM3 28h1v1h-1zM40 30h1v1h-1zM5 32h1v1h-1zM38 32h1v1h-1zM35 34h1v1h-1zM9 37h1v1h-1zM23 37h1v1h-1zM31 37h1v1h-1zM9 38h1v1h-1zM23 38h1v1h-1zM30 38h1v1h-1zM19 39h1v1h-1zM32 39h2v1h-2zM10 40h1v1h-1zM19 40h1v1h-1zM31 40h1v1h-1z"/><path fill="#8585ff" d="M0 0h1v1h-1zM0 2h1v1h-1zM0 19h1v1h-1zM0 20h2v1h-2zM0 21h2v1h-2zM1 22h1v1h-1zM1 23h1v1h-1zM1 24h1v1h-1zM0 25h2v1h-2zM2 26h1v1h-1zM3 27h1v1h-1zM4 29h1v1h-1zM40 29h1v1h-1zM4 30h1v1h-1zM39 30h1v1h-1zM5 31h1v1h-1zM38 31h1v1h-1zM6 33h1v1h-1zM37 33h1v1h-1zM7 34h1v1h-1zM8 35h1v1h-1zM34 35h1v1h-1zM9 36h1v1h-1zM20 36h1v1h-1zM23 36h1v1h-1zM32 36h1v1h-1zM19 38h1v1h-1zM29 38h1v1h-1zM10 39h1v1h-1zM26 39h6v1h-6zM11 40h1v1h-1zM26 40h2v1h-2zM30 40h1v1h-1z"/><path fill="#7575ff" d="M1 0h1v1h-1zM0 17h1v1h-1zM0 18h1v1h-1zM1 19h1v1h-1zM4 28h1v1h-1zM40 28h1v1h-1zM6 32h1v1h-1zM37 32h1v1h-1zM34 34h1v1h-1zM21 35h2v1h-2zM19 37h1v1h-1zM30 37h1v1h-1zM10 38h1v1h-1zM24 38h1v1h-1zM28 38h1v1h-1zM11 39h1v1h-1zM12 40h1v1h-1zM28 40h2v1h-2z"/><path fill="#6666ff" d="M2 1h1v1h-1zM1 2h1v1h-1zM0 3h1v1h-1zM0 4h1v1h-1zM0 16h1v1h-1zM1 18h1v1h-1zM2 22h1v1h-1zM2 23h1v1h-1zM2 24h1v1h-1zM2 25h1v1h-1zM3 26h1v1h-1zM5 29h1v1h-1zM39 29h1v1h-1zM5 30h1v1h-1zM38 30h1v1h-1zM6 31h1v1h-1zM37 31h1v1h-1zM7 33h1v1h-1zM36 33h1v1h-1zM8 34h1v1h-1zM33 34h1v1h-1zM9 35h1v1h-1zM23 35h1v1h-1zM33 35h1v1h-1zM31 36h1v1h-1zM10 37h1v1h-1zM24 37h1v1h-1zM29 37h1v1h-1zM18 38h1v1h-1zM25 38h3v1h-3zM12 39h1v1h-1zM18 39h1v1h-1zM13 40h6v1h-6z"/><path fill="#5757ff" d="M2 0h1v1h-1zM0 12h1v1h-1zM0 13h1v1h-1zM0 14h1v1h-1zM0 15h1v1h-1zM1 17h1v1h-1zM2 20h1v1h-1zM2 21h1v1h-1zM4 27h1v1h-1zM40 27h1v1h-1zM5 28h1v1h-1zM39 28h1v1h-1zM36 32h1v1h-1zM20 35h1v1h-1zM32 35h1v1h-1zM10 36h1v1h-1zM19 36h1v1h-1zM24 36h1v1h-1zM25 37h4v1h-4z"/><path fill="#4747ff" d="M1 3h1v1h-1zM0 5h1v1h-1zM0 6h1v1h-1zM0 7h1v1h-1zM0 8h1v1h-1zM0 9h1v1h-1zM0 10h1v1h-1zM0 11h1v1h-1zM1 12h1v1h-1zM1 13h1v1h-1zM1 14h1v1h-1zM1 15h1v1h-1zM1 16h1v1h-1zM2 19h1v1h-1zM3 23h1v1h-1zM3 24h1v1h-1zM3 25h1v1h-1zM38 29h1v1h-1zM6 30h1v1h-1zM37 30h1v1h-1zM36 31h1v1h-1zM7 32h1v1h-1zM8 33h1v1h-1zM35 33h1v1h-1zM32 34h1v1h-1zM24 35h1v1h-1zM25 36h1v1h-1zM30 36h1v1h-1zM11 37h1v1h-1zM18 37h1v1h-1zM11 38h1v1h-1zM13 39h1v1h-1zM17 39h1v1h-1z"/><path fill="#3838ff" d="M3 0h1v1h-1zM3 1h1v1h-1zM2 2h1v1h-1zM1 4h1v1h-1zM1 5h1v1h-1zM1 6h1v1h-1zM1 7h1v1h-1zM1 8h1v1h-1zM1 9h1v1h-1zM1 10h1v1h-1zM1 11h1v1h-1zM2 18h1v1h-1zM3 22h1v1h-1zM4 26h1v1h-1zM7 31h1v1h-1zM35 32h1v1h-1zM9 34h1v1h-1zM21 34h2v1h-2zM31 34h1v1h-1zM10 35h1v1h-1zM31 35h1v1h-1zM26 36h1v1h-1zM29 36h1v1h-1zM14 39h1v1h-1z"/><path fill="#2929ff" d="M2 3h1v1h-1zM2 17h1v1h-1zM3 19h1v1h-1zM3 20h1v1h-1zM3 21h1v1h-1zM4 25h1v1h-1zM40 26h1v1h-1zM5 27h1v1h-1zM39 27h1v1h-1zM38 28h1v1h-1zM6 29h1v1h-1zM37 29h1v1h-1zM36 30h1v1h-1zM35 31h1v1h-1zM8 32h1v1h-1zM21 33h4v1h-4zM34 33h1v1h-1zM20 34h1v1h-1zM23 34h1v1h-1zM30 34h1v1h-1zM19 35h1v1h-1zM30 35h1v1h-1zM11 36h1v1h-1zM18 36h1v1h-1zM27 36h2v1h-2zM12 37h1v1h-1zM12 38h1v1h-1zM17 38h1v1h-1zM15 39h2v1h-2z"/><path fill="#1a1aff" d="M40 0h1v1h-1zM4 1h1v1h-1zM2 12h1v1h-1zM2 13h1v1h-1zM2 14h1v1h-1zM2 15h1v1h-1zM2 16h1v1h-1zM3 18h1v1h-1zM4 24h1v1h-1zM6 28h1v1h-1zM22 32h2v1h-2zM34 32h1v1h-1zM9 33h1v1h-1zM25 33h1v1h-1zM33 33h1v1h-1zM24 34h1v1h-1zM29 34h1v1h-1zM25 35h1v1h-1zM29 35h1v1h-1z"/><path fill="#0a0aff" d="M4 0h1v1h-1zM40 1h1v1h-1zM3 2h1v1h-1zM2 4h1v1h-1zM2 5h1v1h-1zM2 6h1v1h-1zM2 7h1v1h-1zM2 8h1v1h-1zM2 9h1v1h-1zM2 10h1v1h-1zM2 11h1v1h-1zM3 17h1v1h-1zM4 21h1v1h-1zM4 22h1v1h-1zM4 23h1v1h-1zM40 25h1v1h-1zM5 26h1v1h-1zM37 28h1v1h-1zM36 29h1v1h-1zM7 30h1v1h-1zM35 30h1v1h-1zM8 31h1v1h-1zM22 31h2v1h-2zM34 31h1v1h-1zM21 32h1v1h-1zM24 32h2v1h-2zM33 32h1v1h-1zM20 33h1v1h-1zM26 33h1v1h-1zM32 33h1v1h-1zM10 34h1v1h-1zM25 34h1v1h-1zM28 34h1v1h-1zM11 35h1v1h-1zM28 35h1v1h-1zM12 36h1v1h-1zM13 37h1v1h-1zM17 37h1v1h-1zM13 38h1v1h-1z"/><path fill="#0005ff" d="M39 0h1v1h-1zM5 1h1v1h-1zM4 2h1v1h-1zM3 3h1v1h-1zM3 14h1v1h-1zM3 15h1v1h-1zM3 16h1v1h-1zM4 19h1v1h-1zM4 20h1v1h-1zM5 25h1v1h-1zM6 27h1v1h-1zM7 29h1v1h-1zM21 31h1v1h-1zM24 31h1v1h-1zM9 32h1v1h-1zM31 33h1v1h-1zM19 34h1v1h-1zM27 34h1v1h-1zM18 35h1v1h-1zM26 35h2v1h-2zM17 36h1v1h-1zM16 37h1v1h-1zM14 38h3v1h-3z"/><path fill="#0014ff" d="M5 0h1v1h-1zM3 4h1v1h-1zM3 12h1v1h-1zM3 13h1v1h-1zM4 18h1v1h-1zM5 23h1v1h-1zM5 24h1v1h-1zM38 27h1v1h-1zM7 28h1v1h-1zM8 30h1v1h-1zM33 31h1v1h-1zM20 32h1v1h-1zM32 32h1v1h-1zM10 33h1v1h-1zM27 33h1v1h-1zM30 33h1v1h-1zM11 34h1v1h-1zM12 35h1v1h-1zM13 36h1v1h-1zM16 36h1v1h-1zM14 37h2v1h-2z"/><path fill="#0024ff" d="M39 1h1v1h-1zM40 2h1v1h-1zM3 5h1v1h-1zM3 6h1v1h-1zM3 7h1v1h-1zM3 8h1v1h-1zM3 9h1v1h-1zM3 10h1v1h-1zM3 11h1v1h-1zM4 17h1v1h-1zM5 22h1v1h-1zM40 24h1v1h-1zM6 26h1v1h-1zM39 26h1v1h-1zM35 29h1v1h-1zM21 30h4v1h-4zM34 30h1v1h-1zM9 31h1v1h-1zM20 31h1v1h-1zM25 31h1v1h-1zM26 32h1v1h-1zM19 33h1v1h-1zM28 33h2v1h-2zM26 34h1v1h-1zM13 35h1v1h-1zM17 35h1v1h-1zM14 36h2v1h-2z"/><path fill="#0033ff" d="M4 3h1v1h-1zM40 5h1v1h-1zM4 16h1v1h-1zM5 20h1v1h-1zM5 21h1v1h-1zM40 21h1v1h-1zM40 22h1v1h-1zM40 23h1v1h-1zM6 25h1v1h-1zM36 28h1v1h-1zM8 29h1v1h-1zM10 32h1v1h-1zM31 32h1v1h-1zM18 34h1v1h-1z"/><path fill="#0042ff" d="M38 0h1v1h-1zM5 2h1v1h-1zM40 3h1v1h-1zM40 4h1v1h-1zM4 14h1v1h-1zM4 15h1v1h-1zM5 19h1v1h-1zM40 19h1v1h-1zM40 20h1v1h-1zM7 27h1v1h-1zM37 27h1v1h-1zM25 30h1v1h-1zM26 31h1v1h-1zM32 31h1v1h-1zM19 32h1v1h-1zM27 32h1v1h-1zM30 32h1v1h-1zM11 33h1v1h-1zM12 34h1v1h-1zM16 35h1v1h-1z"/><path fill="#0052ff" d="M6 0h1v1h-1zM6 1h1v1h-1zM4 4h1v1h-1zM40 6h1v1h-1zM40 7h1v1h-1zM40 8h1v1h-1zM4 12h1v1h-1zM4 13h1v1h-1zM5 18h1v1h-1zM6 23h1v1h-1zM6 24h1v1h-1zM9 30h1v1h-1zM33 30h1v1h-1zM28 32h2v1h-2zM14 35h2v1h-2z"/><path fill="#0061ff" d="M38 1h1v1h-1zM39 2h1v1h-1zM4 5h1v1h-1zM4 6h1v1h-1zM4 7h1v1h-1zM4 8h1v1h-1zM4 9h1v1h-1zM40 9h1v1h-1zM4 10h1v1h-1zM4 11h1v1h-1zM40 18h1v1h-1zM6 22h1v1h-1zM39 25h1v1h-1zM7 26h1v1h-1zM8 28h1v1h-1zM34 29h1v1h-1zM20 30h1v1h-1zM10 31h1v1h-1zM31 31h1v1h-1zM18 33h1v1h-1zM17 34h1v1h-1z"/><path fill="#0070ff" d="M40 10h1v1h-1zM5 17h1v1h-1zM6 21h1v1h-1zM39 23h1v1h-1zM39 24h1v1h-1zM35 28h1v1h-1zM22 29h2v1h-2zM19 31h1v1h-1zM11 32h1v1h-1zM12 33h1v1h-1zM13 34h1v1h-1z"/><path fill="#0080ff" d="M37 0h1v1h-1zM5 3h1v1h-1zM40 11h1v1h-1zM5 15h1v1h-1zM5 16h1v1h-1zM6 20h1v1h-1zM39 22h1v1h-1zM7 25h1v1h-1zM38 26h1v1h-1zM9 29h1v1h-1zM21 29h1v1h-1zM24 29h1v1h-1zM26 30h1v1h-1zM32 30h1v1h-1zM27 31h1v1h-1zM30 31h1v1h-1zM18 32h1v1h-1z"/><path fill="#008fff" d="M6 2h1v1h-1zM40 12h1v1h-1zM5 14h1v1h-1zM40 17h1v1h-1zM6 19h1v1h-1zM39 20h1v1h-1zM39 21h1v1h-1zM8 27h1v1h-1zM36 27h1v1h-1zM33 29h1v1h-1zM16 34h1v1h-1z"/><path fill="#009eff" d="M7 0h1v1h-1zM7 1h1v1h-1zM37 1h1v1h-1zM39 3h1v1h-1zM5 4h1v1h-1zM39 5h1v1h-1zM5 12h1v1h-1zM5 13h1v1h-1zM40 13h1v1h-1zM6 18h1v1h-1zM39 19h1v1h-1zM7 24h1v1h-1zM10 30h1v1h-1zM28 31h2v1h-2zM13 33h1v1h-1zM17 33h1v1h-1zM14 34h2v1h-2z"/><path fill="#00adff" d="M38 2h1v1h-1zM39 4h1v1h-1zM5 5h1v1h-1zM5 6h1v1h-1zM5 7h1v1h-1zM5 8h1v1h-1zM5 9h1v1h-1zM5 10h1v1h-1zM5 11h1v1h-1zM40 16h1v1h-1zM6 17h1v1h-1zM7 23h1v1h-1zM9 28h1v1h-1zM34 28h1v1h-1zM25 29h1v1h-1zM19 30h1v1h-1zM31 30h1v1h-1zM11 31h1v1h-1zM12 32h1v1h-1z"/><path fill="#00bdff" d="M36 0h1v1h-1zM39 6h1v1h-1zM39 7h1v1h-1zM39 8h1v1h-1zM6 16h1v1h-1zM39 18h1v1h-1zM7 22h1v1h-1zM38 25h1v1h-1zM8 26h1v1h-1zM20 29h1v1h-1zM32 29h1v1h-1zM27 30h1v1h-1zM16 33h1v1h-1z"/><path fill="#00ccff" d="M7 2h1v1h-1zM6 3h1v1h-1zM39 9h1v1h-1zM40 14h1v1h-1zM40 15h1v1h-1zM7 20h1v1h-1zM7 21h1v1h-1zM37 26h1v1h-1zM30 30h1v1h-1zM18 31h1v1h-1zM17 32h1v1h-1zM14 33h1v1h-1z"/><path fill="#00dbff" d="M36 1h1v1h-1zM39 10h1v1h-1zM6 14h1v1h-1zM6 15h1v1h-1zM39 17h1v1h-1zM38 24h1v1h-1zM8 25h1v1h-1zM35 27h1v1h-1zM33 28h1v1h-1zM10 29h1v1h-1zM26 29h1v1h-1zM28 30h2v1h-2zM13 32h1v1h-1zM15 33h1v1h-1z"/><path fill="#00ebff" d="M6 12h1v1h-1zM6 13h1v1h-1zM7 19h1v1h-1zM38 21h1v1h-1zM38 22h1v1h-1zM38 23h1v1h-1zM8 24h1v1h-1zM9 27h1v1h-1zM31 29h1v1h-1z"/><path fill="#00faff" d="M8 0h1v1h-1zM35 0h1v1h-1zM8 1h1v1h-1zM37 2h1v1h-1zM38 3h1v1h-1zM6 4h1v1h-1zM38 5h1v1h-1zM6 10h1v1h-1zM6 11h1v1h-1zM39 11h1v1h-1zM39 16h1v1h-1zM7 18h1v1h-1zM38 19h1v1h-1zM38 20h1v1h-1zM22 28h2v1h-2zM11 30h1v1h-1zM12 31h1v1h-1zM16 32h1v1h-1z"/><path fill="#00fff5" d="M38 4h1v1h-1zM6 5h1v1h-1zM6 6h1v1h-1zM38 6h1v1h-1zM6 7h1v1h-1zM38 7h1v1h-1zM6 8h1v1h-1zM38 8h1v1h-1zM6 9h1v1h-1zM39 12h1v1h-1zM39 13h1v1h-1zM8 23h1v1h-1zM36 26h1v1h-1zM34 27h1v1h-1zM10 28h1v1h-1zM21 28h1v1h-1zM32 28h1v1h-1zM19 29h1v1h-1zM27 29h1v1h-1zM30 29h1v1h-1zM18 30h1v1h-1zM14 32h2v1h-2z"/><path fill="#00ffe6" d="M39 14h1v1h-1zM39 15h1v1h-1zM7 17h1v1h-1zM38 18h1v1h-1zM8 22h1v1h-1zM24 28h1v1h-1zM29 29h1v1h-1zM17 31h1v1h-1z"/><path fill="#00ffd6" d="M35 1h1v1h-1zM7 3h1v1h-1zM38 9h1v1h-1zM7 16h1v1h-1zM8 21h1v1h-1zM37 25h1v1h-1zM9 26h1v1h-1zM28 29h1v1h-1z"/><path fill="#00ffc7" d="M8 2h1v1h-1zM38 10h1v1h-1zM8 20h1v1h-1zM31 28h1v1h-1zM13 31h1v1h-1z"/><path fill="#00ffb8" d="M9 0h1v1h-1zM34 0h1v1h-1zM7 13h1v1h-1zM7 14h1v1h-1zM7 15h1v1h-1zM38 17h1v1h-1zM37 24h1v1h-1zM33 27h1v1h-1zM20 28h1v1h-1zM25 28h1v1h-1zM11 29h1v1h-1z"/><path fill="#00ffa8" d="M36 2h1v1h-1zM7 4h1v1h-1zM7 11h1v1h-1zM38 11h1v1h-1zM7 12h1v1h-1zM8 19h1v1h-1zM37 23h1v1h-1zM9 25h1v1h-1zM35 26h1v1h-1zM12 30h1v1h-1z"/><path fill="#00ff99" d="M9 1h1v1h-1zM37 3h1v1h-1zM7 5h1v1h-1zM7 6h1v1h-1zM7 7h1v1h-1zM7 8h1v1h-1zM7 9h1v1h-1zM7 10h1v1h-1zM38 16h1v1h-1zM37 21h1v1h-1zM37 22h1v1h-1zM22 27h1v1h-1zM26 28h1v1h-1zM30 28h1v1h-1zM16 31h1v1h-1z"/><path fill="#00ff8a" d="M38 12h1v1h-1zM8 18h1v1h-1zM37 20h1v1h-1zM23 27h1v1h-1zM32 27h1v1h-1zM29 28h1v1h-1zM17 30h1v1h-1zM14 31h1v1h-1z"/><path fill="#00ff7a" d="M33 0h1v1h-1zM34 1h1v1h-1zM37 5h1v1h-1zM37 6h1v1h-1zM37 7h1v1h-1zM37 8h1v1h-1zM38 13h1v1h-1zM8 17h1v1h-1zM37 19h1v1h-1zM9 24h1v1h-1zM36 25h1v1h-1zM10 27h1v1h-1zM21 27h1v1h-1zM11 28h1v1h-1zM27 28h2v1h-2zM18 29h1v1h-1zM15 31h1v1h-1z"/><path fill="#00ff6b" d="M10 0h1v1h-1zM9 2h1v1h-1zM8 3h1v1h-1zM38 14h1v1h-1zM38 15h1v1h-1zM9 23h1v1h-1zM34 26h1v1h-1zM24 27h1v1h-1zM19 28h1v1h-1z"/><path fill="#00ff5c" d="M37 4h1v1h-1zM8 16h1v1h-1zM37 18h1v1h-1zM9 21h1v1h-1zM9 22h1v1h-1zM31 27h1v1h-1zM13 30h1v1h-1z"/><path fill="#00ff4c" d="M37 9h1v1h-1zM9 20h1v1h-1zM36 24h1v1h-1zM10 26h1v1h-1zM20 27h1v1h-1zM25 27h1v1h-1zM12 29h1v1h-1z"/><path fill="#00ff3d" d="M32 0h1v1h-1zM10 1h1v1h-1zM35 2h1v1h-1zM8 14h1v1h-1zM8 15h1v1h-1zM36 23h1v1h-1zM35 25h1v1h-1zM33 26h1v1h-1zM30 27h1v1h-1zM16 30h1v1h-1z"/><path fill="#00ff2e" d="M11 0h1v1h-1zM33 1h1v1h-1zM8 4h1v1h-1zM8 12h1v1h-1zM8 13h1v1h-1zM37 17h1v1h-1zM22 26h1v1h-1zM26 27h1v1h-1zM14 30h2v1h-2z"/><path fill="#00ff1f" d="M36 3h1v1h-1zM8 9h1v1h-1zM8 10h1v1h-1zM37 10h1v1h-1zM8 11h1v1h-1zM9 19h1v1h-1zM36 21h1v1h-1zM36 22h1v1h-1zM10 25h1v1h-1zM21 26h1v1h-1zM23 26h1v1h-1zM11 27h1v1h-1zM27 27h3v1h-3zM18 28h1v1h-1zM17 29h1v1h-1z"/><path fill="#00ff0f" d="M8 5h1v1h-1zM8 6h1v1h-1zM8 7h1v1h-1zM8 8h1v1h-1zM37 16h1v1h-1zM9 18h1v1h-1zM36 20h1v1h-1zM24 26h1v1h-1zM32 26h1v1h-1zM19 27h1v1h-1zM12 28h1v1h-1z"/><path fill="#00ff00" d="M12 0h1v1h-1zM19 0h5v1h-5zM31 0h1v1h-1zM21 1h2v1h-2zM10 2h1v1h-1zM9 3h1v1h-1zM36 5h1v1h-1zM37 11h1v1h-1zM9 17h1v1h-1zM36 19h1v1h-1zM10 23h1v1h-1zM10 24h1v1h-1zM35 24h1v1h-1zM22 25h1v1h-1zM34 25h1v1h-1zM20 26h1v1h-1zM13 29h1v1h-1z"/><path fill="#0fff00" d="M18 0h1v1h-1zM20 1h1v1h-1zM37 12h1v1h-1zM37 15h1v1h-1zM9 16h1v1h-1zM10 22h1v1h-1zM21 25h1v1h-1zM23 25h1v1h-1zM11 26h1v1h-1zM25 26h1v1h-1zM31 26h1v1h-1zM16 29h1v1h-1z"/><path fill="#1fff00" d="M13 0h1v1h-1zM24 0h1v1h-1zM23 1h1v1h-1zM36 4h1v1h-1zM36 6h1v1h-1zM36 7h1v1h-1zM36 8h1v1h-1zM37 13h1v1h-1zM37 14h1v1h-1zM36 18h1v1h-1zM10 20h1v1h-1zM10 21h1v1h-1zM35 23h1v1h-1zM20 25h1v1h-1zM33 25h1v1h-1zM17 28h1v1h-1zM14 29h2v1h-2z"/><path fill="#2eff00" d="M17 0h1v1h-1zM30 0h1v1h-1zM11 1h1v1h-1zM32 1h1v1h-1zM34 2h1v1h-1zM35 22h1v1h-1zM21 24h2v1h-2zM34 24h1v1h-1zM11 25h1v1h-1zM24 25h1v1h-1zM19 26h1v1h-1zM26 26h1v1h-1zM30 26h1v1h-1zM12 27h1v1h-1zM18 27h1v1h-1zM13 28h1v1h-1z"/><path fill="#3dff00" d="M25 0h1v1h-1zM19 1h1v1h-1zM36 9h1v1h-1zM9 15h1v1h-1zM36 17h1v1h-1zM10 19h1v1h-1zM35 21h1v1h-1zM21 23h1v1h-1zM20 24h1v1h-1zM23 24h1v1h-1zM27 26h1v1h-1zM29 26h1v1h-1z"/><path fill="#4dff00" d="M14 0h1v1h-1zM16 0h1v1h-1zM29 0h1v1h-1zM35 3h1v1h-1zM9 4h1v1h-1zM35 20h1v1h-1zM21 22h1v1h-1zM20 23h1v1h-1zM22 23h1v1h-1zM34 23h1v1h-1zM11 24h1v1h-1zM19 25h1v1h-1zM25 25h1v1h-1zM32 25h1v1h-1zM28 26h1v1h-1zM16 28h1v1h-1z"/><path fill="#5cff00" d="M15 0h1v1h-1zM26 0h1v1h-1zM24 1h1v1h-1zM36 16h1v1h-1zM10 18h1v1h-1zM35 19h1v1h-1zM22 22h1v1h-1zM11 23h1v1h-1zM23 23h1v1h-1zM12 26h1v1h-1zM18 26h1v1h-1zM14 28h1v1h-1z"/><path fill="#6bff00" d="M27 0h2v1h-2zM12 1h1v1h-1zM11 2h1v1h-1zM20 2h3v1h-3zM9 9h1v1h-1zM9 10h1v1h-1zM36 10h1v1h-1zM9 11h1v1h-1zM9 12h1v1h-1zM9 13h1v1h-1zM9 14h1v1h-1zM10 17h1v1h-1zM11 21h1v1h-1zM21 21h2v1h-2zM11 22h1v1h-1zM20 22h1v1h-1zM34 22h1v1h-1zM19 24h1v1h-1zM24 24h1v1h-1zM33 24h1v1h-1zM31 25h1v1h-1zM13 27h1v1h-1zM17 27h1v1h-1zM15 28h1v1h-1z"/><path fill="#7aff00" d="M18 1h1v1h-1zM31 1h1v1h-1zM33 2h1v1h-1zM9 5h1v1h-1zM35 5h1v1h-1zM9 6h1v1h-1zM9 7h1v1h-1zM9 8h1v1h-1zM35 18h1v1h-1zM11 20h1v1h-1zM20 21h1v1h-1zM34 21h1v1h-1zM23 22h1v1h-1zM19 23h1v1h-1zM12 25h1v1h-1zM26 25h1v1h-1z"/><path fill="#8aff00" d="M10 3h1v1h-1zM35 4h1v1h-1zM35 8h1v1h-1zM36 11h1v1h-1zM36 15h1v1h-1zM10 16h1v1h-1zM21 19h1v1h-1zM21 20h2v1h-2zM19 22h1v1h-1zM33 23h1v1h-1zM18 25h1v1h-1zM30 25h1v1h-1z"/><path fill="#99ff00" d="M13 1h1v1h-1zM19 2h1v1h-1zM35 7h1v1h-1zM36 12h1v1h-1zM36 13h1v1h-1zM36 14h1v1h-1zM21 18h1v1h-1zM20 19h1v1h-1zM22 19h1v1h-1zM20 20h1v1h-1zM34 20h1v1h-1zM23 21h1v1h-1zM24 23h1v1h-1zM25 24h1v1h-1zM32 24h1v1h-1zM16 27h1v1h-1z"/><path fill="#a8ff00" d="M17 1h1v1h-1zM25 1h1v1h-1zM30 1h1v1h-1zM23 2h1v1h-1zM34 3h1v1h-1zM35 6h1v1h-1zM35 17h1v1h-1zM20 18h1v1h-1zM11 19h1v1h-1zM34 19h1v1h-1zM23 20h1v1h-1zM19 21h1v1h-1zM33 22h1v1h-1zM12 24h1v1h-1zM18 24h1v1h-1zM27 25h1v1h-1zM29 25h1v1h-1zM13 26h1v1h-1zM17 26h1v1h-1zM14 27h2v1h-2z"/><path fill="#b8ff00" d="M35 9h1v1h-1zM20 17h2v1h-2zM11 18h1v1h-1zM22 18h1v1h-1zM33 21h1v1h-1zM24 22h1v1h-1zM12 23h1v1h-1zM18 23h1v1h-1zM32 23h1v1h-1zM28 25h1v1h-1z"/><path fill="#c7ff00" d="M14 1h1v1h-1zM16 1h1v1h-1zM12 2h1v1h-1zM18 2h1v1h-1zM32 2h1v1h-1zM10 15h1v1h-1zM20 16h2v1h-2zM35 16h1v1h-1zM22 17h1v1h-1zM34 18h1v1h-1zM19 19h1v1h-1zM23 19h1v1h-1zM19 20h1v1h-1zM24 21h1v1h-1zM12 22h1v1h-1zM18 22h1v1h-1zM25 23h1v1h-1zM26 24h1v1h-1zM31 24h1v1h-1zM17 25h1v1h-1z"/><path fill="#d6ff00" d="M15 1h1v1h-1zM26 1h1v1h-1zM29 1h1v1h-1zM10 4h1v1h-1zM10 14h1v1h-1zM11 17h1v1h-1zM19 18h1v1h-1zM12 20h1v1h-1zM24 20h1v1h-1zM33 20h1v1h-1zM12 21h1v1h-1zM32 22h1v1h-1zM13 25h1v1h-1z"/><path fill="#e6ff00" d="M24 2h1v1h-1zM21 3h1v1h-1zM10 13h1v1h-1zM35 15h1v1h-1zM11 16h1v1h-1zM22 16h1v1h-1zM19 17h1v1h-1zM23 18h1v1h-1zM18 21h1v1h-1zM31 23h1v1h-1zM17 24h1v1h-1zM30 24h1v1h-1zM14 26h1v1h-1zM16 26h1v1h-1z"/><path fill="#f5ff00" d="M17 2h1v1h-1zM11 3h1v1h-1zM20 3h1v1h-1zM22 3h1v1h-1zM34 4h1v1h-1zM35 10h1v1h-1zM10 12h1v1h-1zM20 15h2v1h-2zM19 16h1v1h-1zM34 17h1v1h-1zM33 19h1v1h-1zM32 21h1v1h-1zM25 22h1v1h-1zM17 23h1v1h-1zM26 23h1v1h-1zM13 24h1v1h-1zM27 24h1v1h-1z"/><path fill="#fffa00" d="M27 1h2v1h-2zM31 2h1v1h-1zM33 3h1v1h-1zM10 5h1v1h-1zM34 8h1v1h-1zM10 11h1v1h-1zM35 12h1v1h-1zM35 14h1v1h-1zM23 17h1v1h-1zM12 19h1v1h-1zM18 19h1v1h-1zM18 20h1v1h-1zM17 22h1v1h-1zM31 22h1v1h-1zM13 23h1v1h-1zM15 26h1v1h-1z"/><path fill="#ffeb00" d="M13 2h1v1h-1zM19 3h1v1h-1zM34 5h1v1h-1zM34 6h1v1h-1zM34 7h1v1h-1zM10 9h1v1h-1zM10 10h1v1h-1zM35 11h1v1h-1zM35 13h1v1h-1zM20 14h1v1h-1zM11 15h1v1h-1zM19 15h1v1h-1zM22 15h1v1h-1zM34 16h1v1h-1zM12 18h1v1h-1zM18 18h1v1h-1zM24 19h1v1h-1zM25 21h1v1h-1zM13 22h1v1h-1zM30 23h1v1h-1zM28 24h2v1h-2zM14 25h1v1h-1zM16 25h1v1h-1z"/><path fill="#ffdb00" d="M16 2h1v1h-1zM25 2h1v1h-1zM23 3h1v1h-1zM10 6h1v1h-1zM10 7h1v1h-1zM10 8h1v1h-1zM21 14h1v1h-1zM23 16h1v1h-1zM18 17h1v1h-1zM33 18h1v1h-1zM25 20h1v1h-1zM32 20h1v1h-1zM13 21h1v1h-1zM17 21h1v1h-1zM14 24h1v1h-1zM16 24h1v1h-1z"/><path fill="#ffcc00" d="M14 2h1v1h-1zM30 2h1v1h-1zM32 3h1v1h-1zM34 9h1v1h-1zM20 13h2v1h-2zM11 14h1v1h-1zM19 14h1v1h-1zM18 16h1v1h-1zM12 17h1v1h-1zM24 18h1v1h-1zM32 19h1v1h-1zM13 20h1v1h-1zM31 21h1v1h-1zM14 22h1v1h-1zM16 22h1v1h-1zM26 22h1v1h-1zM30 22h1v1h-1zM14 23h3v1h-3zM27 23h1v1h-1zM15 24h1v1h-1zM15 25h1v1h-1z"/><path fill="#ffbd00" d="M15 2h1v1h-1zM21 12h1v1h-1zM22 14h1v1h-1zM34 15h1v1h-1zM12 16h1v1h-1zM33 17h1v1h-1zM17 19h1v1h-1zM17 20h1v1h-1zM15 22h1v1h-1zM28 23h2v1h-2z"/><path fill="#ffad00" d="M26 2h1v1h-1zM12 3h1v1h-1zM18 3h1v1h-1zM11 4h1v1h-1zM33 4h1v1h-1zM34 10h1v1h-1zM20 12h1v1h-1zM11 13h1v1h-1zM22 13h1v1h-1zM18 15h1v1h-1zM17 18h1v1h-1zM13 19h1v1h-1zM31 20h1v1h-1zM14 21h1v1h-1zM16 21h1v1h-1zM26 21h1v1h-1zM30 21h1v1h-1z"/><path fill="#ff9e00" d="M21 4h1v1h-1zM19 13h1v1h-1zM34 14h1v1h-1zM23 15h1v1h-1zM24 17h1v1h-1zM13 18h1v1h-1zM32 18h1v1h-1zM25 19h1v1h-1z"/><path fill="#ff8f00" d="M29 2h1v1h-1zM24 3h1v1h-1zM20 4h1v1h-1zM22 4h1v1h-1zM33 5h1v1h-1zM33 8h1v1h-1zM34 11h1v1h-1zM11 12h1v1h-1zM22 12h1v1h-1zM34 12h1v1h-1zM34 13h1v1h-1zM18 14h1v1h-1zM12 15h1v1h-1zM33 16h1v1h-1zM17 17h1v1h-1zM31 19h1v1h-1zM26 20h1v1h-1zM15 21h1v1h-1zM27 22h3v1h-3z"/><path fill="#ff8000" d="M27 2h2v1h-2zM31 3h1v1h-1zM11 5h1v1h-1zM33 7h1v1h-1zM20 8h2v1h-2zM20 9h2v1h-2zM20 10h2v1h-2zM11 11h1v1h-1zM19 12h1v1h-1zM17 16h1v1h-1zM24 16h1v1h-1zM13 17h1v1h-1zM14 20h1v1h-1zM16 20h1v1h-1zM30 20h1v1h-1z"/><path fill="#ff7000" d="M19 4h1v1h-1zM33 6h1v1h-1zM11 9h1v1h-1zM11 10h1v1h-1zM20 11h2v1h-2zM23 14h1v1h-1zM13 16h1v1h-1zM32 17h1v1h-1zM25 18h1v1h-1zM14 19h1v1h-1zM16 19h1v1h-1zM30 19h1v1h-1zM27 21h3v1h-3z"/><path fill="#ff6100" d="M32 4h1v1h-1zM11 6h1v1h-1zM11 7h1v1h-1zM20 7h2v1h-2zM11 8h1v1h-1zM19 8h1v1h-1zM22 8h1v1h-1zM22 9h1v1h-1zM33 9h1v1h-1zM22 10h1v1h-1zM23 13h1v1h-1zM12 14h1v1h-1zM17 15h1v1h-1zM14 18h1v1h-1zM16 18h1v1h-1zM31 18h1v1h-1zM15 20h1v1h-1zM27 20h1v1h-1zM29 20h1v1h-1z"/><path fill="#ff5200" d="M13 3h1v1h-1zM17 3h1v1h-1zM23 4h1v1h-1zM21 5h1v1h-1zM22 7h1v1h-1zM19 9h1v1h-1zM19 10h1v1h-1zM22 11h1v1h-1zM18 13h1v1h-1zM33 15h1v1h-1zM16 17h1v1h-1zM25 17h1v1h-1zM15 19h1v1h-1zM26 19h1v1h-1zM29 19h1v1h-1zM28 20h1v1h-1z"/><path fill="#ff4200" d="M25 3h1v1h-1zM30 3h1v1h-1zM20 5h1v1h-1zM20 6h2v1h-2zM19 7h1v1h-1zM17 14h1v1h-1zM13 15h1v1h-1zM24 15h1v1h-1zM16 16h1v1h-1zM32 16h1v1h-1zM14 17h1v1h-1zM15 18h1v1h-1zM30 18h1v1h-1zM27 19h2v1h-2z"/><path fill="#ff3300" d="M12 4h1v1h-1zM22 5h1v1h-1zM22 6h1v1h-1zM33 10h1v1h-1zM19 11h1v1h-1zM18 12h1v1h-1zM23 12h1v1h-1zM33 12h1v1h-1zM12 13h1v1h-1zM33 14h1v1h-1zM14 16h1v1h-1zM15 17h1v1h-1zM31 17h1v1h-1zM26 18h1v1h-1z"/><path fill="#ff2400" d="M14 3h1v1h-1zM16 3h1v1h-1zM18 4h1v1h-1zM32 5h1v1h-1zM19 6h1v1h-1zM33 11h1v1h-1zM33 13h1v1h-1zM24 14h1v1h-1zM16 15h1v1h-1zM15 16h1v1h-1zM25 16h1v1h-1zM29 18h1v1h-1z"/><path fill="#ff1400" d="M15 3h1v1h-1zM26 3h1v1h-1zM24 4h1v1h-1zM31 4h1v1h-1zM19 5h1v1h-1zM23 8h1v1h-1zM23 9h1v1h-1zM23 10h1v1h-1zM23 11h1v1h-1zM12 12h1v1h-1zM13 14h1v1h-1zM30 17h1v1h-1zM27 18h2v1h-2z"/><path fill="#ff0500" d="M29 3h1v1h-1zM12 5h1v1h-1zM32 6h1v1h-1zM23 7h1v1h-1zM32 7h1v1h-1zM32 8h1v1h-1zM12 10h1v1h-1zM12 11h1v1h-1zM17 13h1v1h-1zM16 14h1v1h-1zM14 15h2v1h-2zM32 15h1v1h-1zM31 16h1v1h-1zM26 17h1v1h-1zM29 17h1v1h-1z"/><path fill="#fa0101" d="M23 5h1v1h-1zM12 6h1v1h-1zM23 6h1v1h-1zM12 7h1v1h-1zM12 8h1v1h-1zM12 9h1v1h-1zM32 9h1v1h-1zM18 11h1v1h-1zM17 12h1v1h-1zM24 13h1v1h-1zM14 14h2v1h-2zM32 14h1v1h-1zM27 17h2v1h-2z"/><path fill="#f30202" d="M27 3h2v1h-2zM18 8h1v1h-1zM18 9h1v1h-1zM18 10h1v1h-1zM24 12h1v1h-1zM13 13h1v1h-1zM16 13h1v1h-1zM25 15h1v1h-1zM26 16h1v1h-1zM30 16h1v1h-1z"/><path fill="#ec0303" d="M13 4h1v1h-1zM17 4h1v1h-1zM18 5h1v1h-1zM18 6h1v1h-1zM18 7h1v1h-1zM32 10h1v1h-1zM32 11h1v1h-1zM32 12h1v1h-1zM32 13h1v1h-1zM25 14h1v1h-1zM31 15h1v1h-1zM29 16h1v1h-1z"/><path fill="#e50404" d="M31 5h1v1h-1zM24 11h1v1h-1zM13 12h1v1h-1zM16 12h1v1h-1zM15 13h1v1h-1zM27 16h2v1h-2z"/><path fill="#de0505" d="M25 4h1v1h-1zM30 4h1v1h-1zM24 5h1v1h-1zM31 6h1v1h-1zM24 7h1v1h-1zM31 7h1v1h-1zM24 8h1v1h-1zM31 8h1v1h-1zM24 9h1v1h-1zM24 10h1v1h-1zM17 11h1v1h-1zM14 13h1v1h-1zM31 14h1v1h-1zM26 15h1v1h-1zM30 15h1v1h-1z"/><path fill="#d70606" d="M14 4h1v1h-1zM16 4h1v1h-1zM13 5h1v1h-1zM24 6h1v1h-1zM31 9h1v1h-1zM13 11h1v1h-1zM14 12h2v1h-2zM25 13h1v1h-1z"/><path fill="#cf0707" d="M15 4h1v1h-1zM17 5h1v1h-1zM13 6h1v1h-1zM13 7h1v1h-1zM17 7h1v1h-1zM13 8h1v1h-1zM17 8h1v1h-1zM13 9h1v1h-1zM17 9h1v1h-1zM13 10h1v1h-1zM17 10h1v1h-1zM31 10h1v1h-1zM25 12h1v1h-1zM31 13h1v1h-1zM26 14h1v1h-1zM27 15h1v1h-1zM29 15h1v1h-1z"/><path fill="#c80808" d="M26 4h1v1h-1zM29 4h1v1h-1zM30 5h1v1h-1zM17 6h1v1h-1zM16 11h1v1h-1zM25 11h1v1h-1zM31 11h1v1h-1zM31 12h1v1h-1zM30 14h1v1h-1zM28 15h1v1h-1z"/><path fill="#c10909" d="M25 5h1v1h-1zM30 6h1v1h-1zM25 7h1v1h-1zM30 7h1v1h-1zM25 8h1v1h-1zM25 9h1v1h-1zM25 10h1v1h-1zM14 11h2v1h-2zM26 13h1v1h-1zM27 14h1v1h-1z"/><path fill="#ba0a0a" d="M27 4h2v1h-2zM14 5h1v1h-1zM14 6h1v1h-1zM25 6h1v1h-1zM14 7h1v1h-1zM14 8h1v1h-1zM30 8h1v1h-1zM30 13h1v1h-1zM28 14h2v1h-2z"/><path fill="#b30c0c" d="M16 5h1v1h-1zM16 7h1v1h-1zM16 8h1v1h-1zM14 9h3v1h-3zM30 9h1v1h-1zM14 10h3v1h-3zM26 12h1v1h-1zM30 12h1v1h-1zM27 13h1v1h-1z"/><path fill="#ac0d0d" d="M15 5h1v1h-1zM29 5h1v1h-1zM16 6h1v1h-1zM15 8h1v1h-1zM30 10h1v1h-1zM26 11h1v1h-1zM28 13h2v1h-2z"/><path fill="#a50e0e" d="M26 5h1v1h-1zM15 6h1v1h-1zM15 7h1v1h-1zM26 7h1v1h-1zM26 8h1v1h-1zM26 9h1v1h-1zM26 10h1v1h-1zM30 11h1v1h-1zM27 12h1v1h-1zM29 12h1v1h-1z"/><path fill="#9d0f0f" d="M26 6h1v1h-1zM29 6h1v1h-1zM29 7h1v1h-1zM29 8h1v1h-1zM28 12h1v1h-1z"/><path fill="#961010" d="M28 5h1v1h-1zM29 9h1v1h-1z"/><path fill="#8f1111" d="M27 5h1v1h-1zM27 8h2v1h-2zM29 10h1v1h-1zM27 11h1v1h-1zM29 11h1v1h-1z"/><path fill="#881212" d="M27 6h2v1h-2zM27 7h2v1h-2zM27 9h2v1h-2zM27 10h2v1h-2zM28 11h1v1h-1z"/></g>
</g>
<g stroke="#000" stroke-width="4.17" fill="none" stroke-dasharray="25 25">
<path d="M3315 2745.1V1704.3M3315 1704.3V1479.3"/>
<path d="M3629.2 2745.1V1704.3M3629.2 1704.3V1479.3"/>
<path d="M2965 2387.8H3985.7M3985.7 2387.8H4210.4"/>
<path d="M2965 2067.9H3985.7M3985.7 2067.9H4210.4"/>
<path d="M2965 2745.1L3985.7 1704.3"/>
</g>
<g clip-path="url(#t5)">
<polyline fill="none" stroke="#0000ff" stroke-width="6.0" stroke-linejoin="miter" stroke-miterlimit="10" points="2964.2,1684.9 2989.8,1678.8 3015.3,1672.7 3040.8,1667.9 3066.4,1660.1 3091.9,1649.2 3117.4,1636.5 3142.9,1620.8 3168.5,1603.4 3194,1583.3 3219.5,1562.4 3245.1,1543.2 3270.6,1526.6 3296.1,1512.7 3321.7,1502.6 3347.2,1497.8 3372.7,1499.6 3398.2,1507 3423.8,1520.1 3449.3,1534.5 3474.8,1546.2 3500.4,1552.3 3525.9,1551.9 3551.4,1544.1 3577,1533.6 3602.5,1522.7 3628,1511.8 3653.5,1503.5 3679.1,1501.3 3704.6,1504.8 3730.1,1511.8 3755.7,1520.1 3781.2,1530.1 3806.7,1542.3 3832.3,1555.4 3857.8,1573.7 3883.3,1594.7 3908.8,1613 3934.4,1631.3 3959.9,1647 3985.4,1656.6" />
<polyline fill="none" stroke="#000" stroke-width="6.6" stroke-linejoin="miter" stroke-miterlimit="10" points="3021.1,1685.8 3063.8,1679.7 3107.4,1671 3151.1,1657.5 3181.6,1644.9 3216.5,1626.1 3251.4,1601.2 3277.5,1582.5 3299.3,1570.7 3321.1,1564.6 3338.6,1562.4 3360.4,1562.9 3390.9,1565.9 3421.4,1567.7 3447.6,1565.9 3478.1,1559.8 3508.7,1549.8 3543.6,1533.2 3578.4,1515.8 3609,1504.9 3635.1,1499.2 3656.9,1497.9 3687.5,1500.5 3722.4,1506.6 3766,1514.5 3809.6,1520.6 3853.2,1524.5 3896.8,1526.2 3940.4,1526.2 3985.3,1525.4" />
</g>
<g clip-path="url(#s5)">
<polyline fill="none" stroke="#0000ff" stroke-width="6.0" stroke-linejoin="miter" stroke-miterlimit="10" points="4114.3,1705.1 4124.8,1731.1 4141.2,1757.1 4159.8,1783.2 4177.3,1809.2 4186.1,1835.2 4188.6,1861.3 4185.1,1887.3 4183.7,1913.3 4187.9,1939.4 4192.1,1965.4 4188.9,1991.4 4182.6,2017.4 4178.4,2043.5 4177.3,2069.5 4172.8,2095.5 4166.1,2121.6 4160.5,2147.6 4155.6,2173.6 4151.1,2199.7 4146.2,2225.7 4140.9,2251.7 4134.6,2277.7 4130.4,2303.8 4127.9,2329.8 4120.6,2355.8 4108.6,2381.9 4099.5,2407.9 4088.2,2433.9 4072.4,2460 4063.6,2486 4057.7,2512 4048.9,2538 4041.5,2564.1 4036.2,2590.1 4028.5,2616.1 4018,2642.2 4012,2668.2 4013.7,2694.2 4008.1,2720.3 4004.6,2746.3" />
<polyline fill="none" stroke="#000" stroke-width="6.6" stroke-linejoin="miter" stroke-miterlimit="10" points="4004.1,2687.9 4010.2,2644.3 4018.9,2599.9 4032.4,2555.4 4045.1,2524.3 4063.8,2488.7 4088.6,2453.1 4107.3,2426.4 4119.1,2404.2 4125.2,2382 4127.4,2364.2 4126.9,2341.9 4123.9,2310.8 4122.2,2279.7 4123.9,2253 4130,2221.9 4140,2190.7 4156.6,2155.2 4174,2119.6 4184.9,2088.5 4190.5,2061.8 4191.8,2039.5 4189.2,2008.4 4183.1,1972.8 4175.3,1928.4 4169.2,1883.9 4165.3,1839.4 4163.5,1794.9 4163.5,1750.5 4164.4,1704.7" />
</g>
<rect x="3653" y="2561.3" width="280.6" height="130.9" fill="#fff" fill-opacity="0.5" stroke="#000" stroke-opacity="0.5" stroke-width="4.17"/>
<text x="3913.2" y="2650.1" font-size="83.3" text-anchor="end">-80 fs</text>
<path stroke="#000" stroke-width="2.0" fill="none" shape-rendering="crispEdges" d="M3120.1 2745.1v-16.7M3120.1 1687.6v33.4M3120.1 1479.3v16.7M2965 2586.3h16.7M3969 2586.3h33.4M4210.4 2586.3h-16.7M3326.2 2745.1v-16.7M3326.2 1687.6v33.4M3326.2 1479.3v16.7M2965 2376.5h16.7M3969 2376.5h33.4M4210.4 2376.5h-16.7M3532.2 2745.1v-16.7M3532.2 1687.6v33.4M3532.2 1479.3v16.7M2965 2166.7h16.7M3969 2166.7h33.4M4210.4 2166.7h-16.7M3738.2 2745.1v-16.7M3738.2 1687.6v33.4M3738.2 1479.3v16.7M2965 1956.9h16.7M3969 1956.9h33.4M4210.4 1956.9h-16.7M3944.3 2745.1v-16.7M3944.3 1687.6v33.4M3944.3 1479.3v16.7M2965 1747.1h16.7M3969 1747.1h33.4M4210.4 1747.1h-16.7"/>
<g stroke="#000" stroke-width="4" fill="none" stroke-linecap="square" shape-rendering="crispEdges">
<rect x="2965" y="1479.3" width="1020.7" height="225"/>
<rect x="2965" y="1704.3" width="1020.7" height="1040.8"/>
<rect x="3985.7" y="1704.3" width="224.7" height="1040.8"/>
</g>
<text x="3118.2" y="2818.8" font-size="75" text-anchor="middle">1.7</text>
<text x="3324.6" y="2818.8" font-size="75" text-anchor="middle">1.8</text>
<text x="3530.9" y="2818.8" font-size="75" text-anchor="middle">1.9</text>
<text x="3737.9" y="2818.8" font-size="75" text-anchor="middle">2.0</text>
<text x="3944.8" y="2818.8" font-size="75" text-anchor="middle">2.1</text>
<rect x="4289" y="150" width="129" height="2594.7" fill="url(#cb)" stroke="#000" stroke-width="4.17"/>
<text x="4429" y="2765.7" font-size="75">0.0</text>
<text x="4429" y="2506.2" font-size="75">0.1</text>
<text x="4429" y="2246.8" font-size="75">0.2</text>
<text x="4429" y="1987.3" font-size="75">0.3</text>
<text x="4429" y="1727.8" font-size="75">0.4</text>
<text x="4429" y="1468.3" font-size="75">0.5</text>
<text x="4429" y="1208.9" font-size="75">0.6</text>
<text x="4429" y="949.4" font-size="75">0.7</text>
<text x="4429" y="689.9" font-size="75">0.8</text>
<text x="4429" y="430.5" font-size="75">0.9</text>
<text x="4429" y="171" font-size="75">1.0</text>
<path stroke="#000" stroke-width="2.0" fill="none" shape-rendering="crispEdges" d="M4418 2485.2h-16.7M4418 2225.8h-16.7M4418 1966.3h-16.7M4418 1706.8h-16.7M4418 1447.3h-16.7M4418 1187.9h-16.7M4418 928.4h-16.7M4418 668.9h-16.7M4418 409.5h-16.7"/>
<g id="xlabel"><text transform="matrix(1.4952 0 0 1.2447 1841.32 2969.40)" font-size="100" style="font-family:'Liberation Serif','DejaVu Serif',serif;font-style:italic">ħ</text><text transform="matrix(1.1810 0 0 1.2084 1910.86 2969.19)" font-size="100" style="font-family:'Liberation Serif','DejaVu Serif',serif;font-style:italic">ω</text><text transform="matrix(0.8292 0 0 0.8333 1991.41 2999.30)" font-size="100" style="font-family:'Liberation Serif','DejaVu Serif',serif;font-style:normal">1</text><text transform="matrix(1.7743 0 0 1.1800 2111.23 2976.29)" font-size="100" style="font-family:'Liberation Serif','DejaVu Serif',serif;font-style:normal">=</text><text transform="matrix(1.4952 0 0 1.2447 2256.02 2969.40)" font-size="100" style="font-family:'Liberation Serif','DejaVu Serif',serif;font-style:italic">ħ</text><text transform="matrix(1.1778 0 0 1.1853 2325.57 2969.21)" font-size="100" style="font-family:'Liberation Serif','DejaVu Serif',serif;font-style:italic">ω</text><text transform="matrix(0.8071 0 0 0.7453 2406.32 3002.10)" font-size="100" style="font-family:'Liberation Sans','DejaVu Sans',sans-serif;font-style:normal">m</text><text transform="matrix(1.1416 0 0 1.3782 2591.05 2970.26)" font-size="100" style="font-family:'Liberation Serif','DejaVu Serif',serif;font-style:normal">(</text><text transform="matrix(1.0234 0 0 1.0921 2632.47 2969.31)" font-size="100" style="font-family:'Liberation Sans','DejaVu Sans',sans-serif;font-style:normal">e</text><text transform="matrix(1.2184 0 0 1.2812 2688.39 2969.40)" font-size="100" style="font-family:'Liberation Sans','DejaVu Sans',sans-serif;font-style:normal">V</text><text transform="matrix(1.1416 0 0 1.3782 2774.49 2970.26)" font-size="100" style="font-family:'Liberation Serif','DejaVu Serif',serif;font-style:normal">)</text></g>
<g id="ylabel" transform="translate(142.2 1915.8) rotate(-90)"><text transform="matrix(1.4952 0 0 1.2519 -5.48 0.00)" font-size="100" style="font-family:'Liberation Serif','DejaVu Serif',serif;font-style:italic">ħ</text><text transform="matrix(1.1810 0 0 1.2084 64.06 -0.21)" font-size="100" style="font-family:'Liberation Serif','DejaVu Serif',serif;font-style:italic">ω</text><text transform="matrix(0.8750 0 0 0.8714 145.21 31.50)" font-size="100" style="font-family:'Liberation Serif','DejaVu Serif',serif;font-style:normal">2</text><text transform="matrix(1.1416 0 0 1.3782 293.05 0.86)" font-size="100" style="font-family:'Liberation Serif','DejaVu Serif',serif;font-style:normal">(</text><text transform="matrix(1.0234 0 0 1.1104 334.47 -0.11)" font-size="100" style="font-family:'Liberation Sans','DejaVu Sans',sans-serif;font-style:normal">e</text><text transform="matrix(1.2184 0 0 1.2812 390.39 0.00)" font-size="100" style="font-family:'Liberation Sans','DejaVu Sans',sans-serif;font-style:normal">V</text><text transform="matrix(1.1416 0 0 1.3782 476.49 0.86)" font-size="100" style="font-family:'Liberation Serif','DejaVu Serif',serif;font-style:normal">)</text></g>
</svg></body></html>
